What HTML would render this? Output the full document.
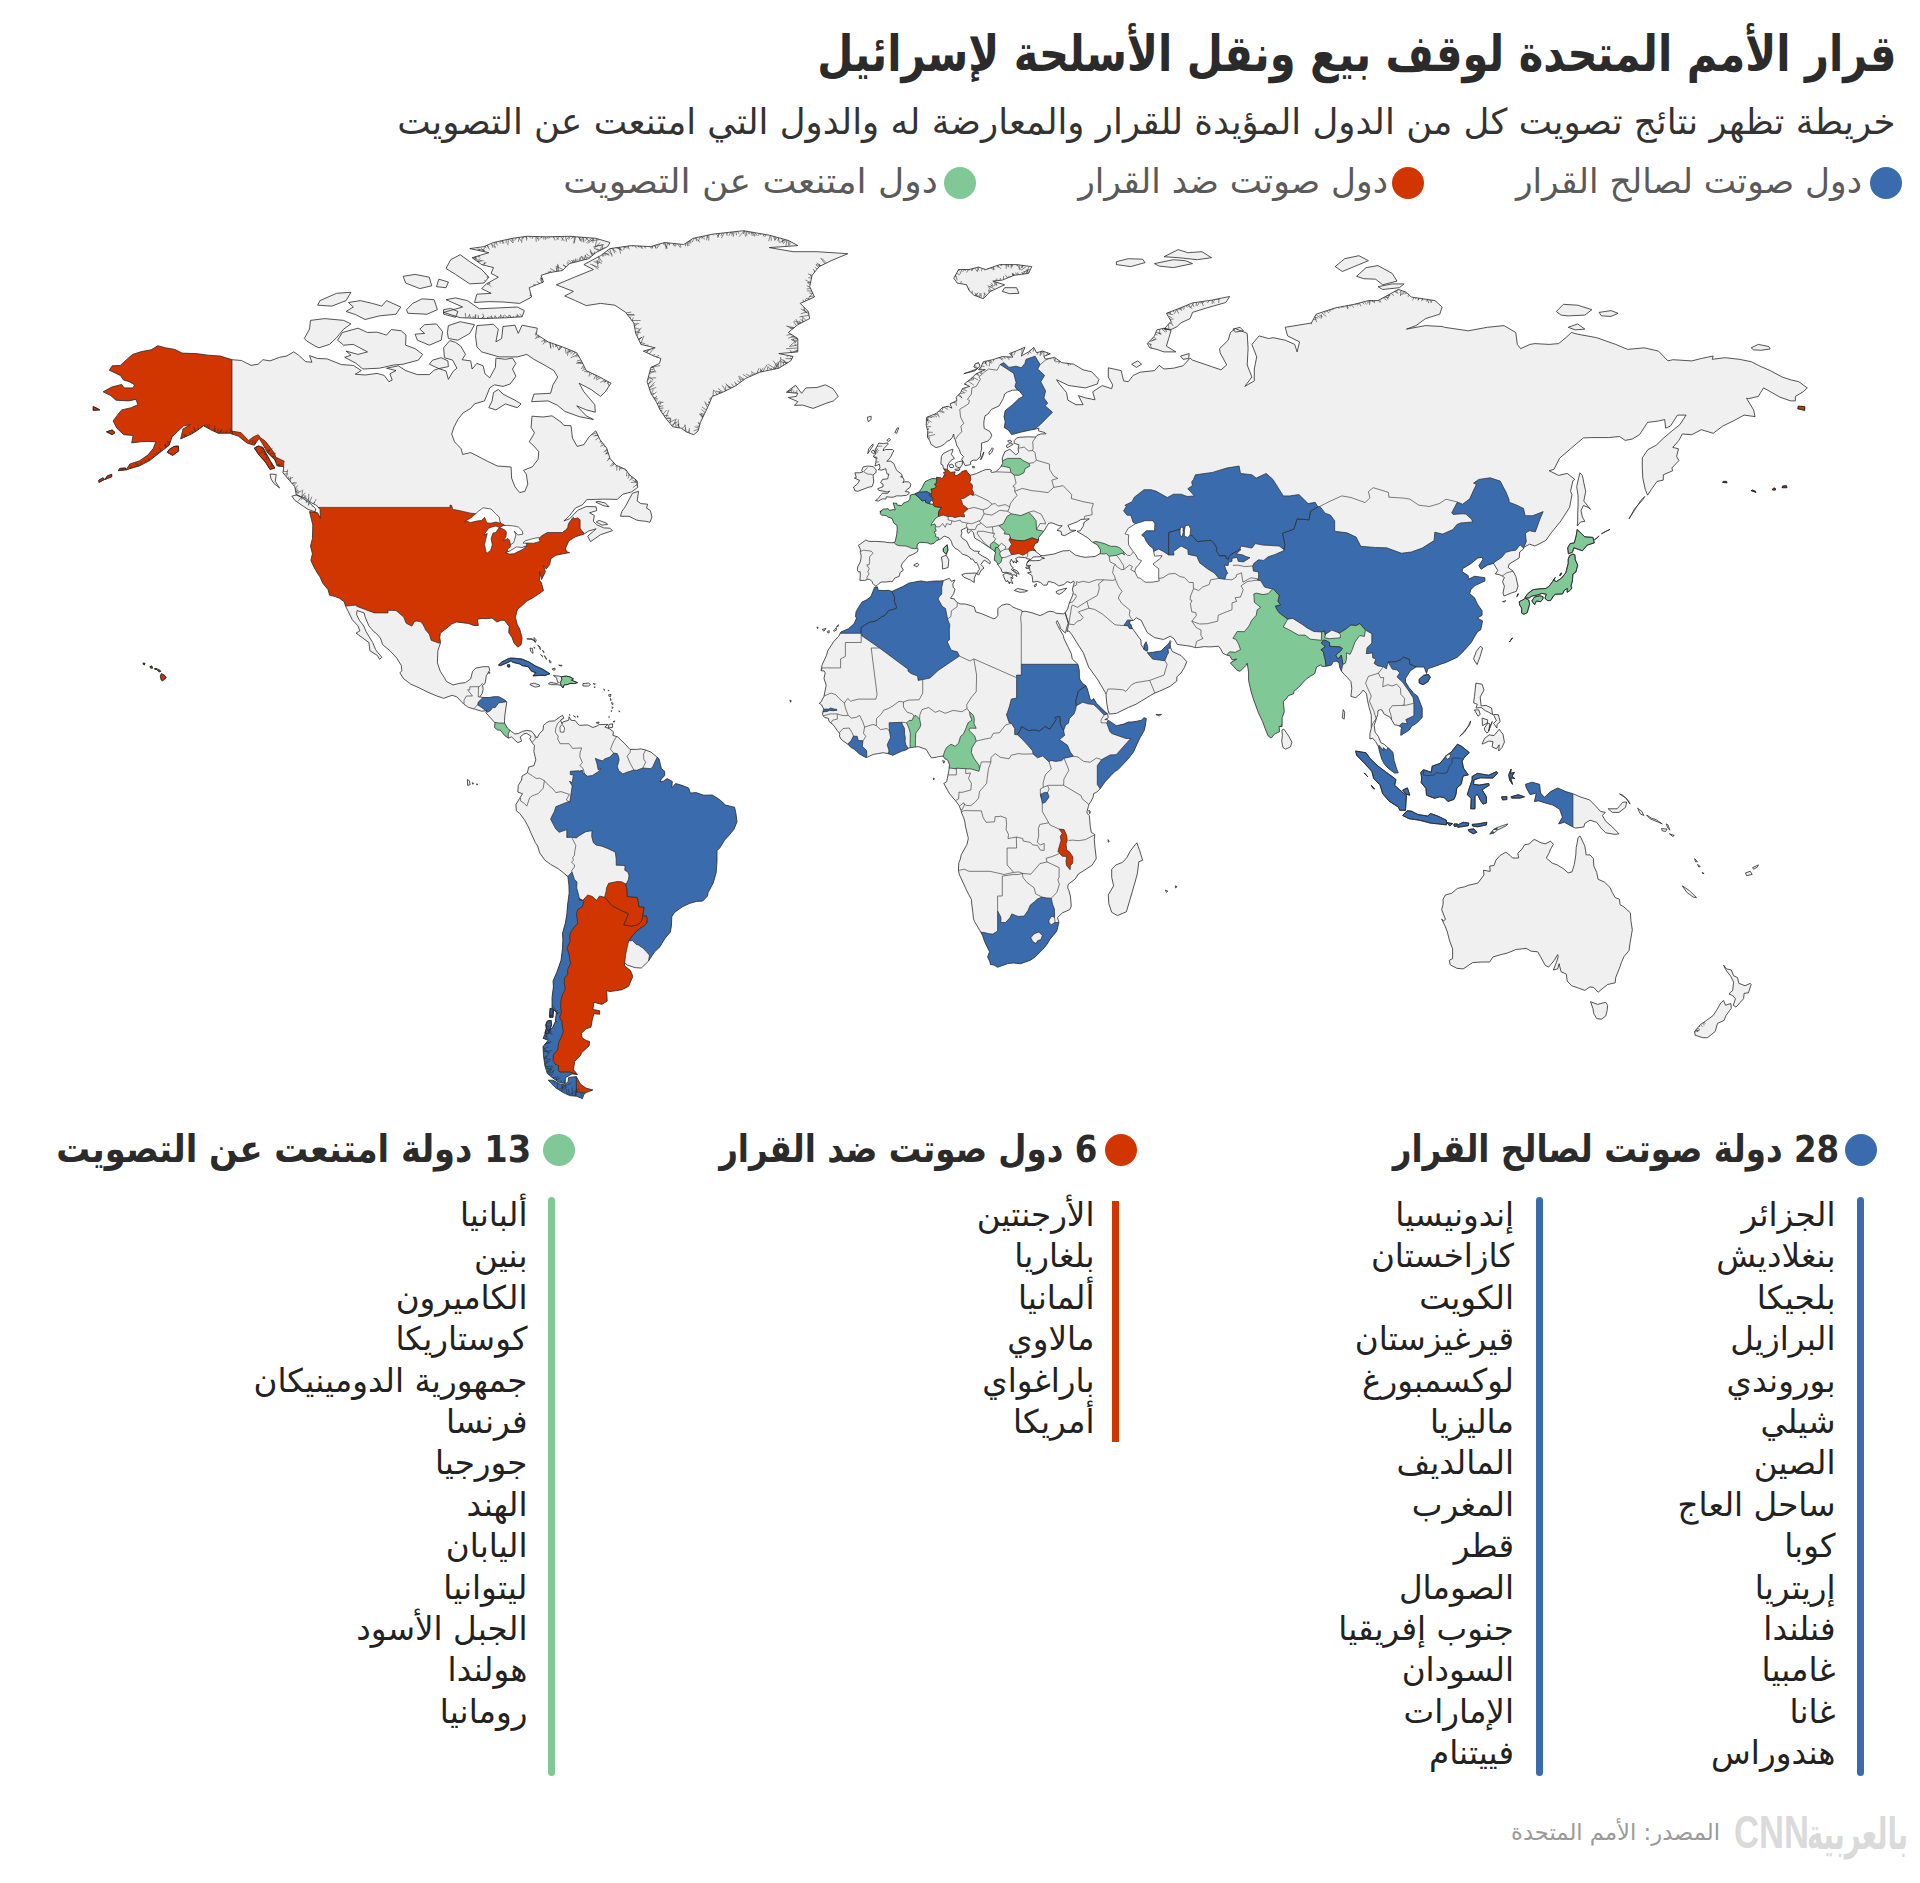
<!DOCTYPE html>
<html lang="ar" dir="rtl">
<head>
<meta charset="utf-8">
<title>قرار الأمم المتحدة لوقف بيع ونقل الأسلحة لإسرائيل</title>
<style>
html,body{margin:0;padding:0;background:#fff;}
body{width:1920px;height:1883px;position:relative;overflow:hidden;font-family:"DejaVu Sans","Liberation Sans",sans-serif;color:#2e2e2e;direction:rtl;}
.t{position:absolute;white-space:nowrap;line-height:1;margin:0;transform-origin:100% 50%;}
#title{right:24px;top:28.5px;font-size:50px;font-weight:700;color:#2b2b2b;transform:scaleX(.833);}
#sub{right:24.5px;top:104px;font-size:35.55px;color:#333;}
.lg{font-size:34.4px;color:#5a5a5a;top:164px;}
.dot{position:absolute;width:32px;height:32px;border-radius:50%;}
.b{background:#3a6bac}.r{background:#d13600}.g{background:#80c896}
.h{font-size:38px;font-weight:700;color:#2b2b2b;top:1130px;transform:scaleX(.855);}
.bar{position:absolute;width:7px;border-radius:3.5px;top:1197px;}
ul{position:absolute;list-style:none;margin:0;padding:0;top:1195px;text-align:right;}
li{height:41.4px;line-height:41.4px;font-size:32.6px;color:#222;white-space:nowrap;}
#src{left:1511px;top:1821px;font-size:22.7px;color:#9a9a9a;right:auto;}
.lar{right:12.5px;top:1812px;font-size:44px;font-weight:700;color:#dadada;transform:scaleX(.62);}
.len{left:1734px;right:auto;top:1821px;font-family:"Liberation Sans",sans-serif;font-size:34.6px;font-weight:700;color:#dadada;direction:ltr;transform:scaleY(1.33);transform-origin:0 100%;letter-spacing:0;}
</style>
</head>
<body>
<svg width="1920" height="1883" viewBox="0 0 1920 1883" style="position:absolute;left:0;top:0">
<defs><clipPath id="lc"><path d="M103.1 391.8L111.7 387.1L121.7 384.4L124.1 387.9L133.1 387.9L134.5 384.8L129.3 381.7L123.6 380.1L120.3 375.4L109.3 370.2L112.2 365.8L120.3 365.4L127.4 358.9L132.6 354.4L141.7 351.5L151.2 349.8L157.8 345.7L165.4 347.8L174.9 349.4L182.1 353.1L196.3 353.6L208.2 355.2L220.1 356.0L232.0 359.7L241.5 360.5L251.0 365.4L258.2 364.2L262.9 359.7L270.0 360.9L279.6 357.3L286.7 356.0L293.8 351.9L298.6 355.2L305.7 361.7L311.9 362.2L309.5 355.6L317.6 358.5L327.1 358.9L341.4 364.6L353.3 365.4L361.3 370.6L355.2 374.2L365.1 375.0L377.0 373.4L384.2 375.4L388.9 381.7L392.2 380.1L389.9 373.8L396.0 370.6L386.5 368.2L398.4 365.8L405.6 370.6L417.4 374.6L429.3 374.6L434.1 370.2L438.8 368.6L446.0 371.0L448.4 379.3L453.1 371.4L456.9 368.2L452.6 360.1L444.5 357.7L443.6 347.8L449.8 340.6L455.5 342.3L460.7 346.1L465.5 354.4L462.1 359.7L470.7 360.9L472.1 369.0L476.9 363.4L483.1 365.8L485.0 373.8L489.7 377.8L495.4 367.4L495.9 358.1L505.4 359.3L512.5 358.1L515.9 363.4L512.5 369.0L515.9 376.2L510.2 384.0L503.0 386.4L494.5 384.8L489.7 387.9L487.3 394.1L484.5 400.9L474.5 403.9L470.7 408.4L463.1 412.9L457.9 419.5L454.1 426.8L451.7 434.0L454.5 441.8L461.2 448.8L462.6 454.4L470.7 452.6L481.6 458.2L487.3 461.2L497.3 466.0L511.1 467.0L511.6 478.1L514.9 486.7L519.7 492.6L524.9 491.3L527.8 484.1L526.3 474.1L523.5 470.4L532.5 466.7L538.2 459.2L538.7 451.6L533.9 446.0L529.2 441.8L533.5 434.7L534.4 432.6L531.1 427.5L532.0 416.2L543.0 417.0L552.0 415.8L561.0 422.1L563.9 425.4L571.0 425.7L572.5 438.3L577.2 446.4L583.9 444.6L589.1 436.8L595.8 430.8L600.0 439.7L606.7 448.1L610.0 458.5L616.2 465.3L625.7 469.4L629.5 474.8L637.1 480.8L637.6 487.4L631.4 492.0L622.9 494.2L617.2 499.4L602.9 499.1L586.7 499.7L582.4 504.9L575.3 508.1L569.6 515.7L563.9 521.0L569.6 518.8L577.7 510.3L586.2 506.5L596.2 506.8L596.7 510.6L589.6 512.8L594.3 515.4L593.4 521.3L596.7 524.8L603.8 527.9L610.0 528.2L612.4 530.7L600.5 534.7L590.5 541.7L587.7 536.2L593.4 531.3L596.2 528.8L588.6 531.0L583.9 534.1L575.3 536.8L568.7 541.1L566.3 546.6L565.3 549.0L567.2 552.0L569.6 552.6L562.9 553.8L555.8 555.3L551.1 558.6L550.6 560.1L549.6 564.6L546.3 569.0L543.5 565.7L545.4 571.6L541.6 579.5L539.6 571.6L539.6 580.4L541.3 582.7L543.5 590.5L538.7 594.0L532.0 598.3L526.8 601.1L522.5 605.1L517.3 609.7L515.4 617.5L517.3 624.8L519.7 629.0L522.1 638.1L521.1 644.7L517.8 647.2L514.0 643.1L512.1 637.6L508.7 632.6L509.2 626.5L504.5 620.3L501.1 620.3L496.9 622.0L492.1 618.1L486.4 618.7L482.1 618.4L477.4 619.2L478.3 625.6L473.6 625.4L468.3 623.4L463.6 622.9L456.4 622.0L451.7 624.0L446.0 628.7L440.3 633.1L439.8 637.6L440.5 642.8L437.9 650.7L437.4 662.7L440.3 671.3L444.1 677.2L446.5 681.5L453.1 685.0L459.3 683.4L465.5 682.6L470.7 678.8L472.6 671.3L475.9 668.1L483.1 666.7L488.8 666.7L489.7 670.2L486.4 675.6L485.0 683.6L482.6 685.2L483.1 689.5L482.1 693.7L479.7 696.9L484.0 697.5L489.2 697.5L494.0 696.7L498.8 696.7L504.9 700.1L506.8 702.0L505.9 708.0L504.9 714.9L504.5 720.2L504.5 723.0L507.3 728.0L511.6 731.7L514.9 734.0L518.3 733.5L522.5 731.4L526.8 730.4L531.6 731.2L534.7 735.0L537.0 738.0L539.6 733.5L543.0 730.1L543.5 725.4L546.8 722.5L549.6 721.2L554.4 720.9L559.1 717.5L562.5 715.2L563.9 718.1L560.6 720.2L562.0 723.8L562.9 722.0L568.7 720.2L569.1 716.7L571.0 720.2L575.3 720.7L577.7 723.8L579.6 725.4L587.7 724.9L592.9 727.5L597.2 725.9L599.1 724.6L608.1 724.4L604.8 727.0L609.5 728.8L613.4 731.7L612.9 735.4L617.6 736.9L624.3 743.2L630.0 749.4L636.7 749.4L640.9 748.9L645.7 750.0L650.9 752.1L656.6 756.7L659.0 758.8L661.4 768.7L664.7 771.3L664.7 775.5L661.4 779.1L660.0 781.7L663.3 781.2L667.1 778.6L672.3 781.4L671.8 787.9L675.6 783.5L681.8 785.3L688.5 787.9L690.4 793.1L696.1 792.6L703.7 795.2L712.3 795.0L719.4 799.4L725.6 805.1L731.3 806.4L734.6 807.2L736.0 814.0L737.0 821.8L734.1 829.1L729.4 834.9L724.6 840.1L719.9 847.8L717.0 850.7L717.0 861.2L716.1 872.9L713.2 883.1L708.0 892.8L707.5 896.0L702.7 901.1L696.6 901.4L689.9 903.3L682.3 906.8L674.7 912.3L671.8 916.7L671.4 926.0L670.4 932.1L664.7 938.8L660.0 946.7L654.2 952.3L648.5 961.1L641.4 968.0L635.2 967.7L627.4 965.1L624.3 962.6L624.8 966.0L630.5 970.6L632.8 976.4L628.6 986.3L621.9 989.8L610.0 991.6L606.7 990.7L607.2 1001.1L601.9 1004.4L593.9 1002.3L592.9 1009.5L599.6 1010.7L599.6 1014.3L593.9 1013.7L592.4 1019.2L591.0 1027.1L585.8 1029.0L581.5 1033.3L582.0 1037.7L586.2 1040.5L589.6 1041.4L589.1 1045.9L581.5 1052.8L580.5 1055.4L574.8 1061.2L573.4 1069.6L577.5 1074.5L572.0 1073.9L565.3 1077.8L565.3 1083.5L559.6 1082.8L553.0 1078.2L547.3 1073.6L544.9 1065.7L543.5 1056.0L543.0 1046.5L548.2 1040.2L543.0 1038.3L546.3 1031.5L552.5 1027.8L555.3 1021.6L556.3 1012.5L552.0 1008.3L552.0 997.5L553.4 986.9L553.0 981.0L556.8 972.3L561.0 960.3L562.5 948.4L562.9 939.9L562.5 933.2L565.3 923.3L566.8 914.5L567.7 904.1L569.1 893.3L568.9 885.2L567.9 876.7L562.9 872.4L558.2 868.7L550.6 864.4L544.9 860.2L539.6 852.8L537.7 845.9L535.4 842.8L531.1 833.3L528.2 826.5L524.4 819.7L519.7 813.4L516.3 810.8L515.9 804.6L519.7 798.3L522.5 793.7L517.8 792.1L518.3 785.3L521.6 780.1L522.1 776.0L527.3 772.9L528.7 767.1L533.9 765.6L535.8 759.9L533.9 751.5L534.4 745.3L532.0 742.7L529.7 738.5L531.1 736.4L526.8 733.3L524.0 733.8L520.2 736.9L521.6 741.1L517.8 742.7L514.9 740.1L511.6 736.9L508.3 738.2L504.5 735.4L500.2 730.1L497.8 730.1L494.5 727.5L495.0 722.8L490.7 718.1L485.9 712.8L486.9 710.7L481.6 711.2L475.5 709.4L468.3 707.3L464.0 704.3L456.9 696.9L452.2 695.3L443.6 698.3L436.5 695.9L427.9 692.2L419.3 687.9L410.8 684.2L403.7 678.8L399.9 672.9L401.8 670.8L401.3 665.4L396.5 657.8L389.9 650.7L382.7 644.7L380.4 638.1L376.6 633.7L373.7 631.5L368.9 625.9L365.1 617.0L364.2 613.0L357.1 610.5L356.6 614.7L359.4 620.3L363.7 625.9L366.1 631.5L368.9 636.4L372.7 642.5L375.6 649.6L378.0 652.9L381.8 657.2L379.6 659.4L377.5 655.6L369.9 650.7L368.9 642.5L362.8 638.1L356.1 633.1L359.9 630.9L358.0 625.9L352.3 619.8L348.5 611.9L345.6 606.3L344.2 601.7L339.5 598.3L335.2 596.6L329.5 595.1L328.1 589.7L322.8 583.3L320.0 576.9L317.6 573.4L313.8 566.9L310.9 560.4L312.4 553.8L310.5 546.0L312.4 538.7L312.8 525.1L309.5 511.6L317.6 512.8L320.4 518.2L320.0 509.4L316.6 505.5L310.5 502.3L305.7 498.5L296.2 494.6L294.8 486.7L289.1 480.1L282.9 472.8L283.8 466.7L277.2 466.0L274.8 459.9L267.7 453.0L263.4 445.3L259.1 438.3L254.3 445.3L247.2 443.2L238.2 436.1L229.6 433.3L218.2 433.3L210.6 429.7L203.5 425.7L197.3 430.4L191.6 434.0L180.6 439.0L183.0 429.0L190.2 424.6L183.5 426.1L177.3 431.8L172.1 436.8L169.2 445.3L159.2 453.0L149.7 460.6L139.3 466.0L129.8 468.7L126.0 470.1L129.8 464.0L139.3 460.9L147.8 455.1L153.1 448.8L155.9 441.8L147.8 441.4L140.7 441.8L131.7 442.9L133.1 435.4L123.6 434.7L116.9 428.2L113.1 421.0L117.9 414.4L121.7 409.9L131.2 407.7L137.9 404.7L135.9 399.4L128.3 400.9L116.0 400.2L110.7 395.6ZM1049.1 358.5L1054.6 357.3L1061.7 362.6L1073.6 364.2L1083.1 369.8L1091.7 371.8L1098.8 379.3L1097.4 384.0L1085.5 387.9L1068.9 385.6L1056.5 379.7L1059.4 384.0L1066.5 392.5L1067.9 400.2L1076.0 404.7L1083.1 404.7L1078.4 395.6L1085.5 397.9L1095.0 399.8L1092.7 391.8L1102.2 385.6L1111.7 388.7L1112.6 384.8L1108.3 377.0L1108.3 367.8L1121.2 370.6L1123.6 380.9L1128.3 381.7L1133.1 375.4L1140.2 372.2L1154.5 370.6L1159.2 365.4L1164.0 369.0L1173.5 368.2L1183.0 365.8L1190.1 358.1L1192.5 360.1L1211.5 366.6L1221.0 369.8L1226.7 365.0L1220.1 352.7L1219.6 348.6L1228.2 340.2L1230.5 332.5L1235.3 328.6L1247.2 333.4L1248.1 348.6L1247.2 365.0L1251.9 377.0L1244.8 386.4L1254.3 380.9L1254.3 369.0L1256.7 356.9L1251.9 344.4L1259.1 335.9L1268.6 338.5L1273.3 337.7L1285.2 340.2L1294.7 344.4L1297.1 351.9L1299.5 341.9L1287.6 335.9L1285.2 327.3L1311.4 323.0L1316.1 314.2L1335.2 307.9L1354.2 304.3L1368.4 300.6L1378.0 300.6L1398.4 289.4L1406.5 292.3L1411.2 297.0L1435.0 300.6L1442.1 307.0L1439.8 314.2L1425.5 318.6L1416.0 325.6L1406.5 329.1L1425.5 325.6L1442.1 326.5L1444.5 327.3L1468.3 330.8L1487.3 327.3L1504.0 325.6L1515.8 332.5L1517.3 344.4L1520.6 348.6L1530.1 344.4L1534.9 343.6L1549.1 344.4L1558.6 343.6L1565.8 337.7L1571.5 332.5L1577.7 334.2L1596.7 337.7L1615.7 344.4L1627.6 349.4L1644.2 347.8L1658.5 351.1L1668.0 360.9L1672.8 359.7L1691.8 360.9L1701.3 358.5L1713.2 356.0L1712.2 359.3L1725.1 357.7L1739.3 359.3L1751.2 361.7L1758.4 365.4L1770.2 370.6L1782.1 377.0L1791.6 380.1L1798.8 381.7L1807.3 387.9L1803.1 391.8L1795.4 396.4L1795.4 400.9L1790.7 400.9L1779.8 397.1L1763.6 387.9L1760.7 392.5L1758.4 396.4L1748.8 398.6L1746.5 398.3L1753.6 409.9L1755.0 416.6L1744.1 415.1L1734.6 420.3L1722.7 426.1L1713.2 433.3L1701.3 429.7L1691.8 434.7L1682.3 434.0L1678.9 440.4L1672.8 447.4L1678.5 448.8L1676.6 456.4L1678.9 460.6L1671.8 468.0L1672.8 470.7L1663.3 474.8L1663.3 480.1L1657.1 481.4L1651.4 489.3L1647.6 495.2L1645.2 489.3L1642.8 478.1L1642.3 468.0L1642.3 457.8L1648.0 449.5L1656.1 445.3L1663.3 438.3L1671.8 431.1L1679.9 424.6L1686.1 415.1L1677.5 415.1L1670.4 426.1L1665.6 428.2L1664.7 419.5L1658.5 421.0L1647.6 422.4L1639.5 434.7L1632.3 439.0L1625.2 440.4L1619.5 436.5L1608.6 437.6L1591.9 437.6L1583.4 437.9L1570.5 448.8L1559.6 458.2L1553.9 469.4L1549.1 470.7L1558.6 475.4L1567.2 473.4L1574.8 479.4L1572.9 480.8L1570.5 491.3L1572.0 494.6L1569.6 507.4L1563.4 517.0L1560.1 522.0L1551.5 532.5L1545.8 540.5L1534.9 546.0L1529.6 544.2L1523.9 547.2L1523.5 549.0L1519.7 552.0L1519.2 558.0L1509.2 564.0L1508.2 567.5L1513.0 571.1L1515.8 576.3L1518.0 586.2L1516.3 591.4L1511.1 593.1L1504.0 596.0L1503.0 593.1L1504.4 586.2L1502.5 581.6L1504.4 577.5L1502.1 576.0L1499.2 574.6L1495.4 574.0L1497.8 570.5L1493.5 563.4L1487.3 565.2L1481.1 569.3L1478.8 565.7L1483.0 559.2L1481.6 557.4L1477.8 558.0L1471.2 563.4L1462.6 568.7L1462.1 571.6L1468.3 575.7L1468.3 579.3L1474.5 576.3L1479.7 576.9L1484.9 577.8L1484.9 581.0L1475.0 585.6L1470.7 589.7L1469.7 593.7L1474.5 597.7L1477.3 604.0L1482.1 610.8L1482.1 615.3L1477.3 618.1L1482.6 620.9L1480.7 629.8L1477.3 632.0L1471.2 642.5L1464.0 650.7L1457.4 657.2L1445.5 662.7L1442.1 663.7L1433.1 667.0L1427.9 668.6L1426.5 673.5L1424.1 667.0L1421.2 667.0L1416.0 667.0L1410.3 670.8L1405.5 678.3L1405.5 682.0L1408.9 687.4L1414.1 693.7L1417.4 695.9L1422.2 708.0L1422.2 717.5L1416.5 723.3L1411.7 726.2L1409.3 730.1L1400.8 735.4L1401.0 729.1L1402.2 728.0L1399.1 725.9L1397.0 725.1L1394.6 724.9L1392.2 720.7L1389.8 717.0L1384.1 714.1L1382.2 710.2L1380.3 709.6L1378.0 710.7L1377.7 714.6L1374.2 725.4L1375.1 732.2L1378.4 736.4L1380.8 742.7L1384.1 744.2L1387.9 747.6L1388.7 748.1L1392.9 752.3L1394.1 760.4L1396.3 767.7L1398.2 772.9L1394.6 773.1L1388.7 768.7L1384.6 764.5L1381.8 759.3L1379.6 752.1L1378.4 746.6L1375.6 741.6L1372.7 738.2L1369.9 739.0L1369.9 733.8L1371.3 728.3L1371.3 715.2L1368.9 706.5L1367.5 700.4L1366.5 693.7L1363.2 690.0L1360.4 693.7L1355.6 697.7L1350.9 696.4L1351.8 688.4L1350.9 681.5L1347.0 677.2L1344.2 674.3L1341.3 671.0L1339.7 667.3L1339.0 662.7L1336.1 661.0L1333.3 661.6L1331.4 665.1L1328.0 665.9L1326.1 666.2L1321.8 666.4L1320.9 664.8L1316.6 667.0L1314.7 673.7L1310.7 676.1L1306.2 679.1L1298.5 687.4L1293.8 691.4L1293.8 693.7L1288.3 695.6L1287.1 697.7L1283.3 701.7L1283.6 704.9L1284.3 711.7L1282.1 717.8L1282.1 726.5L1279.1 726.5L1279.5 731.7L1274.3 734.3L1271.2 738.1L1268.1 735.9L1265.0 728.3L1262.6 721.5L1258.4 712.8L1253.4 699.1L1251.0 691.1L1248.6 680.7L1248.6 672.9L1248.1 668.9L1247.2 663.2L1245.8 665.6L1240.1 671.3L1237.0 670.2L1233.4 666.2L1230.3 662.9L1236.7 659.1L1232.2 660.0L1229.6 655.6L1226.7 655.1L1222.9 653.4L1220.8 649.1L1218.7 646.3L1209.6 646.9L1204.4 646.6L1198.7 647.4L1196.1 647.7L1190.6 646.3L1177.3 644.4L1174.0 638.7L1170.2 636.2L1163.5 639.5L1154.5 637.6L1147.3 632.6L1144.2 626.5L1141.2 620.3L1136.4 617.8L1133.3 620.6L1130.5 620.3L1129.3 623.7L1130.7 624.0L1132.1 628.1L1133.1 629.3L1138.5 637.0L1140.9 640.0L1141.2 644.7L1144.0 649.3L1144.0 645.2L1146.1 641.7L1147.6 646.3L1147.8 650.2L1146.4 650.4L1147.8 652.9L1152.6 652.3L1161.1 651.0L1165.4 646.6L1168.7 643.6L1170.2 640.6L1170.9 641.4L1170.2 644.7L1170.4 647.4L1172.3 651.5L1181.1 655.6L1186.8 661.6L1184.4 667.5L1181.1 672.9L1176.8 676.9L1176.8 681.0L1170.2 686.3L1159.7 691.1L1154.9 693.0L1150.7 695.3L1135.9 704.3L1128.3 707.5L1116.4 713.3L1109.3 714.1L1108.1 710.7L1106.7 702.8L1106.0 694.3L1104.8 691.6L1097.9 679.9L1088.6 667.0L1083.4 652.9L1075.8 641.1L1072.2 635.1L1068.9 630.9L1067.0 631.5L1068.6 624.2L1068.9 623.0L1068.4 623.1L1065.2 612.9L1067.7 608.8L1068.9 604.6L1069.8 601.9L1071.3 598.3L1072.7 595.1L1073.2 592.6L1072.4 589.1L1073.4 585.6L1074.3 582.7L1073.6 581.0L1070.8 583.0L1067.0 581.6L1063.9 584.5L1058.7 585.9L1054.6 583.0L1048.4 581.3L1047.0 585.1L1043.4 585.1L1040.8 582.7L1037.0 581.3L1032.7 582.2L1032.7 580.1L1032.0 575.5L1027.5 572.8L1031.3 572.2L1029.9 570.5L1029.4 566.9L1030.6 565.4L1026.3 565.7L1027.0 562.8L1029.4 560.7L1035.4 560.7L1039.9 560.4L1041.8 558.9L1044.6 558.3L1040.6 556.8L1041.1 555.5L1043.2 555.7L1053.7 554.1L1062.9 550.9L1069.6 550.6L1075.3 555.0L1080.8 556.5L1085.0 557.3L1091.2 556.8L1095.0 556.5L1100.0 553.7L1100.3 552.9L1100.5 549.9L1097.4 544.8L1093.8 542.9L1092.7 542.3L1091.2 541.1L1088.1 538.1L1082.2 534.4L1079.8 533.1L1077.0 531.3L1080.3 530.7L1083.1 526.3L1084.3 522.0L1089.3 518.8L1081.0 519.5L1077.4 521.7L1067.9 525.4L1070.3 530.1L1076.0 530.4L1070.8 532.2L1064.8 535.6L1061.7 535.0L1061.0 531.3L1057.0 530.4L1062.2 525.7L1058.9 525.7L1052.2 522.9L1048.7 523.2L1047.2 525.7L1043.7 531.3L1038.7 537.4L1038.4 540.2L1037.7 542.6L1035.1 543.6L1033.2 547.8L1035.8 550.9L1035.6 551.4L1040.6 555.3L1040.1 556.8L1033.2 556.9L1031.3 559.2L1029.2 560.4L1027.0 562.5L1029.9 559.2L1026.3 558.6L1025.6 557.7L1018.5 557.1L1015.6 558.6L1018.2 561.9L1016.1 560.4L1016.6 563.1L1013.7 561.3L1013.7 563.1L1011.3 559.2L1009.9 562.8L1011.6 566.6L1013.2 567.5L1011.3 569.6L1013.2 571.1L1016.6 573.7L1016.8 576.6L1014.9 574.9L1011.8 574.9L1012.8 577.2L1012.8 578.7L1010.9 577.2L1011.3 579.5L1012.8 583.6L1009.7 581.9L1009.4 583.9L1007.5 580.3L1006.6 582.0L1005.6 581.0L1003.7 576.6L1002.8 574.9L1005.9 573.1L1011.3 574.6L1011.3 573.4L1006.1 572.2L1004.2 572.5L1002.3 572.5L1001.1 569.0L999.5 566.9L998.7 565.7L997.6 564.6L997.6 563.5L994.9 560.1L994.2 560.4L994.9 555.0L995.7 552.0L994.6 551.7L993.3 550.2L990.7 548.4L988.5 546.9L980.7 541.7L974.7 538.1L973.3 532.5L971.2 530.4L968.3 533.5L967.1 531.0L967.6 529.1L967.8 528.5L966.6 527.6L961.2 530.1L961.9 532.8L960.9 536.2L962.4 538.4L966.6 541.1L970.0 548.1L974.3 551.1L979.5 551.4L978.1 553.2L982.6 556.2L987.8 558.9L990.4 561.9L989.7 564.0L988.0 562.5L984.2 560.1L980.9 564.3L984.0 568.1L981.4 569.9L978.8 575.0L976.9 574.0L978.1 571.9L977.8 571.1L979.5 569.3L978.7 566.6L976.6 562.5L975.2 562.8L972.6 558.9L970.7 559.2L970.2 557.8L966.9 555.6L962.4 554.1L960.5 552.3L958.6 550.2L955.2 548.4L952.4 545.1L951.4 541.4L949.1 538.1L944.8 536.2L942.9 536.8L940.5 539.3L938.4 540.0L936.9 540.5L935.7 541.4L934.1 543.2L930.7 544.2L927.9 542.9L924.3 542.6L920.0 542.3L917.4 544.2L917.0 547.2L917.5 548.2L918.1 549.0L917.4 551.7L912.9 554.4L908.4 556.2L906.5 558.6L902.5 563.1L901.0 566.0L903.4 570.2L900.1 572.5L899.1 576.6L897.7 576.9L894.8 578.1L892.0 582.0L890.8 581.4L885.8 582.0L881.5 582.0L879.2 583.3L877.0 585.5L875.8 586.2L872.5 583.3L872.3 581.6L869.4 579.3L867.3 579.4L864.7 580.4L859.9 580.4L860.3 574.9L860.1 571.6L858.7 572.1L857.5 570.5L857.3 570.0L857.8 566.6L860.3 561.9L860.8 558.9L861.2 555.9L860.4 552.6L860.3 551.6L860.6 549.6L858.4 545.4L862.5 542.5L865.8 540.0L868.9 541.4L875.5 541.4L884.4 541.9L888.0 542.6L892.9 542.8L894.0 542.5L895.1 541.8L896.7 534.7L897.2 529.1L897.0 525.4L893.9 523.2L892.0 518.4L887.7 517.0L886.5 515.6L881.7 515.1L880.0 513.6L881.1 511.4L879.8 511.7L883.4 509.2L888.2 508.7L889.4 510.4L892.9 509.7L895.3 509.8L894.8 508.5L893.2 502.8L894.8 503.3L896.4 503.0L897.2 505.1L901.3 505.7L902.9 504.2L903.4 503.0L907.6 501.5L909.8 499.7L910.1 496.3L910.0 495.4L911.3 494.8L913.8 494.2L914.6 494.0L916.2 493.1L918.5 492.2L919.3 491.6L922.0 488.0L925.0 481.8L928.1 480.2L931.9 478.6L935.0 478.4L936.7 479.4L936.5 477.2L941.0 477.8L941.7 478.4L943.1 477.8L943.8 475.6L945.2 475.6L944.5 473.9L943.3 472.8L945.5 471.6L943.6 468.7L942.6 464.9L940.9 464.2L941.1 460.6L941.4 456.4L943.3 453.5L949.8 450.2L952.9 449.2L952.6 451.3L951.4 454.4L954.4 458.4L951.2 460.2L948.6 463.3L948.9 464.2L947.6 464.7L947.4 467.7L947.4 469.4L950.7 472.4L955.2 471.8L954.3 475.1L956.9 475.4L960.0 473.6L961.9 471.6L966.2 470.2L967.8 472.8L970.2 475.3L976.4 473.6L982.6 470.7L985.9 469.6L989.9 469.4L991.8 470.7L990.7 471.4L991.4 472.3L992.6 472.4L995.9 471.8L997.1 470.4L999.7 468.3L1002.8 463.3L1002.5 461.8L1002.5 460.8L1002.3 457.8L1004.9 451.6L1009.9 449.2L1015.6 454.6L1017.1 454.0L1018.5 452.5L1018.2 448.3L1019.0 444.8L1014.2 443.4L1014.2 440.7L1016.8 437.9L1020.1 437.2L1028.5 436.8L1035.8 437.1L1037.0 435.4L1040.6 434.0L1046.1 433.8L1044.9 432.6L1038.4 430.8L1038.9 428.2L1034.6 429.3L1030.6 430.0L1021.1 432.1L1011.6 434.6L1008.3 430.0L1004.2 427.5L1004.7 425.1L1005.2 421.7L1004.0 416.8L1005.2 410.7L1010.4 406.4L1012.3 405.1L1018.7 398.8L1023.5 396.2L1019.2 390.8L1017.3 390.0L1012.5 390.2L1007.8 391.9L1004.7 393.9L1003.3 398.6L999.0 406.0L991.5 409.3L987.8 414.2L985.0 415.8L984.0 420.8L983.8 423.9L984.2 428.4L989.9 431.5L991.8 435.1L990.4 438.3L987.8 441.1L983.8 442.4L981.4 443.2L981.6 449.2L980.7 452.5L980.3 456.6L976.6 460.2L973.1 460.1L970.5 461.8L970.7 464.3L968.2 465.2L965.0 465.5L964.3 464.0L962.8 460.9L961.7 459.2L963.6 456.6L960.7 453.7L959.3 449.5L956.8 445.5L955.6 440.9L955.3 439.7L954.5 439.0L953.6 434.0L952.3 437.4L950.1 440.0L947.2 441.3L944.2 444.2L940.5 446.4L936.0 447.6L934.8 446.9L931.0 444.3L929.7 440.6L927.5 437.4L927.7 430.4L926.2 425.4L926.4 421.7L926.7 417.3L931.7 415.3L936.5 413.3L939.2 410.5L942.9 407.3L948.1 406.2L951.9 408.2L950.0 403.9L957.1 400.4L955.9 397.4L960.5 392.8L962.5 388.5L969.7 386.4L964.3 384.0L970.9 378.7L976.2 373.8L985.3 369.6L978.5 369.8L981.2 366.6L983.3 361.7L992.6 359.7L1002.1 356.6L1013.0 357.1L1009.4 353.6L1015.1 351.4L1025.0 347.2L1021.3 356.0L1028.5 351.9L1033.9 347.5L1036.5 352.7L1042.7 351.1L1050.3 353.8L1043.9 356.3L1045.3 359.1ZM874.3 587.5L877.3 586.8L878.2 590.3L883.9 590.5L888.4 590.3L892.0 591.4L899.4 588.0L902.9 586.5L908.6 583.2L917.0 581.6L921.0 580.9L926.7 581.9L929.8 581.5L935.3 581.0L939.4 581.0L943.3 580.7L949.3 578.4L951.4 581.3L955.0 580.0L952.9 583.9L953.1 587.2L955.0 589.1L953.7 593.5L950.5 598.3L954.3 598.9L955.2 600.6L957.4 602.5L960.0 603.9L965.2 604.0L970.2 605.4L974.3 606.9L975.7 611.9L981.4 613.6L990.7 617.5L993.8 618.8L995.7 618.1L997.8 615.6L997.8 608.5L1002.1 605.1L1006.8 604.0L1010.2 604.7L1012.3 606.8L1016.5 608.6L1021.8 610.4L1022.0 611.6L1025.6 611.3L1032.0 612.8L1040.1 615.6L1044.6 613.6L1047.0 612.1L1049.9 611.3L1053.7 611.8L1056.0 613.2L1063.2 613.9L1065.2 612.9L1068.4 623.1L1067.2 625.9L1066.5 628.7L1065.6 632.3L1065.3 633.0L1062.2 630.1L1060.3 628.1L1059.8 625.6L1057.2 620.6L1056.3 622.6L1057.7 625.4L1059.8 629.5L1063.4 635.6L1063.9 638.4L1065.6 642.0L1068.4 647.7L1071.3 653.7L1072.2 658.9L1076.7 663.2L1077.9 664.3L1079.3 670.2L1079.4 677.2L1080.1 679.9L1082.7 683.6L1086.0 685.8L1087.4 689.0L1090.0 698.5L1091.7 700.6L1093.6 698.5L1096.5 703.3L1100.3 707.0L1105.7 712.3L1107.5 713.8L1108.3 717.8L1104.8 719.6L1107.6 719.6L1108.1 720.4L1109.3 720.9L1116.4 725.7L1123.6 724.1L1128.3 722.0L1131.6 722.0L1136.4 721.3L1141.6 720.2L1143.8 717.7L1146.3 718.4L1145.4 725.7L1144.2 730.6L1139.5 738.7L1137.1 744.0L1133.3 752.3L1127.8 759.3L1118.1 769.6L1115.2 771.3L1111.9 774.4L1104.8 782.1L1100.2 788.8L1096.9 792.0L1093.6 793.7L1093.2 796.9L1091.1 801.2L1088.9 804.5L1088.4 806.5L1086.9 811.9L1087.4 813.6L1089.3 815.6L1089.8 820.7L1090.3 826.7L1091.3 832.3L1093.6 833.7L1094.8 834.7L1094.3 839.3L1095.0 847.9L1096.0 856.2L1096.2 858.7L1092.2 865.1L1083.9 870.6L1078.4 874.0L1075.1 879.1L1068.2 884.3L1067.7 887.9L1068.9 890.6L1070.4 896.0L1071.3 906.1L1069.8 909.6L1062.5 912.8L1057.5 917.6L1058.9 922.5L1056.8 931.0L1055.1 933.2L1050.1 939.2L1047.2 944.1L1043.0 949.1L1035.1 957.0L1030.4 960.3L1024.4 962.4L1020.6 963.7L1013.6 963.0L1007.8 963.6L997.6 967.3L994.0 965.0L992.0 964.7L990.4 964.6L990.0 962.1L987.6 957.0L989.5 951.8L987.3 947.2L984.6 941.7L982.7 935.8L980.8 932.2L974.5 921.4L973.5 918.9L972.8 912.3L971.4 901.1L971.5 899.7L968.8 894.7L966.2 889.5L963.3 883.1L959.5 875.0L958.4 870.5L958.8 862.8L960.2 859.6L961.2 854.9L966.2 845.8L966.9 844.6L968.3 838.6L967.8 836.1L965.4 826.1L964.7 821.0L963.7 817.8L961.2 812.0L961.4 811.3L960.5 809.0L958.8 805.1L955.5 800.7L953.1 798.0L949.1 793.1L943.8 783.4L946.7 781.7L947.4 778.1L948.0 774.9L948.9 770.4L949.1 767.9L949.5 764.8L947.9 760.4L946.2 759.2L945.0 758.8L943.1 756.2L941.9 756.2L938.4 756.7L936.5 757.2L931.5 757.9L928.8 753.9L926.2 749.4L918.6 746.7L915.3 747.0L914.0 747.1L910.2 747.7L908.3 748.2L907.2 749.4L905.5 750.1L901.5 751.3L896.5 753.6L894.1 754.7L892.5 755.4L891.8 754.8L887.7 753.6L883.4 752.7L878.7 753.5L873.5 754.4L870.9 755.4L867.5 757.2L866.6 757.4L865.7 757.4L859.5 754.1L854.7 749.5L851.1 747.4L848.4 745.0L847.8 744.1L847.4 743.9L843.0 740.8L840.9 739.0L839.4 736.0L839.9 734.0L839.2 733.0L837.3 730.6L835.4 727.8L833.0 724.6L830.9 723.0L829.2 721.7L828.3 718.3L824.9 717.5L823.0 715.8L822.6 714.4L822.8 711.9L823.5 709.9L823.8 709.1L822.8 707.3L821.6 704.9L819.2 703.3L820.9 702.2L824.0 696.2L826.2 685.2L824.0 678.4L825.2 672.9L824.0 670.8L821.4 670.9L821.1 670.5L822.1 664.8L826.6 655.1L827.8 650.7L833.5 641.8L838.7 636.2L841.0 631.9L848.5 628.7L854.0 623.8L856.6 618.0L855.5 616.8L856.0 611.9L858.5 607.4L862.0 602.0L866.3 600.0L869.9 597.6L871.1 596.0L873.2 590.8L873.8 589.3ZM1136.9 842.8L1139.7 850.7L1142.6 860.2L1138.8 861.8L1137.4 873.4L1134.5 884.1L1130.2 898.7L1126.4 911.8L1117.4 915.6L1111.7 912.3L1108.8 903.6L1108.3 894.9L1113.6 885.8L1111.7 877.2L1111.7 869.2L1116.0 864.9L1122.6 862.3L1126.9 857.5L1130.2 851.2L1135.0 844.9ZM1580.0 835.9L1584.8 845.9L1586.2 854.9L1590.0 854.9L1593.4 858.6L1593.8 866.0L1596.7 872.4L1598.1 879.3L1604.3 882.0L1610.0 887.4L1612.4 892.8L1615.2 897.6L1619.5 899.2L1620.0 904.7L1623.8 906.8L1630.4 912.8L1630.9 920.5L1632.3 929.9L1630.0 943.3L1629.0 950.6L1623.8 956.9L1621.4 962.6L1619.0 969.4L1615.7 977.5L1615.2 982.8L1607.6 984.5L1601.0 989.8L1598.1 992.2L1593.8 987.5L1590.0 986.9L1584.8 990.4L1578.6 988.1L1571.5 985.7L1567.2 981.0L1566.3 974.1L1561.0 971.7L1559.1 963.7L1557.7 968.9L1553.4 970.0L1556.3 962.6L1558.2 956.9L1557.7 954.6L1553.9 960.8L1548.7 967.1L1545.3 965.4L1540.6 956.9L1537.7 951.8L1531.1 951.2L1526.3 948.4L1515.8 949.5L1507.8 952.9L1501.1 954.6L1493.0 956.9L1489.7 962.0L1482.1 962.0L1472.6 962.6L1465.0 967.7L1463.1 968.9L1456.9 968.3L1450.2 964.8L1449.3 960.3L1452.6 958.6L1452.6 948.9L1449.3 939.9L1447.4 932.1L1445.5 927.1L1441.7 918.9L1443.1 921.1L1445.5 919.4L1441.7 909.6L1443.1 904.1L1443.1 899.2L1445.5 894.9L1451.7 893.3L1457.4 888.4L1464.5 886.8L1468.8 885.2L1477.8 883.1L1484.0 875.0L1483.5 870.3L1490.2 871.3L1489.7 866.0L1494.0 865.5L1495.9 860.2L1500.2 855.4L1505.9 852.2L1510.1 855.4L1512.5 858.0L1518.7 858.0L1517.8 853.3L1522.0 849.1L1524.4 844.9L1529.6 843.8L1533.0 840.1L1534.9 839.6L1541.1 842.8L1545.3 843.8L1550.6 841.2L1553.4 844.3L1550.6 849.1L1548.7 853.8L1546.3 858.0L1552.5 863.3L1557.2 864.9L1563.4 868.7L1568.2 872.9L1572.0 871.9L1574.3 864.4L1575.8 854.9L1576.2 847.5L1577.2 842.8L1578.1 837.5ZM1525.4 784.3L1532.0 782.2L1539.6 784.3L1540.6 793.1L1544.4 797.3L1550.6 791.6L1557.7 787.9L1565.8 791.6L1572.9 793.7L1580.0 796.8L1589.6 799.9L1595.7 806.1L1600.5 811.4L1605.2 812.4L1602.4 815.5L1605.7 821.3L1612.4 827.0L1619.0 833.8L1614.8 834.4L1605.7 832.8L1601.0 828.1L1596.7 822.3L1590.0 820.2L1584.8 823.4L1583.8 827.0L1575.3 828.1L1572.0 826.5L1564.4 822.3L1558.6 823.9L1562.4 817.1L1559.6 809.3L1552.9 805.1L1545.3 803.0L1538.7 800.9L1534.4 801.5L1536.3 793.1L1530.1 794.7L1526.3 787.9ZM1723.6 965.1L1726.5 968.9L1731.3 970.0L1733.6 975.8L1737.4 977.5L1738.9 983.4L1745.0 985.7L1750.3 983.4L1751.2 984.5L1748.4 992.8L1744.1 993.4L1743.6 998.7L1736.0 1007.1L1733.2 1005.3L1735.5 998.7L1732.7 995.7L1728.9 993.9L1732.7 990.4L1733.6 982.2L1730.8 976.4L1725.5 969.4ZM1723.6 1000.5L1725.5 1005.3L1730.8 1003.5L1731.3 1008.3L1726.0 1015.5L1724.1 1020.4L1717.5 1023.4L1715.1 1031.5L1712.2 1033.9L1707.5 1037.7L1702.7 1037.7L1695.1 1035.2L1694.6 1031.5L1700.3 1024.7L1705.6 1021.0L1713.2 1015.5L1717.0 1009.5L1720.8 1002.9ZM1590.5 1001.7L1597.6 1004.4L1605.7 1002.3L1607.6 1005.3L1607.1 1010.7L1605.7 1016.1L1601.4 1019.2L1596.7 1018.6L1593.8 1013.7L1592.9 1008.3ZM533.9 637.6L536.3 639.8L535.4 642.5L534.4 640.9ZM549.2 660.0L551.1 661.6L550.6 663.2L549.6 662.1ZM1772.6 490.0L1775.5 490.0L1775.0 488.0L1773.1 488.4ZM262.9 447.4L270.0 460.6L274.8 468.0L270.0 469.4L265.3 461.9L259.1 455.1L254.3 448.1L258.2 446.0ZM1751.2 490.7L1756.0 492.3L1755.5 491.3L1752.2 490.0ZM436.5 286.7L446.0 287.7L448.4 282.0L438.8 279.2ZM530.1 648.0L532.5 648.5L533.0 653.4L530.6 651.3ZM595.8 502.0L602.9 505.5L609.1 506.8L605.3 503.0L598.1 501.4ZM608.1 690.3L609.1 690.6L608.6 691.1ZM569.4 714.4L570.2 715.2L569.6 715.3ZM1782.1 487.7L1786.9 487.7L1786.4 485.7L1782.6 486.1ZM1722.7 482.4L1727.0 482.8L1726.5 481.4L1723.2 481.4ZM446.0 268.5L455.5 274.4L469.8 283.9L484.0 283.0L488.8 277.2L481.6 269.5L469.8 261.7L460.2 254.7L450.7 259.7ZM593.4 419.5L579.1 416.6L564.8 411.4L557.7 405.4L548.2 400.9L531.6 401.7L533.9 394.1L550.6 393.3L553.0 384.8L557.7 377.0L553.9 370.6L545.8 365.8L533.9 359.3L526.8 354.4L517.3 356.9L499.2 356.9L481.6 351.9L476.9 346.9L475.5 335.9L476.9 325.6L493.5 324.3L498.3 329.1L495.9 341.9L501.6 338.5L503.0 326.5L514.9 325.2L518.3 333.4L522.1 325.2L537.3 328.2L536.3 334.2L548.2 341.9L562.5 346.9L576.7 352.7L581.5 360.9L586.2 370.6L598.1 376.2L611.0 383.2L605.3 391.8L600.5 396.4L591.0 389.5L579.1 383.2L583.9 391.8L594.8 404.7L595.3 412.2L586.2 409.9L576.7 405.8L586.2 415.8ZM319.0 347.8L329.5 344.4L336.6 337.7L343.7 329.1L350.9 323.9L343.7 320.4L324.7 318.6L310.5 320.4L309.5 329.1L304.3 338.5L306.7 341.0L315.2 346.1ZM619.0 710.7L619.8 711.5L619.2 712.0ZM407.9 313.3L427.0 314.2L437.4 309.7L434.1 299.7L422.2 298.8L412.7 303.4L406.5 309.7ZM577.2 715.9L578.2 716.7L577.7 717.3ZM558.7 665.1L562.0 665.4L561.5 666.2ZM542.5 650.2L544.2 652.3L543.7 652.6ZM549.6 1017.3L553.0 1017.3L553.4 1009.5L550.1 1008.3ZM547.3 1021.0L551.1 1020.4L551.5 1025.3L549.6 1030.2L547.7 1033.9L544.9 1033.3L546.3 1028.4L545.8 1024.7ZM443.6 314.2L455.5 317.3L457.9 311.5L450.7 308.4L443.6 309.7ZM488.8 672.1L490.0 672.4L489.0 673.7ZM498.5 665.1L501.6 662.1L507.8 658.9L510.6 658.1L514.9 658.3L522.1 659.1L529.2 662.1L535.4 665.9L542.5 669.1L549.9 673.7L544.9 675.6L542.0 675.3L533.0 675.9L535.8 672.6L531.6 671.3L528.2 666.7L522.1 665.6L519.9 664.0L516.3 663.2L512.5 662.1L511.1 660.8L506.4 663.2L503.0 664.6L500.7 665.6ZM573.6 715.7L575.5 717.0L575.1 717.3ZM443.6 312.4L460.2 317.7L484.0 318.6L507.8 317.7L522.1 316.8L524.4 310.6L517.3 307.0L498.3 307.9L479.3 308.8L467.4 300.6L455.5 297.9L446.0 299.7L462.6 307.0ZM610.3 698.5L611.2 699.3L610.7 700.6ZM537.7 645.2L540.1 646.9L540.4 649.6L539.4 647.4ZM405.6 283.0L419.8 288.6L431.7 285.8L429.3 277.2L415.1 274.4L403.2 276.3ZM474.5 302.5L488.8 301.6L503.0 302.0L519.7 303.4L531.6 297.0L529.2 287.7L543.5 282.0L541.1 275.3L550.6 272.4L562.5 270.5L569.6 263.6L588.6 258.7L595.8 252.7L607.6 246.6L610.0 242.5L595.8 238.3L569.6 236.3L545.8 236.8L526.8 236.3L512.5 238.3L493.5 242.5L484.0 246.6L469.8 248.6L488.8 252.7L472.1 257.7L481.6 264.6L493.5 267.6L491.1 273.4L498.3 277.2L486.4 283.9L481.6 288.6L491.1 293.3L476.9 294.2ZM540.6 654.8L543.0 656.4L542.5 656.7ZM526.8 638.9L532.0 638.7L535.4 641.4L532.0 639.5ZM693.7 434.7L686.1 431.8L681.3 428.2L672.8 426.8L666.1 418.8L660.0 409.9L656.6 402.4L650.9 393.3L647.1 381.7L650.9 367.4L659.5 363.4L660.9 358.5L653.8 356.0L643.3 351.1L655.2 347.8L640.9 344.4L635.7 333.4L633.8 323.0L625.7 312.4L614.8 305.2L600.5 303.4L586.2 305.6L575.3 300.6L564.8 296.0L573.4 291.4L556.3 284.8L574.4 277.2L593.4 269.5L583.9 264.6L600.5 255.7L610.0 248.6L631.4 245.6L650.4 246.6L664.7 242.5L683.7 244.5L693.2 238.3L712.3 234.2L743.6 230.7L769.3 235.2L788.3 240.4L797.8 245.6L769.3 247.6L793.1 251.7L816.9 251.7L847.8 253.7L831.1 260.7L819.2 266.6L812.1 275.3L809.7 286.7L814.5 297.0L800.2 303.4L808.3 311.5L809.7 318.6L797.8 324.7L788.3 332.5L797.8 338.5L797.8 351.9L778.8 353.6L793.1 356.4L790.7 360.9L778.8 368.2L759.8 372.2L745.5 378.5L736.0 385.6L723.7 391.8L712.3 396.4L707.5 407.7L700.4 422.4L698.0 431.1ZM608.8 716.5L609.5 717.0L608.8 717.5ZM608.6 694.8L611.0 694.3L610.5 696.7L609.1 696.4ZM270.0 474.1L276.2 474.4L275.3 481.4L279.6 488.0L273.8 483.4L271.0 478.8ZM160.4 676.4L161.4 680.2L162.6 680.7L166.1 677.7L164.5 675.3L161.4 673.7ZM548.4 683.9L550.1 682.3L556.3 683.4L558.4 682.8L556.8 679.9L556.8 678.0L553.4 675.6L559.1 676.1L561.3 676.7L566.3 676.1L570.1 676.9L573.4 678.8L571.5 680.2L577.5 682.6L574.6 683.6L570.1 683.4L567.2 684.7L564.4 684.7L562.9 687.9L561.3 685.5L557.7 684.7L551.8 684.7ZM794.5 405.4L802.6 405.1L813.1 408.4L826.4 403.2L833.5 400.9L838.3 396.4L833.0 388.7L825.4 384.8L816.9 387.5L805.9 387.9L801.6 393.3L795.5 385.2L786.4 392.2L797.8 393.3L796.4 396.4L788.3 397.5L797.8 401.7ZM552.2 668.9L554.9 668.1L555.1 670.0L553.0 670.0ZM467.4 779.6L469.3 780.7L470.2 784.8L467.6 785.3ZM529.9 684.2L533.9 683.1L539.6 685.0L539.6 686.3L535.4 687.1L530.6 685.2ZM507.3 664.8L509.7 664.8L509.7 667.0L507.8 667.0ZM142.8 663.7L144.3 664.9L145.0 663.5L143.8 663.0ZM429.3 364.2L438.8 368.6L448.4 366.6L447.9 360.9L441.2 357.7L432.7 360.1ZM167.3 452.3L172.6 455.4L178.7 450.9L178.3 446.0L174.0 446.4L169.2 449.5ZM544.4 655.6L546.3 658.3L546.5 659.4L545.4 657.8ZM596.2 722.5L599.1 722.0L598.8 723.3L596.7 723.3ZM611.4 702.5L613.1 703.3L612.6 704.9ZM157.3 670.2L159.2 671.8L160.7 671.3L159.2 669.7ZM346.1 311.5L355.6 314.6L365.1 319.5L379.4 315.9L396.0 314.2L400.8 307.0L386.5 300.6L381.8 306.1L372.3 303.4L360.4 300.6L348.5 302.5L353.3 307.0ZM154.5 669.1L157.1 669.4L157.1 668.6L154.7 668.6ZM533.7 647.5L535.1 647.7L534.4 648.1ZM620.5 516.3L629.0 516.3L636.7 520.1L640.0 520.7L645.7 521.3L650.0 522.3L651.9 517.0L650.4 510.6L646.6 508.1L647.6 504.2L640.9 503.6L637.1 501.0L638.6 491.3L632.4 493.3L629.0 499.7L625.2 506.8L621.9 511.3ZM106.5 431.8L112.2 434.7L115.0 432.6L112.2 430.0ZM150.0 666.7L150.7 668.1L152.6 668.1L151.6 665.9ZM596.2 522.0L601.9 525.1L607.6 524.5L606.7 523.2L599.1 520.4ZM317.6 305.2L331.9 306.1L346.1 300.6L350.9 292.3L336.6 293.3L320.0 300.6ZM417.4 340.2L429.3 345.2L441.2 340.2L442.6 331.7L436.5 323.9L424.6 324.7L419.8 329.1L424.6 333.4L415.1 334.2ZM582.9 683.6L588.6 683.1L590.5 684.4L588.6 686.0L582.9 686.0ZM472.1 782.7L473.6 783.3L472.8 784.3ZM476.4 784.0L477.8 784.3L477.1 785.1ZM448.4 338.5L457.9 340.2L469.8 333.4L474.5 324.7L460.2 321.7L448.4 325.6L447.4 332.5ZM488.8 407.7L495.9 409.9L505.4 403.9L517.3 407.7L521.1 403.9L514.9 400.2L503.0 394.1L498.3 389.5L493.5 392.5L492.1 400.9ZM593.9 686.9L595.3 687.1L594.6 687.5ZM603.6 689.0L604.8 690.0L604.3 690.3ZM93.2 410.3L99.8 409.9L96.5 408.1L93.2 406.6ZM1797.8 408.8L1804.7 410.3L1804.7 406.6L1798.3 406.2ZM612.2 706.7L612.9 707.5L612.2 708.5ZM611.2 710.4L611.8 710.9L611.4 711.6ZM576.3 1076.5L580.5 1084.2L586.2 1088.2L592.9 1089.9L586.2 1092.6L583.9 1094.3L582.4 1098.7L576.7 1096.3L569.6 1095.6L562.5 1092.2L555.3 1087.5L548.2 1080.2L553.0 1080.2L560.1 1084.2L564.8 1084.8L568.2 1081.5L568.7 1077.5ZM613.1 721.7L614.8 720.9L614.5 722.0ZM608.1 727.8L612.4 727.5L612.6 723.8L609.1 724.4ZM98.9 482.4L104.6 479.4L103.1 477.8L98.9 480.1ZM105.0 479.4L111.7 476.8L111.7 474.4L107.4 475.8ZM118.4 470.7L126.0 469.7L125.5 468.0L119.8 468.4ZM291.9 496.2L294.8 500.4L303.3 506.2L308.1 509.4L315.2 511.9L315.7 508.7L309.0 502.3L300.9 497.2L296.2 494.9ZM344.7 357.3L355.6 363.0L362.8 369.0L379.4 368.2L393.7 365.0L403.2 364.2L418.4 360.1L422.7 354.4L415.1 348.6L405.6 345.2L406.0 335.1L401.3 330.8L391.3 329.5L386.5 335.1L377.0 332.1L367.5 332.5L358.0 328.2L342.3 332.5L337.6 340.2L343.7 345.2L353.3 344.4L367.5 351.9L358.0 354.4L346.1 351.1L350.9 355.2ZM593.1 683.6L595.3 683.9L594.3 684.3ZM1343.2 709.6L1344.7 712.3L1344.2 719.1L1342.3 718.1ZM1446.9 822.6L1452.6 823.6L1449.8 826.0ZM1402.7 790.0L1407.4 787.9L1409.8 795.2L1406.0 794.2ZM1232.9 329.1L1240.1 327.3L1243.4 330.8L1235.3 332.1ZM942.6 760.6L944.8 761.2L943.8 763.2ZM1420.8 772.3L1423.6 769.7L1431.2 772.3L1432.2 766.1L1439.8 763.5L1446.0 756.2L1451.7 751.5L1457.4 744.2L1461.6 746.3L1469.3 752.6L1464.0 757.8L1462.1 761.4L1463.5 768.2L1468.3 774.9L1463.1 776.0L1461.2 784.3L1456.9 787.9L1455.9 794.7L1454.0 799.4L1447.9 801.5L1444.5 797.8L1439.8 796.8L1434.5 798.3L1426.5 795.2L1426.0 788.5L1421.2 782.7L1421.7 778.1ZM972.4 466.4L974.3 466.4L974.3 468.0L972.6 467.7ZM1637.6 808.2L1641.9 811.4L1643.8 815.5L1640.4 814.0ZM1501.6 796.8L1506.8 796.5L1506.8 799.6L1502.5 799.9ZM822.1 629.5L825.9 628.4L824.0 631.2ZM827.3 631.5L829.2 630.6L829.2 632.6L827.8 632.9ZM833.5 630.9L836.4 627.6L836.6 629.8L834.5 631.2ZM836.6 626.5L838.5 624.8L838.3 626.2ZM816.9 627.3L818.1 627.0L817.6 628.7ZM789.8 700.1L791.2 700.6L790.7 702.2ZM1488.7 730.9L1492.3 721.5L1490.2 726.5ZM1108.1 839.6L1109.3 841.7L1108.3 842.2ZM943.3 548.4L947.2 544.8L947.9 550.2L946.2 554.4L943.3 551.4ZM1014.4 590.3L1017.5 588.5L1024.7 590.0L1027.5 590.8L1024.7 592.0L1019.9 592.3L1014.4 590.5ZM1056.0 591.7L1059.4 590.0L1066.7 588.1L1063.6 591.7L1059.4 594.3L1056.8 593.4ZM1004.7 287.7L1016.6 287.7L1019.0 293.3L1009.4 293.7L1002.3 291.4ZM1013.2 569.0L1017.5 571.1L1019.2 574.3L1016.6 572.8L1013.2 570.2ZM867.3 417.3L871.1 416.2L871.1 419.5L868.2 421.7ZM1745.5 872.9L1750.3 871.3L1752.2 874.5L1746.5 875.6ZM1752.6 867.6L1758.4 864.9L1757.4 867.1L1753.6 869.2ZM1472.1 824.4L1477.8 823.9L1486.8 822.3L1486.4 824.9L1477.8 826.8L1472.6 826.0ZM1116.4 261.7L1128.3 258.7L1142.6 259.2L1145.0 262.6L1130.7 266.6L1116.4 264.6ZM1154.5 263.6L1173.5 259.7L1185.4 260.7L1192.5 263.6L1173.5 267.6L1159.2 266.1ZM1164.0 256.7L1178.2 249.6L1187.8 252.7L1202.0 251.7L1211.5 257.7L1197.3 259.7L1178.2 257.7ZM949.1 465.3L951.9 464.0L953.8 466.0L952.9 467.7L950.0 467.4ZM988.8 452.6L992.3 447.8L993.3 448.8L991.6 452.6L989.5 454.7ZM875.4 500.7L878.4 501.0L882.5 498.8L885.8 499.1L886.3 496.8L890.6 497.2L893.4 497.2L896.3 495.9L901.5 495.9L906.7 495.2L909.1 493.6L909.1 492.0L905.3 491.6L906.7 489.7L910.1 487.4L910.8 484.1L908.6 481.8L904.4 481.8L902.9 482.8L904.1 480.1L902.9 477.4L900.6 476.8L902.5 476.4L901.5 474.1L896.7 470.4L895.3 467.4L893.9 463.6L890.6 461.2L886.8 461.2L889.1 459.2L891.0 456.4L892.9 452.3L893.9 450.9L892.5 449.5L885.8 449.5L883.0 450.6L883.9 448.5L887.7 444.6L888.0 442.9L883.4 443.6L878.7 443.1L877.3 446.0L874.9 450.2L875.4 454.4L873.0 456.4L876.3 458.5L875.8 462.6L874.9 466.0L877.7 465.0L879.2 464.0L880.1 468.0L878.2 469.7L881.5 470.1L885.8 468.7L886.3 471.4L887.2 474.1L888.9 474.1L888.2 476.4L887.7 478.8L882.5 479.4L880.6 482.8L883.0 484.1L883.0 486.7L877.7 488.7L878.7 490.3L882.5 491.0L887.2 492.0L889.6 491.0L887.7 493.3L882.5 493.3L880.6 495.2L878.2 498.5ZM1419.1 679.4L1423.6 675.3L1428.4 674.5L1430.3 677.2L1427.6 682.0L1423.1 684.7L1419.3 683.1ZM1508.7 774.9L1511.1 769.0L1510.6 773.4L1514.4 772.3L1512.0 776.2L1514.9 778.6L1510.6 777.8L1512.5 784.3L1509.7 780.1ZM868.7 448.8L873.0 443.9L873.0 446.0L867.7 453.7ZM1007.5 441.1L1010.4 440.0L1011.8 441.8L1009.4 442.5ZM1568.4 553.8L1572.4 552.3L1573.9 547.8L1582.4 550.8L1587.2 545.1L1594.3 542.9L1592.9 537.4L1584.8 536.8L1577.2 529.4L1576.2 535.6L1574.3 542.9L1570.1 543.6L1567.7 547.8ZM1524.9 597.7L1527.7 593.7L1533.0 589.7L1539.6 588.8L1545.8 588.5L1549.1 586.2L1552.5 581.6L1555.3 577.5L1553.4 580.1L1556.3 581.6L1561.5 578.1L1565.8 572.8L1568.2 563.4L1568.2 559.2L1569.6 555.6L1572.9 554.1L1574.8 554.7L1575.3 559.8L1577.7 565.2L1575.8 572.2L1572.9 574.0L1572.4 581.0L1571.0 586.2L1572.0 588.0L1569.6 590.8L1567.2 592.3L1567.2 588.5L1564.4 590.3L1562.4 594.0L1560.1 594.0L1555.3 594.3L1553.4 596.0L1550.6 600.6L1547.7 600.6L1544.9 598.3L1546.3 594.3L1542.0 593.4L1537.2 595.1L1532.0 596.0L1529.2 598.0L1525.4 598.0ZM854.9 490.7L857.8 491.3L863.0 489.3L869.2 487.0L872.0 486.7L873.7 482.1L873.4 478.1L873.0 474.8L875.8 472.8L876.3 470.1L873.4 466.7L867.7 466.0L863.0 467.0L861.6 470.7L863.0 471.8L859.7 472.8L854.9 472.8L856.3 477.4L854.4 478.1L859.7 480.4L857.3 484.1L853.5 487.0ZM1402.7 815.5L1407.0 810.8L1411.2 811.1L1417.9 814.5L1427.9 816.1L1430.3 813.4L1437.9 816.1L1446.4 820.2L1446.4 824.9L1438.3 823.9L1430.3 823.1L1419.3 820.2L1408.9 818.7ZM1502.5 601.7L1505.9 600.6L1504.4 602.0ZM1131.6 364.2L1137.8 360.9L1141.6 364.2L1136.4 367.4ZM1594.3 539.9L1599.1 535.9L1597.2 538.1ZM1601.4 533.8L1610.0 529.4L1605.7 531.3ZM1629.0 518.8L1634.7 508.7L1643.3 499.1L1644.7 496.5L1640.9 500.4ZM1519.2 601.7L1522.5 600.0L1525.4 598.3L1528.7 600.0L1529.6 604.0L1527.3 612.5L1523.9 614.4L1521.6 613.0L1521.6 608.0L1519.7 605.1ZM1025.6 567.5L1028.9 566.6L1028.5 568.7L1026.1 568.4ZM963.8 373.8L971.4 371.0L977.6 368.6L973.8 367.0L975.2 363.8L978.5 362.6L980.0 366.2L975.2 370.6L970.0 372.2L964.3 373.4ZM954.8 469.4L960.0 468.7L959.0 470.7L955.7 470.4ZM1454.0 823.9L1457.4 823.9L1456.4 826.5L1454.0 826.2ZM1474.5 696.4L1475.9 683.1L1482.1 684.2L1484.0 690.0L1480.2 696.9L1481.1 705.9L1485.9 705.4L1491.6 708.0L1492.6 714.6L1488.7 712.3L1485.4 710.7L1481.1 707.5L1475.9 708.0L1477.3 704.3L1473.5 702.8ZM1568.2 327.3L1577.7 323.9L1584.8 329.1L1575.3 329.9ZM913.6 565.2L917.2 563.1L918.9 564.6L917.0 566.9ZM1175.4 885.8L1177.1 886.8L1175.4 887.9ZM1482.1 744.0L1484.5 738.5L1489.2 734.8L1494.0 735.6L1499.2 729.3L1503.0 734.3L1504.4 742.1L1502.1 747.4L1498.7 751.0L1499.2 744.8L1496.4 748.9L1492.1 746.8L1493.0 741.6L1488.7 741.1L1483.5 743.7ZM1474.5 709.9L1478.8 709.9L1480.2 714.4L1478.0 716.2ZM1484.5 728.0L1487.8 723.0L1489.9 723.8L1488.7 731.7L1486.8 733.0L1484.5 729.9ZM1556.3 311.5L1563.4 304.3L1577.7 305.2L1591.9 309.7L1584.8 315.1L1568.2 315.9L1561.0 315.1ZM1599.1 312.4L1611.0 310.6L1618.1 313.3L1611.0 316.4L1601.4 315.9ZM1608.1 808.8L1617.1 808.8L1622.8 802.2L1626.6 802.0L1625.7 807.2L1619.0 812.4L1612.4 812.4ZM1682.3 885.8L1689.4 890.6L1696.5 897.6L1693.2 897.1L1686.6 892.2ZM1619.5 793.9L1626.2 798.3L1630.0 804.1L1628.5 800.9L1622.8 795.2ZM1364.2 772.9L1368.0 777.0L1366.5 775.5ZM1164.0 329.1L1171.1 321.2L1166.4 313.3L1178.2 308.8L1192.5 302.9L1211.5 300.2L1229.6 296.5L1225.8 302.5L1206.8 307.9L1192.5 312.4L1190.1 318.6L1180.6 323.0L1177.3 326.5L1171.1 329.5ZM1147.3 343.6L1154.5 335.9L1156.8 329.9L1164.0 328.2L1171.1 330.4L1168.7 338.5L1166.4 346.1L1175.9 351.9L1164.0 351.9L1156.8 349.4L1149.7 347.8ZM1509.4 642.0L1512.5 637.8L1511.1 639.8ZM980.4 459.5L983.8 451.9L983.1 455.1L981.2 459.5ZM886.8 440.4L889.1 438.3L890.6 439.7L888.7 441.4ZM1459.7 736.4L1463.5 732.2L1469.7 724.9L1470.7 720.9L1468.3 725.9L1464.5 732.2L1460.2 735.9ZM1482.1 718.1L1487.8 719.9L1487.3 723.0L1482.6 725.7ZM1165.4 890.1L1167.8 891.1L1166.4 892.5ZM1034.2 585.4L1036.5 583.6L1036.1 585.9L1034.6 586.8ZM1006.4 445.3L1010.4 443.2L1013.2 444.3L1008.5 447.1L1007.1 447.8ZM1559.6 575.5L1561.3 572.8L1561.0 574.9ZM1577.2 526.0L1580.5 522.0L1584.8 521.3L1582.4 517.0L1581.0 510.6L1583.4 505.5L1588.1 507.4L1590.5 509.4L1583.8 501.0L1585.7 491.3L1583.8 482.8L1582.4 475.4L1580.0 472.8L1578.6 478.1L1576.7 486.7L1578.1 495.9L1578.1 504.2L1577.7 513.8L1577.7 521.3ZM1493.5 714.6L1498.3 714.6L1500.2 721.7L1497.1 724.4L1496.8 728.0L1493.5 723.3L1496.4 720.7ZM933.4 778.1L934.6 778.6L933.6 779.9ZM941.4 557.1L946.2 555.3L948.8 559.8L948.1 567.5L945.2 568.4L942.4 569.0L942.4 563.4ZM1511.1 796.8L1518.2 794.7L1524.4 796.8L1520.1 798.1L1511.6 798.1ZM1356.6 276.3L1366.1 267.6L1378.0 265.6L1392.2 273.4L1397.0 281.1L1382.7 284.8L1375.6 279.2L1363.7 278.7ZM1335.2 266.6L1344.7 258.7L1358.9 255.7L1368.4 260.7L1354.2 266.6L1342.3 271.5ZM1378.0 286.7L1392.2 283.9L1404.1 283.9L1399.4 287.7L1382.7 289.5ZM894.8 432.6L897.2 427.9L898.7 427.9L896.7 433.3ZM1531.8 600.9L1534.4 597.1L1539.6 595.7L1543.0 596.6L1543.0 598.9L1540.6 601.7L1536.3 601.1L1534.6 604.8ZM1371.3 785.3L1374.6 789.0L1373.2 788.5ZM961.7 574.6L965.7 573.4L976.6 573.0L974.3 578.1L974.3 582.5L970.5 580.1L963.8 577.2ZM871.1 451.9L873.0 449.9L875.4 452.6L873.4 453.7ZM1155.9 714.6L1161.6 714.4L1159.2 715.9ZM1646.6 815.0L1651.4 818.1L1656.1 819.7L1662.3 823.9L1658.5 822.3L1649.9 818.7ZM1661.4 828.6L1667.1 829.1L1665.6 831.5L1662.3 830.9ZM1666.1 823.9L1668.0 828.1L1669.9 830.2L1668.0 824.9ZM1669.4 833.8L1674.2 835.4L1672.8 836.5ZM1281.9 730.1L1283.8 729.1L1288.6 735.9L1291.9 742.1L1290.5 746.8L1285.7 749.2L1282.9 747.4L1281.7 741.1L1282.4 735.4ZM1472.1 776.5L1477.3 773.4L1488.7 775.2L1496.4 771.6L1497.8 772.9L1493.0 778.1L1480.2 777.8L1474.0 779.9L1473.5 784.3L1479.2 785.1L1488.7 783.5L1489.2 785.3L1482.1 789.8L1486.4 796.8L1486.4 803.0L1483.0 804.1L1480.7 800.9L1477.3 794.2L1475.0 796.3L1475.0 808.8L1470.7 808.8L1471.2 798.3L1467.3 794.7L1469.7 786.9L1472.1 780.1ZM1355.6 751.0L1366.1 752.8L1369.9 758.3L1378.0 766.1L1382.2 769.2L1392.7 777.0L1396.0 779.6L1394.6 785.3L1399.4 789.5L1406.5 795.7L1406.0 802.0L1405.5 810.3L1399.8 810.3L1398.4 807.2L1388.9 800.9L1382.7 793.7L1379.9 784.8L1373.7 778.6L1371.8 771.3L1364.6 763.5L1356.6 755.2ZM1468.3 829.6L1474.0 828.9L1476.9 832.3L1473.1 833.8L1468.8 831.2ZM1457.8 824.9L1463.1 822.3L1468.8 823.1L1468.3 825.7L1463.1 826.5L1457.8 827.3ZM953.8 278.2L958.6 269.5L969.0 269.5L978.5 267.1L985.7 269.5L999.9 264.6L1016.6 264.6L1031.8 266.6L1028.5 273.4L1014.2 275.3L1002.3 280.1L992.8 281.1L1004.7 284.8L990.4 291.4L983.3 298.8L973.8 295.1L969.0 290.5L966.6 284.8L957.1 283.0ZM1473.5 658.9L1476.4 651.3L1480.2 646.3L1482.6 648.0L1480.2 656.2L1477.1 664.6ZM1489.7 834.1L1494.0 829.1L1497.3 827.5L1507.8 823.9L1505.9 826.0L1497.3 830.2L1494.0 833.0ZM1516.8 596.6L1518.2 593.7L1517.5 596.0ZM1694.6 858.6L1697.5 861.8L1695.6 861.8ZM1697.5 864.4L1700.3 866.5L1698.9 867.1ZM1702.2 872.4L1704.1 873.4L1702.7 873.7ZM1180.6 356.0L1189.2 353.6L1188.7 358.5L1183.0 359.3ZM1751.2 347.8L1758.4 344.4L1768.8 346.5L1770.2 349.0L1760.7 350.3L1753.6 349.8ZM1088.9 810.1L1090.5 811.9L1089.6 813.7ZM955.2 463.3L958.6 461.6L962.4 460.9L962.4 464.3L960.0 468.0L956.2 466.7Z"/></clipPath></defs>
<path d="M103.1 391.8L111.7 387.1L121.7 384.4L124.1 387.9L133.1 387.9L134.5 384.8L129.3 381.7L123.6 380.1L120.3 375.4L109.3 370.2L112.2 365.8L120.3 365.4L127.4 358.9L132.6 354.4L141.7 351.5L151.2 349.8L157.8 345.7L165.4 347.8L174.9 349.4L182.1 353.1L196.3 353.6L208.2 355.2L220.1 356.0L232.0 359.7L241.5 360.5L251.0 365.4L258.2 364.2L262.9 359.7L270.0 360.9L279.6 357.3L286.7 356.0L293.8 351.9L298.6 355.2L305.7 361.7L311.9 362.2L309.5 355.6L317.6 358.5L327.1 358.9L341.4 364.6L353.3 365.4L361.3 370.6L355.2 374.2L365.1 375.0L377.0 373.4L384.2 375.4L388.9 381.7L392.2 380.1L389.9 373.8L396.0 370.6L386.5 368.2L398.4 365.8L405.6 370.6L417.4 374.6L429.3 374.6L434.1 370.2L438.8 368.6L446.0 371.0L448.4 379.3L453.1 371.4L456.9 368.2L452.6 360.1L444.5 357.7L443.6 347.8L449.8 340.6L455.5 342.3L460.7 346.1L465.5 354.4L462.1 359.7L470.7 360.9L472.1 369.0L476.9 363.4L483.1 365.8L485.0 373.8L489.7 377.8L495.4 367.4L495.9 358.1L505.4 359.3L512.5 358.1L515.9 363.4L512.5 369.0L515.9 376.2L510.2 384.0L503.0 386.4L494.5 384.8L489.7 387.9L487.3 394.1L484.5 400.9L474.5 403.9L470.7 408.4L463.1 412.9L457.9 419.5L454.1 426.8L451.7 434.0L454.5 441.8L461.2 448.8L462.6 454.4L470.7 452.6L481.6 458.2L487.3 461.2L497.3 466.0L511.1 467.0L511.6 478.1L514.9 486.7L519.7 492.6L524.9 491.3L527.8 484.1L526.3 474.1L523.5 470.4L532.5 466.7L538.2 459.2L538.7 451.6L533.9 446.0L529.2 441.8L533.5 434.7L534.4 432.6L531.1 427.5L532.0 416.2L543.0 417.0L552.0 415.8L561.0 422.1L563.9 425.4L571.0 425.7L572.5 438.3L577.2 446.4L583.9 444.6L589.1 436.8L595.8 430.8L600.0 439.7L606.7 448.1L610.0 458.5L616.2 465.3L625.7 469.4L629.5 474.8L637.1 480.8L637.6 487.4L631.4 492.0L622.9 494.2L617.2 499.4L602.9 499.1L586.7 499.7L582.4 504.9L575.3 508.1L569.6 515.7L563.9 521.0L569.6 518.8L577.7 510.3L586.2 506.5L596.2 506.8L596.7 510.6L589.6 512.8L594.3 515.4L593.4 521.3L596.7 524.8L603.8 527.9L610.0 528.2L612.4 530.7L600.5 534.7L590.5 541.7L587.7 536.2L593.4 531.3L596.2 528.8L588.6 531.0L583.9 534.1L575.3 536.8L568.7 541.1L566.3 546.6L565.3 549.0L567.2 552.0L569.6 552.6L562.9 553.8L555.8 555.3L551.1 558.6L550.6 560.1L549.6 564.6L546.3 569.0L543.5 565.7L545.4 571.6L541.6 579.5L539.6 571.6L539.6 580.4L541.3 582.7L543.5 590.5L538.7 594.0L532.0 598.3L526.8 601.1L522.5 605.1L517.3 609.7L515.4 617.5L517.3 624.8L519.7 629.0L522.1 638.1L521.1 644.7L517.8 647.2L514.0 643.1L512.1 637.6L508.7 632.6L509.2 626.5L504.5 620.3L501.1 620.3L496.9 622.0L492.1 618.1L486.4 618.7L482.1 618.4L477.4 619.2L478.3 625.6L473.6 625.4L468.3 623.4L463.6 622.9L456.4 622.0L451.7 624.0L446.0 628.7L440.3 633.1L439.8 637.6L440.5 642.8L437.9 650.7L437.4 662.7L440.3 671.3L444.1 677.2L446.5 681.5L453.1 685.0L459.3 683.4L465.5 682.6L470.7 678.8L472.6 671.3L475.9 668.1L483.1 666.7L488.8 666.7L489.7 670.2L486.4 675.6L485.0 683.6L482.6 685.2L483.1 689.5L482.1 693.7L479.7 696.9L484.0 697.5L489.2 697.5L494.0 696.7L498.8 696.7L504.9 700.1L506.8 702.0L505.9 708.0L504.9 714.9L504.5 720.2L504.5 723.0L507.3 728.0L511.6 731.7L514.9 734.0L518.3 733.5L522.5 731.4L526.8 730.4L531.6 731.2L534.7 735.0L537.0 738.0L539.6 733.5L543.0 730.1L543.5 725.4L546.8 722.5L549.6 721.2L554.4 720.9L559.1 717.5L562.5 715.2L563.9 718.1L560.6 720.2L562.0 723.8L562.9 722.0L568.7 720.2L569.1 716.7L571.0 720.2L575.3 720.7L577.7 723.8L579.6 725.4L587.7 724.9L592.9 727.5L597.2 725.9L599.1 724.6L608.1 724.4L604.8 727.0L609.5 728.8L613.4 731.7L612.9 735.4L617.6 736.9L624.3 743.2L630.0 749.4L636.7 749.4L640.9 748.9L645.7 750.0L650.9 752.1L656.6 756.7L659.0 758.8L661.4 768.7L664.7 771.3L664.7 775.5L661.4 779.1L660.0 781.7L663.3 781.2L667.1 778.6L672.3 781.4L671.8 787.9L675.6 783.5L681.8 785.3L688.5 787.9L690.4 793.1L696.1 792.6L703.7 795.2L712.3 795.0L719.4 799.4L725.6 805.1L731.3 806.4L734.6 807.2L736.0 814.0L737.0 821.8L734.1 829.1L729.4 834.9L724.6 840.1L719.9 847.8L717.0 850.7L717.0 861.2L716.1 872.9L713.2 883.1L708.0 892.8L707.5 896.0L702.7 901.1L696.6 901.4L689.9 903.3L682.3 906.8L674.7 912.3L671.8 916.7L671.4 926.0L670.4 932.1L664.7 938.8L660.0 946.7L654.2 952.3L648.5 961.1L641.4 968.0L635.2 967.7L627.4 965.1L624.3 962.6L624.8 966.0L630.5 970.6L632.8 976.4L628.6 986.3L621.9 989.8L610.0 991.6L606.7 990.7L607.2 1001.1L601.9 1004.4L593.9 1002.3L592.9 1009.5L599.6 1010.7L599.6 1014.3L593.9 1013.7L592.4 1019.2L591.0 1027.1L585.8 1029.0L581.5 1033.3L582.0 1037.7L586.2 1040.5L589.6 1041.4L589.1 1045.9L581.5 1052.8L580.5 1055.4L574.8 1061.2L573.4 1069.6L577.5 1074.5L572.0 1073.9L565.3 1077.8L565.3 1083.5L559.6 1082.8L553.0 1078.2L547.3 1073.6L544.9 1065.7L543.5 1056.0L543.0 1046.5L548.2 1040.2L543.0 1038.3L546.3 1031.5L552.5 1027.8L555.3 1021.6L556.3 1012.5L552.0 1008.3L552.0 997.5L553.4 986.9L553.0 981.0L556.8 972.3L561.0 960.3L562.5 948.4L562.9 939.9L562.5 933.2L565.3 923.3L566.8 914.5L567.7 904.1L569.1 893.3L568.9 885.2L567.9 876.7L562.9 872.4L558.2 868.7L550.6 864.4L544.9 860.2L539.6 852.8L537.7 845.9L535.4 842.8L531.1 833.3L528.2 826.5L524.4 819.7L519.7 813.4L516.3 810.8L515.9 804.6L519.7 798.3L522.5 793.7L517.8 792.1L518.3 785.3L521.6 780.1L522.1 776.0L527.3 772.9L528.7 767.1L533.9 765.6L535.8 759.9L533.9 751.5L534.4 745.3L532.0 742.7L529.7 738.5L531.1 736.4L526.8 733.3L524.0 733.8L520.2 736.9L521.6 741.1L517.8 742.7L514.9 740.1L511.6 736.9L508.3 738.2L504.5 735.4L500.2 730.1L497.8 730.1L494.5 727.5L495.0 722.8L490.7 718.1L485.9 712.8L486.9 710.7L481.6 711.2L475.5 709.4L468.3 707.3L464.0 704.3L456.9 696.9L452.2 695.3L443.6 698.3L436.5 695.9L427.9 692.2L419.3 687.9L410.8 684.2L403.7 678.8L399.9 672.9L401.8 670.8L401.3 665.4L396.5 657.8L389.9 650.7L382.7 644.7L380.4 638.1L376.6 633.7L373.7 631.5L368.9 625.9L365.1 617.0L364.2 613.0L357.1 610.5L356.6 614.7L359.4 620.3L363.7 625.9L366.1 631.5L368.9 636.4L372.7 642.5L375.6 649.6L378.0 652.9L381.8 657.2L379.6 659.4L377.5 655.6L369.9 650.7L368.9 642.5L362.8 638.1L356.1 633.1L359.9 630.9L358.0 625.9L352.3 619.8L348.5 611.9L345.6 606.3L344.2 601.7L339.5 598.3L335.2 596.6L329.5 595.1L328.1 589.7L322.8 583.3L320.0 576.9L317.6 573.4L313.8 566.9L310.9 560.4L312.4 553.8L310.5 546.0L312.4 538.7L312.8 525.1L309.5 511.6L317.6 512.8L320.4 518.2L320.0 509.4L316.6 505.5L310.5 502.3L305.7 498.5L296.2 494.6L294.8 486.7L289.1 480.1L282.9 472.8L283.8 466.7L277.2 466.0L274.8 459.9L267.7 453.0L263.4 445.3L259.1 438.3L254.3 445.3L247.2 443.2L238.2 436.1L229.6 433.3L218.2 433.3L210.6 429.7L203.5 425.7L197.3 430.4L191.6 434.0L180.6 439.0L183.0 429.0L190.2 424.6L183.5 426.1L177.3 431.8L172.1 436.8L169.2 445.3L159.2 453.0L149.7 460.6L139.3 466.0L129.8 468.7L126.0 470.1L129.8 464.0L139.3 460.9L147.8 455.1L153.1 448.8L155.9 441.8L147.8 441.4L140.7 441.8L131.7 442.9L133.1 435.4L123.6 434.7L116.9 428.2L113.1 421.0L117.9 414.4L121.7 409.9L131.2 407.7L137.9 404.7L135.9 399.4L128.3 400.9L116.0 400.2L110.7 395.6ZM1049.1 358.5L1054.6 357.3L1061.7 362.6L1073.6 364.2L1083.1 369.8L1091.7 371.8L1098.8 379.3L1097.4 384.0L1085.5 387.9L1068.9 385.6L1056.5 379.7L1059.4 384.0L1066.5 392.5L1067.9 400.2L1076.0 404.7L1083.1 404.7L1078.4 395.6L1085.5 397.9L1095.0 399.8L1092.7 391.8L1102.2 385.6L1111.7 388.7L1112.6 384.8L1108.3 377.0L1108.3 367.8L1121.2 370.6L1123.6 380.9L1128.3 381.7L1133.1 375.4L1140.2 372.2L1154.5 370.6L1159.2 365.4L1164.0 369.0L1173.5 368.2L1183.0 365.8L1190.1 358.1L1192.5 360.1L1211.5 366.6L1221.0 369.8L1226.7 365.0L1220.1 352.7L1219.6 348.6L1228.2 340.2L1230.5 332.5L1235.3 328.6L1247.2 333.4L1248.1 348.6L1247.2 365.0L1251.9 377.0L1244.8 386.4L1254.3 380.9L1254.3 369.0L1256.7 356.9L1251.9 344.4L1259.1 335.9L1268.6 338.5L1273.3 337.7L1285.2 340.2L1294.7 344.4L1297.1 351.9L1299.5 341.9L1287.6 335.9L1285.2 327.3L1311.4 323.0L1316.1 314.2L1335.2 307.9L1354.2 304.3L1368.4 300.6L1378.0 300.6L1398.4 289.4L1406.5 292.3L1411.2 297.0L1435.0 300.6L1442.1 307.0L1439.8 314.2L1425.5 318.6L1416.0 325.6L1406.5 329.1L1425.5 325.6L1442.1 326.5L1444.5 327.3L1468.3 330.8L1487.3 327.3L1504.0 325.6L1515.8 332.5L1517.3 344.4L1520.6 348.6L1530.1 344.4L1534.9 343.6L1549.1 344.4L1558.6 343.6L1565.8 337.7L1571.5 332.5L1577.7 334.2L1596.7 337.7L1615.7 344.4L1627.6 349.4L1644.2 347.8L1658.5 351.1L1668.0 360.9L1672.8 359.7L1691.8 360.9L1701.3 358.5L1713.2 356.0L1712.2 359.3L1725.1 357.7L1739.3 359.3L1751.2 361.7L1758.4 365.4L1770.2 370.6L1782.1 377.0L1791.6 380.1L1798.8 381.7L1807.3 387.9L1803.1 391.8L1795.4 396.4L1795.4 400.9L1790.7 400.9L1779.8 397.1L1763.6 387.9L1760.7 392.5L1758.4 396.4L1748.8 398.6L1746.5 398.3L1753.6 409.9L1755.0 416.6L1744.1 415.1L1734.6 420.3L1722.7 426.1L1713.2 433.3L1701.3 429.7L1691.8 434.7L1682.3 434.0L1678.9 440.4L1672.8 447.4L1678.5 448.8L1676.6 456.4L1678.9 460.6L1671.8 468.0L1672.8 470.7L1663.3 474.8L1663.3 480.1L1657.1 481.4L1651.4 489.3L1647.6 495.2L1645.2 489.3L1642.8 478.1L1642.3 468.0L1642.3 457.8L1648.0 449.5L1656.1 445.3L1663.3 438.3L1671.8 431.1L1679.9 424.6L1686.1 415.1L1677.5 415.1L1670.4 426.1L1665.6 428.2L1664.7 419.5L1658.5 421.0L1647.6 422.4L1639.5 434.7L1632.3 439.0L1625.2 440.4L1619.5 436.5L1608.6 437.6L1591.9 437.6L1583.4 437.9L1570.5 448.8L1559.6 458.2L1553.9 469.4L1549.1 470.7L1558.6 475.4L1567.2 473.4L1574.8 479.4L1572.9 480.8L1570.5 491.3L1572.0 494.6L1569.6 507.4L1563.4 517.0L1560.1 522.0L1551.5 532.5L1545.8 540.5L1534.9 546.0L1529.6 544.2L1523.9 547.2L1523.5 549.0L1519.7 552.0L1519.2 558.0L1509.2 564.0L1508.2 567.5L1513.0 571.1L1515.8 576.3L1518.0 586.2L1516.3 591.4L1511.1 593.1L1504.0 596.0L1503.0 593.1L1504.4 586.2L1502.5 581.6L1504.4 577.5L1502.1 576.0L1499.2 574.6L1495.4 574.0L1497.8 570.5L1493.5 563.4L1487.3 565.2L1481.1 569.3L1478.8 565.7L1483.0 559.2L1481.6 557.4L1477.8 558.0L1471.2 563.4L1462.6 568.7L1462.1 571.6L1468.3 575.7L1468.3 579.3L1474.5 576.3L1479.7 576.9L1484.9 577.8L1484.9 581.0L1475.0 585.6L1470.7 589.7L1469.7 593.7L1474.5 597.7L1477.3 604.0L1482.1 610.8L1482.1 615.3L1477.3 618.1L1482.6 620.9L1480.7 629.8L1477.3 632.0L1471.2 642.5L1464.0 650.7L1457.4 657.2L1445.5 662.7L1442.1 663.7L1433.1 667.0L1427.9 668.6L1426.5 673.5L1424.1 667.0L1421.2 667.0L1416.0 667.0L1410.3 670.8L1405.5 678.3L1405.5 682.0L1408.9 687.4L1414.1 693.7L1417.4 695.9L1422.2 708.0L1422.2 717.5L1416.5 723.3L1411.7 726.2L1409.3 730.1L1400.8 735.4L1401.0 729.1L1402.2 728.0L1399.1 725.9L1397.0 725.1L1394.6 724.9L1392.2 720.7L1389.8 717.0L1384.1 714.1L1382.2 710.2L1380.3 709.6L1378.0 710.7L1377.7 714.6L1374.2 725.4L1375.1 732.2L1378.4 736.4L1380.8 742.7L1384.1 744.2L1387.9 747.6L1388.7 748.1L1392.9 752.3L1394.1 760.4L1396.3 767.7L1398.2 772.9L1394.6 773.1L1388.7 768.7L1384.6 764.5L1381.8 759.3L1379.6 752.1L1378.4 746.6L1375.6 741.6L1372.7 738.2L1369.9 739.0L1369.9 733.8L1371.3 728.3L1371.3 715.2L1368.9 706.5L1367.5 700.4L1366.5 693.7L1363.2 690.0L1360.4 693.7L1355.6 697.7L1350.9 696.4L1351.8 688.4L1350.9 681.5L1347.0 677.2L1344.2 674.3L1341.3 671.0L1339.7 667.3L1339.0 662.7L1336.1 661.0L1333.3 661.6L1331.4 665.1L1328.0 665.9L1326.1 666.2L1321.8 666.4L1320.9 664.8L1316.6 667.0L1314.7 673.7L1310.7 676.1L1306.2 679.1L1298.5 687.4L1293.8 691.4L1293.8 693.7L1288.3 695.6L1287.1 697.7L1283.3 701.7L1283.6 704.9L1284.3 711.7L1282.1 717.8L1282.1 726.5L1279.1 726.5L1279.5 731.7L1274.3 734.3L1271.2 738.1L1268.1 735.9L1265.0 728.3L1262.6 721.5L1258.4 712.8L1253.4 699.1L1251.0 691.1L1248.6 680.7L1248.6 672.9L1248.1 668.9L1247.2 663.2L1245.8 665.6L1240.1 671.3L1237.0 670.2L1233.4 666.2L1230.3 662.9L1236.7 659.1L1232.2 660.0L1229.6 655.6L1226.7 655.1L1222.9 653.4L1220.8 649.1L1218.7 646.3L1209.6 646.9L1204.4 646.6L1198.7 647.4L1196.1 647.7L1190.6 646.3L1177.3 644.4L1174.0 638.7L1170.2 636.2L1163.5 639.5L1154.5 637.6L1147.3 632.6L1144.2 626.5L1141.2 620.3L1136.4 617.8L1133.3 620.6L1130.5 620.3L1129.3 623.7L1130.7 624.0L1132.1 628.1L1133.1 629.3L1138.5 637.0L1140.9 640.0L1141.2 644.7L1144.0 649.3L1144.0 645.2L1146.1 641.7L1147.6 646.3L1147.8 650.2L1146.4 650.4L1147.8 652.9L1152.6 652.3L1161.1 651.0L1165.4 646.6L1168.7 643.6L1170.2 640.6L1170.9 641.4L1170.2 644.7L1170.4 647.4L1172.3 651.5L1181.1 655.6L1186.8 661.6L1184.4 667.5L1181.1 672.9L1176.8 676.9L1176.8 681.0L1170.2 686.3L1159.7 691.1L1154.9 693.0L1150.7 695.3L1135.9 704.3L1128.3 707.5L1116.4 713.3L1109.3 714.1L1108.1 710.7L1106.7 702.8L1106.0 694.3L1104.8 691.6L1097.9 679.9L1088.6 667.0L1083.4 652.9L1075.8 641.1L1072.2 635.1L1068.9 630.9L1067.0 631.5L1068.6 624.2L1068.9 623.0L1068.4 623.1L1065.2 612.9L1067.7 608.8L1068.9 604.6L1069.8 601.9L1071.3 598.3L1072.7 595.1L1073.2 592.6L1072.4 589.1L1073.4 585.6L1074.3 582.7L1073.6 581.0L1070.8 583.0L1067.0 581.6L1063.9 584.5L1058.7 585.9L1054.6 583.0L1048.4 581.3L1047.0 585.1L1043.4 585.1L1040.8 582.7L1037.0 581.3L1032.7 582.2L1032.7 580.1L1032.0 575.5L1027.5 572.8L1031.3 572.2L1029.9 570.5L1029.4 566.9L1030.6 565.4L1026.3 565.7L1027.0 562.8L1029.4 560.7L1035.4 560.7L1039.9 560.4L1041.8 558.9L1044.6 558.3L1040.6 556.8L1041.1 555.5L1043.2 555.7L1053.7 554.1L1062.9 550.9L1069.6 550.6L1075.3 555.0L1080.8 556.5L1085.0 557.3L1091.2 556.8L1095.0 556.5L1100.0 553.7L1100.3 552.9L1100.5 549.9L1097.4 544.8L1093.8 542.9L1092.7 542.3L1091.2 541.1L1088.1 538.1L1082.2 534.4L1079.8 533.1L1077.0 531.3L1080.3 530.7L1083.1 526.3L1084.3 522.0L1089.3 518.8L1081.0 519.5L1077.4 521.7L1067.9 525.4L1070.3 530.1L1076.0 530.4L1070.8 532.2L1064.8 535.6L1061.7 535.0L1061.0 531.3L1057.0 530.4L1062.2 525.7L1058.9 525.7L1052.2 522.9L1048.7 523.2L1047.2 525.7L1043.7 531.3L1038.7 537.4L1038.4 540.2L1037.7 542.6L1035.1 543.6L1033.2 547.8L1035.8 550.9L1035.6 551.4L1040.6 555.3L1040.1 556.8L1033.2 556.9L1031.3 559.2L1029.2 560.4L1027.0 562.5L1029.9 559.2L1026.3 558.6L1025.6 557.7L1018.5 557.1L1015.6 558.6L1018.2 561.9L1016.1 560.4L1016.6 563.1L1013.7 561.3L1013.7 563.1L1011.3 559.2L1009.9 562.8L1011.6 566.6L1013.2 567.5L1011.3 569.6L1013.2 571.1L1016.6 573.7L1016.8 576.6L1014.9 574.9L1011.8 574.9L1012.8 577.2L1012.8 578.7L1010.9 577.2L1011.3 579.5L1012.8 583.6L1009.7 581.9L1009.4 583.9L1007.5 580.3L1006.6 582.0L1005.6 581.0L1003.7 576.6L1002.8 574.9L1005.9 573.1L1011.3 574.6L1011.3 573.4L1006.1 572.2L1004.2 572.5L1002.3 572.5L1001.1 569.0L999.5 566.9L998.7 565.7L997.6 564.6L997.6 563.5L994.9 560.1L994.2 560.4L994.9 555.0L995.7 552.0L994.6 551.7L993.3 550.2L990.7 548.4L988.5 546.9L980.7 541.7L974.7 538.1L973.3 532.5L971.2 530.4L968.3 533.5L967.1 531.0L967.6 529.1L967.8 528.5L966.6 527.6L961.2 530.1L961.9 532.8L960.9 536.2L962.4 538.4L966.6 541.1L970.0 548.1L974.3 551.1L979.5 551.4L978.1 553.2L982.6 556.2L987.8 558.9L990.4 561.9L989.7 564.0L988.0 562.5L984.2 560.1L980.9 564.3L984.0 568.1L981.4 569.9L978.8 575.0L976.9 574.0L978.1 571.9L977.8 571.1L979.5 569.3L978.7 566.6L976.6 562.5L975.2 562.8L972.6 558.9L970.7 559.2L970.2 557.8L966.9 555.6L962.4 554.1L960.5 552.3L958.6 550.2L955.2 548.4L952.4 545.1L951.4 541.4L949.1 538.1L944.8 536.2L942.9 536.8L940.5 539.3L938.4 540.0L936.9 540.5L935.7 541.4L934.1 543.2L930.7 544.2L927.9 542.9L924.3 542.6L920.0 542.3L917.4 544.2L917.0 547.2L917.5 548.2L918.1 549.0L917.4 551.7L912.9 554.4L908.4 556.2L906.5 558.6L902.5 563.1L901.0 566.0L903.4 570.2L900.1 572.5L899.1 576.6L897.7 576.9L894.8 578.1L892.0 582.0L890.8 581.4L885.8 582.0L881.5 582.0L879.2 583.3L877.0 585.5L875.8 586.2L872.5 583.3L872.3 581.6L869.4 579.3L867.3 579.4L864.7 580.4L859.9 580.4L860.3 574.9L860.1 571.6L858.7 572.1L857.5 570.5L857.3 570.0L857.8 566.6L860.3 561.9L860.8 558.9L861.2 555.9L860.4 552.6L860.3 551.6L860.6 549.6L858.4 545.4L862.5 542.5L865.8 540.0L868.9 541.4L875.5 541.4L884.4 541.9L888.0 542.6L892.9 542.8L894.0 542.5L895.1 541.8L896.7 534.7L897.2 529.1L897.0 525.4L893.9 523.2L892.0 518.4L887.7 517.0L886.5 515.6L881.7 515.1L880.0 513.6L881.1 511.4L879.8 511.7L883.4 509.2L888.2 508.7L889.4 510.4L892.9 509.7L895.3 509.8L894.8 508.5L893.2 502.8L894.8 503.3L896.4 503.0L897.2 505.1L901.3 505.7L902.9 504.2L903.4 503.0L907.6 501.5L909.8 499.7L910.1 496.3L910.0 495.4L911.3 494.8L913.8 494.2L914.6 494.0L916.2 493.1L918.5 492.2L919.3 491.6L922.0 488.0L925.0 481.8L928.1 480.2L931.9 478.6L935.0 478.4L936.7 479.4L936.5 477.2L941.0 477.8L941.7 478.4L943.1 477.8L943.8 475.6L945.2 475.6L944.5 473.9L943.3 472.8L945.5 471.6L943.6 468.7L942.6 464.9L940.9 464.2L941.1 460.6L941.4 456.4L943.3 453.5L949.8 450.2L952.9 449.2L952.6 451.3L951.4 454.4L954.4 458.4L951.2 460.2L948.6 463.3L948.9 464.2L947.6 464.7L947.4 467.7L947.4 469.4L950.7 472.4L955.2 471.8L954.3 475.1L956.9 475.4L960.0 473.6L961.9 471.6L966.2 470.2L967.8 472.8L970.2 475.3L976.4 473.6L982.6 470.7L985.9 469.6L989.9 469.4L991.8 470.7L990.7 471.4L991.4 472.3L992.6 472.4L995.9 471.8L997.1 470.4L999.7 468.3L1002.8 463.3L1002.5 461.8L1002.5 460.8L1002.3 457.8L1004.9 451.6L1009.9 449.2L1015.6 454.6L1017.1 454.0L1018.5 452.5L1018.2 448.3L1019.0 444.8L1014.2 443.4L1014.2 440.7L1016.8 437.9L1020.1 437.2L1028.5 436.8L1035.8 437.1L1037.0 435.4L1040.6 434.0L1046.1 433.8L1044.9 432.6L1038.4 430.8L1038.9 428.2L1034.6 429.3L1030.6 430.0L1021.1 432.1L1011.6 434.6L1008.3 430.0L1004.2 427.5L1004.7 425.1L1005.2 421.7L1004.0 416.8L1005.2 410.7L1010.4 406.4L1012.3 405.1L1018.7 398.8L1023.5 396.2L1019.2 390.8L1017.3 390.0L1012.5 390.2L1007.8 391.9L1004.7 393.9L1003.3 398.6L999.0 406.0L991.5 409.3L987.8 414.2L985.0 415.8L984.0 420.8L983.8 423.9L984.2 428.4L989.9 431.5L991.8 435.1L990.4 438.3L987.8 441.1L983.8 442.4L981.4 443.2L981.6 449.2L980.7 452.5L980.3 456.6L976.6 460.2L973.1 460.1L970.5 461.8L970.7 464.3L968.2 465.2L965.0 465.5L964.3 464.0L962.8 460.9L961.7 459.2L963.6 456.6L960.7 453.7L959.3 449.5L956.8 445.5L955.6 440.9L955.3 439.7L954.5 439.0L953.6 434.0L952.3 437.4L950.1 440.0L947.2 441.3L944.2 444.2L940.5 446.4L936.0 447.6L934.8 446.9L931.0 444.3L929.7 440.6L927.5 437.4L927.7 430.4L926.2 425.4L926.4 421.7L926.7 417.3L931.7 415.3L936.5 413.3L939.2 410.5L942.9 407.3L948.1 406.2L951.9 408.2L950.0 403.9L957.1 400.4L955.9 397.4L960.5 392.8L962.5 388.5L969.7 386.4L964.3 384.0L970.9 378.7L976.2 373.8L985.3 369.6L978.5 369.8L981.2 366.6L983.3 361.7L992.6 359.7L1002.1 356.6L1013.0 357.1L1009.4 353.6L1015.1 351.4L1025.0 347.2L1021.3 356.0L1028.5 351.9L1033.9 347.5L1036.5 352.7L1042.7 351.1L1050.3 353.8L1043.9 356.3L1045.3 359.1ZM874.3 587.5L877.3 586.8L878.2 590.3L883.9 590.5L888.4 590.3L892.0 591.4L899.4 588.0L902.9 586.5L908.6 583.2L917.0 581.6L921.0 580.9L926.7 581.9L929.8 581.5L935.3 581.0L939.4 581.0L943.3 580.7L949.3 578.4L951.4 581.3L955.0 580.0L952.9 583.9L953.1 587.2L955.0 589.1L953.7 593.5L950.5 598.3L954.3 598.9L955.2 600.6L957.4 602.5L960.0 603.9L965.2 604.0L970.2 605.4L974.3 606.9L975.7 611.9L981.4 613.6L990.7 617.5L993.8 618.8L995.7 618.1L997.8 615.6L997.8 608.5L1002.1 605.1L1006.8 604.0L1010.2 604.7L1012.3 606.8L1016.5 608.6L1021.8 610.4L1022.0 611.6L1025.6 611.3L1032.0 612.8L1040.1 615.6L1044.6 613.6L1047.0 612.1L1049.9 611.3L1053.7 611.8L1056.0 613.2L1063.2 613.9L1065.2 612.9L1068.4 623.1L1067.2 625.9L1066.5 628.7L1065.6 632.3L1065.3 633.0L1062.2 630.1L1060.3 628.1L1059.8 625.6L1057.2 620.6L1056.3 622.6L1057.7 625.4L1059.8 629.5L1063.4 635.6L1063.9 638.4L1065.6 642.0L1068.4 647.7L1071.3 653.7L1072.2 658.9L1076.7 663.2L1077.9 664.3L1079.3 670.2L1079.4 677.2L1080.1 679.9L1082.7 683.6L1086.0 685.8L1087.4 689.0L1090.0 698.5L1091.7 700.6L1093.6 698.5L1096.5 703.3L1100.3 707.0L1105.7 712.3L1107.5 713.8L1108.3 717.8L1104.8 719.6L1107.6 719.6L1108.1 720.4L1109.3 720.9L1116.4 725.7L1123.6 724.1L1128.3 722.0L1131.6 722.0L1136.4 721.3L1141.6 720.2L1143.8 717.7L1146.3 718.4L1145.4 725.7L1144.2 730.6L1139.5 738.7L1137.1 744.0L1133.3 752.3L1127.8 759.3L1118.1 769.6L1115.2 771.3L1111.9 774.4L1104.8 782.1L1100.2 788.8L1096.9 792.0L1093.6 793.7L1093.2 796.9L1091.1 801.2L1088.9 804.5L1088.4 806.5L1086.9 811.9L1087.4 813.6L1089.3 815.6L1089.8 820.7L1090.3 826.7L1091.3 832.3L1093.6 833.7L1094.8 834.7L1094.3 839.3L1095.0 847.9L1096.0 856.2L1096.2 858.7L1092.2 865.1L1083.9 870.6L1078.4 874.0L1075.1 879.1L1068.2 884.3L1067.7 887.9L1068.9 890.6L1070.4 896.0L1071.3 906.1L1069.8 909.6L1062.5 912.8L1057.5 917.6L1058.9 922.5L1056.8 931.0L1055.1 933.2L1050.1 939.2L1047.2 944.1L1043.0 949.1L1035.1 957.0L1030.4 960.3L1024.4 962.4L1020.6 963.7L1013.6 963.0L1007.8 963.6L997.6 967.3L994.0 965.0L992.0 964.7L990.4 964.6L990.0 962.1L987.6 957.0L989.5 951.8L987.3 947.2L984.6 941.7L982.7 935.8L980.8 932.2L974.5 921.4L973.5 918.9L972.8 912.3L971.4 901.1L971.5 899.7L968.8 894.7L966.2 889.5L963.3 883.1L959.5 875.0L958.4 870.5L958.8 862.8L960.2 859.6L961.2 854.9L966.2 845.8L966.9 844.6L968.3 838.6L967.8 836.1L965.4 826.1L964.7 821.0L963.7 817.8L961.2 812.0L961.4 811.3L960.5 809.0L958.8 805.1L955.5 800.7L953.1 798.0L949.1 793.1L943.8 783.4L946.7 781.7L947.4 778.1L948.0 774.9L948.9 770.4L949.1 767.9L949.5 764.8L947.9 760.4L946.2 759.2L945.0 758.8L943.1 756.2L941.9 756.2L938.4 756.7L936.5 757.2L931.5 757.9L928.8 753.9L926.2 749.4L918.6 746.7L915.3 747.0L914.0 747.1L910.2 747.7L908.3 748.2L907.2 749.4L905.5 750.1L901.5 751.3L896.5 753.6L894.1 754.7L892.5 755.4L891.8 754.8L887.7 753.6L883.4 752.7L878.7 753.5L873.5 754.4L870.9 755.4L867.5 757.2L866.6 757.4L865.7 757.4L859.5 754.1L854.7 749.5L851.1 747.4L848.4 745.0L847.8 744.1L847.4 743.9L843.0 740.8L840.9 739.0L839.4 736.0L839.9 734.0L839.2 733.0L837.3 730.6L835.4 727.8L833.0 724.6L830.9 723.0L829.2 721.7L828.3 718.3L824.9 717.5L823.0 715.8L822.6 714.4L822.8 711.9L823.5 709.9L823.8 709.1L822.8 707.3L821.6 704.9L819.2 703.3L820.9 702.2L824.0 696.2L826.2 685.2L824.0 678.4L825.2 672.9L824.0 670.8L821.4 670.9L821.1 670.5L822.1 664.8L826.6 655.1L827.8 650.7L833.5 641.8L838.7 636.2L841.0 631.9L848.5 628.7L854.0 623.8L856.6 618.0L855.5 616.8L856.0 611.9L858.5 607.4L862.0 602.0L866.3 600.0L869.9 597.6L871.1 596.0L873.2 590.8L873.8 589.3ZM1136.9 842.8L1139.7 850.7L1142.6 860.2L1138.8 861.8L1137.4 873.4L1134.5 884.1L1130.2 898.7L1126.4 911.8L1117.4 915.6L1111.7 912.3L1108.8 903.6L1108.3 894.9L1113.6 885.8L1111.7 877.2L1111.7 869.2L1116.0 864.9L1122.6 862.3L1126.9 857.5L1130.2 851.2L1135.0 844.9ZM1580.0 835.9L1584.8 845.9L1586.2 854.9L1590.0 854.9L1593.4 858.6L1593.8 866.0L1596.7 872.4L1598.1 879.3L1604.3 882.0L1610.0 887.4L1612.4 892.8L1615.2 897.6L1619.5 899.2L1620.0 904.7L1623.8 906.8L1630.4 912.8L1630.9 920.5L1632.3 929.9L1630.0 943.3L1629.0 950.6L1623.8 956.9L1621.4 962.6L1619.0 969.4L1615.7 977.5L1615.2 982.8L1607.6 984.5L1601.0 989.8L1598.1 992.2L1593.8 987.5L1590.0 986.9L1584.8 990.4L1578.6 988.1L1571.5 985.7L1567.2 981.0L1566.3 974.1L1561.0 971.7L1559.1 963.7L1557.7 968.9L1553.4 970.0L1556.3 962.6L1558.2 956.9L1557.7 954.6L1553.9 960.8L1548.7 967.1L1545.3 965.4L1540.6 956.9L1537.7 951.8L1531.1 951.2L1526.3 948.4L1515.8 949.5L1507.8 952.9L1501.1 954.6L1493.0 956.9L1489.7 962.0L1482.1 962.0L1472.6 962.6L1465.0 967.7L1463.1 968.9L1456.9 968.3L1450.2 964.8L1449.3 960.3L1452.6 958.6L1452.6 948.9L1449.3 939.9L1447.4 932.1L1445.5 927.1L1441.7 918.9L1443.1 921.1L1445.5 919.4L1441.7 909.6L1443.1 904.1L1443.1 899.2L1445.5 894.9L1451.7 893.3L1457.4 888.4L1464.5 886.8L1468.8 885.2L1477.8 883.1L1484.0 875.0L1483.5 870.3L1490.2 871.3L1489.7 866.0L1494.0 865.5L1495.9 860.2L1500.2 855.4L1505.9 852.2L1510.1 855.4L1512.5 858.0L1518.7 858.0L1517.8 853.3L1522.0 849.1L1524.4 844.9L1529.6 843.8L1533.0 840.1L1534.9 839.6L1541.1 842.8L1545.3 843.8L1550.6 841.2L1553.4 844.3L1550.6 849.1L1548.7 853.8L1546.3 858.0L1552.5 863.3L1557.2 864.9L1563.4 868.7L1568.2 872.9L1572.0 871.9L1574.3 864.4L1575.8 854.9L1576.2 847.5L1577.2 842.8L1578.1 837.5ZM1525.4 784.3L1532.0 782.2L1539.6 784.3L1540.6 793.1L1544.4 797.3L1550.6 791.6L1557.7 787.9L1565.8 791.6L1572.9 793.7L1580.0 796.8L1589.6 799.9L1595.7 806.1L1600.5 811.4L1605.2 812.4L1602.4 815.5L1605.7 821.3L1612.4 827.0L1619.0 833.8L1614.8 834.4L1605.7 832.8L1601.0 828.1L1596.7 822.3L1590.0 820.2L1584.8 823.4L1583.8 827.0L1575.3 828.1L1572.0 826.5L1564.4 822.3L1558.6 823.9L1562.4 817.1L1559.6 809.3L1552.9 805.1L1545.3 803.0L1538.7 800.9L1534.4 801.5L1536.3 793.1L1530.1 794.7L1526.3 787.9ZM1723.6 965.1L1726.5 968.9L1731.3 970.0L1733.6 975.8L1737.4 977.5L1738.9 983.4L1745.0 985.7L1750.3 983.4L1751.2 984.5L1748.4 992.8L1744.1 993.4L1743.6 998.7L1736.0 1007.1L1733.2 1005.3L1735.5 998.7L1732.7 995.7L1728.9 993.9L1732.7 990.4L1733.6 982.2L1730.8 976.4L1725.5 969.4ZM1723.6 1000.5L1725.5 1005.3L1730.8 1003.5L1731.3 1008.3L1726.0 1015.5L1724.1 1020.4L1717.5 1023.4L1715.1 1031.5L1712.2 1033.9L1707.5 1037.7L1702.7 1037.7L1695.1 1035.2L1694.6 1031.5L1700.3 1024.7L1705.6 1021.0L1713.2 1015.5L1717.0 1009.5L1720.8 1002.9ZM1590.5 1001.7L1597.6 1004.4L1605.7 1002.3L1607.6 1005.3L1607.1 1010.7L1605.7 1016.1L1601.4 1019.2L1596.7 1018.6L1593.8 1013.7L1592.9 1008.3ZM533.9 637.6L536.3 639.8L535.4 642.5L534.4 640.9ZM549.2 660.0L551.1 661.6L550.6 663.2L549.6 662.1ZM1772.6 490.0L1775.5 490.0L1775.0 488.0L1773.1 488.4ZM262.9 447.4L270.0 460.6L274.8 468.0L270.0 469.4L265.3 461.9L259.1 455.1L254.3 448.1L258.2 446.0ZM1751.2 490.7L1756.0 492.3L1755.5 491.3L1752.2 490.0ZM436.5 286.7L446.0 287.7L448.4 282.0L438.8 279.2ZM530.1 648.0L532.5 648.5L533.0 653.4L530.6 651.3ZM595.8 502.0L602.9 505.5L609.1 506.8L605.3 503.0L598.1 501.4ZM608.1 690.3L609.1 690.6L608.6 691.1ZM569.4 714.4L570.2 715.2L569.6 715.3ZM1782.1 487.7L1786.9 487.7L1786.4 485.7L1782.6 486.1ZM1722.7 482.4L1727.0 482.8L1726.5 481.4L1723.2 481.4ZM446.0 268.5L455.5 274.4L469.8 283.9L484.0 283.0L488.8 277.2L481.6 269.5L469.8 261.7L460.2 254.7L450.7 259.7ZM593.4 419.5L579.1 416.6L564.8 411.4L557.7 405.4L548.2 400.9L531.6 401.7L533.9 394.1L550.6 393.3L553.0 384.8L557.7 377.0L553.9 370.6L545.8 365.8L533.9 359.3L526.8 354.4L517.3 356.9L499.2 356.9L481.6 351.9L476.9 346.9L475.5 335.9L476.9 325.6L493.5 324.3L498.3 329.1L495.9 341.9L501.6 338.5L503.0 326.5L514.9 325.2L518.3 333.4L522.1 325.2L537.3 328.2L536.3 334.2L548.2 341.9L562.5 346.9L576.7 352.7L581.5 360.9L586.2 370.6L598.1 376.2L611.0 383.2L605.3 391.8L600.5 396.4L591.0 389.5L579.1 383.2L583.9 391.8L594.8 404.7L595.3 412.2L586.2 409.9L576.7 405.8L586.2 415.8ZM319.0 347.8L329.5 344.4L336.6 337.7L343.7 329.1L350.9 323.9L343.7 320.4L324.7 318.6L310.5 320.4L309.5 329.1L304.3 338.5L306.7 341.0L315.2 346.1ZM619.0 710.7L619.8 711.5L619.2 712.0ZM407.9 313.3L427.0 314.2L437.4 309.7L434.1 299.7L422.2 298.8L412.7 303.4L406.5 309.7ZM577.2 715.9L578.2 716.7L577.7 717.3ZM558.7 665.1L562.0 665.4L561.5 666.2ZM542.5 650.2L544.2 652.3L543.7 652.6ZM549.6 1017.3L553.0 1017.3L553.4 1009.5L550.1 1008.3ZM547.3 1021.0L551.1 1020.4L551.5 1025.3L549.6 1030.2L547.7 1033.9L544.9 1033.3L546.3 1028.4L545.8 1024.7ZM443.6 314.2L455.5 317.3L457.9 311.5L450.7 308.4L443.6 309.7ZM488.8 672.1L490.0 672.4L489.0 673.7ZM498.5 665.1L501.6 662.1L507.8 658.9L510.6 658.1L514.9 658.3L522.1 659.1L529.2 662.1L535.4 665.9L542.5 669.1L549.9 673.7L544.9 675.6L542.0 675.3L533.0 675.9L535.8 672.6L531.6 671.3L528.2 666.7L522.1 665.6L519.9 664.0L516.3 663.2L512.5 662.1L511.1 660.8L506.4 663.2L503.0 664.6L500.7 665.6ZM573.6 715.7L575.5 717.0L575.1 717.3ZM443.6 312.4L460.2 317.7L484.0 318.6L507.8 317.7L522.1 316.8L524.4 310.6L517.3 307.0L498.3 307.9L479.3 308.8L467.4 300.6L455.5 297.9L446.0 299.7L462.6 307.0ZM610.3 698.5L611.2 699.3L610.7 700.6ZM537.7 645.2L540.1 646.9L540.4 649.6L539.4 647.4ZM405.6 283.0L419.8 288.6L431.7 285.8L429.3 277.2L415.1 274.4L403.2 276.3ZM474.5 302.5L488.8 301.6L503.0 302.0L519.7 303.4L531.6 297.0L529.2 287.7L543.5 282.0L541.1 275.3L550.6 272.4L562.5 270.5L569.6 263.6L588.6 258.7L595.8 252.7L607.6 246.6L610.0 242.5L595.8 238.3L569.6 236.3L545.8 236.8L526.8 236.3L512.5 238.3L493.5 242.5L484.0 246.6L469.8 248.6L488.8 252.7L472.1 257.7L481.6 264.6L493.5 267.6L491.1 273.4L498.3 277.2L486.4 283.9L481.6 288.6L491.1 293.3L476.9 294.2ZM540.6 654.8L543.0 656.4L542.5 656.7ZM526.8 638.9L532.0 638.7L535.4 641.4L532.0 639.5ZM693.7 434.7L686.1 431.8L681.3 428.2L672.8 426.8L666.1 418.8L660.0 409.9L656.6 402.4L650.9 393.3L647.1 381.7L650.9 367.4L659.5 363.4L660.9 358.5L653.8 356.0L643.3 351.1L655.2 347.8L640.9 344.4L635.7 333.4L633.8 323.0L625.7 312.4L614.8 305.2L600.5 303.4L586.2 305.6L575.3 300.6L564.8 296.0L573.4 291.4L556.3 284.8L574.4 277.2L593.4 269.5L583.9 264.6L600.5 255.7L610.0 248.6L631.4 245.6L650.4 246.6L664.7 242.5L683.7 244.5L693.2 238.3L712.3 234.2L743.6 230.7L769.3 235.2L788.3 240.4L797.8 245.6L769.3 247.6L793.1 251.7L816.9 251.7L847.8 253.7L831.1 260.7L819.2 266.6L812.1 275.3L809.7 286.7L814.5 297.0L800.2 303.4L808.3 311.5L809.7 318.6L797.8 324.7L788.3 332.5L797.8 338.5L797.8 351.9L778.8 353.6L793.1 356.4L790.7 360.9L778.8 368.2L759.8 372.2L745.5 378.5L736.0 385.6L723.7 391.8L712.3 396.4L707.5 407.7L700.4 422.4L698.0 431.1ZM608.8 716.5L609.5 717.0L608.8 717.5ZM608.6 694.8L611.0 694.3L610.5 696.7L609.1 696.4ZM270.0 474.1L276.2 474.4L275.3 481.4L279.6 488.0L273.8 483.4L271.0 478.8ZM160.4 676.4L161.4 680.2L162.6 680.7L166.1 677.7L164.5 675.3L161.4 673.7ZM548.4 683.9L550.1 682.3L556.3 683.4L558.4 682.8L556.8 679.9L556.8 678.0L553.4 675.6L559.1 676.1L561.3 676.7L566.3 676.1L570.1 676.9L573.4 678.8L571.5 680.2L577.5 682.6L574.6 683.6L570.1 683.4L567.2 684.7L564.4 684.7L562.9 687.9L561.3 685.5L557.7 684.7L551.8 684.7ZM794.5 405.4L802.6 405.1L813.1 408.4L826.4 403.2L833.5 400.9L838.3 396.4L833.0 388.7L825.4 384.8L816.9 387.5L805.9 387.9L801.6 393.3L795.5 385.2L786.4 392.2L797.8 393.3L796.4 396.4L788.3 397.5L797.8 401.7ZM552.2 668.9L554.9 668.1L555.1 670.0L553.0 670.0ZM467.4 779.6L469.3 780.7L470.2 784.8L467.6 785.3ZM529.9 684.2L533.9 683.1L539.6 685.0L539.6 686.3L535.4 687.1L530.6 685.2ZM507.3 664.8L509.7 664.8L509.7 667.0L507.8 667.0ZM142.8 663.7L144.3 664.9L145.0 663.5L143.8 663.0ZM429.3 364.2L438.8 368.6L448.4 366.6L447.9 360.9L441.2 357.7L432.7 360.1ZM167.3 452.3L172.6 455.4L178.7 450.9L178.3 446.0L174.0 446.4L169.2 449.5ZM544.4 655.6L546.3 658.3L546.5 659.4L545.4 657.8ZM596.2 722.5L599.1 722.0L598.8 723.3L596.7 723.3ZM611.4 702.5L613.1 703.3L612.6 704.9ZM157.3 670.2L159.2 671.8L160.7 671.3L159.2 669.7ZM346.1 311.5L355.6 314.6L365.1 319.5L379.4 315.9L396.0 314.2L400.8 307.0L386.5 300.6L381.8 306.1L372.3 303.4L360.4 300.6L348.5 302.5L353.3 307.0ZM154.5 669.1L157.1 669.4L157.1 668.6L154.7 668.6ZM533.7 647.5L535.1 647.7L534.4 648.1ZM620.5 516.3L629.0 516.3L636.7 520.1L640.0 520.7L645.7 521.3L650.0 522.3L651.9 517.0L650.4 510.6L646.6 508.1L647.6 504.2L640.9 503.6L637.1 501.0L638.6 491.3L632.4 493.3L629.0 499.7L625.2 506.8L621.9 511.3ZM106.5 431.8L112.2 434.7L115.0 432.6L112.2 430.0ZM150.0 666.7L150.7 668.1L152.6 668.1L151.6 665.9ZM596.2 522.0L601.9 525.1L607.6 524.5L606.7 523.2L599.1 520.4ZM317.6 305.2L331.9 306.1L346.1 300.6L350.9 292.3L336.6 293.3L320.0 300.6ZM417.4 340.2L429.3 345.2L441.2 340.2L442.6 331.7L436.5 323.9L424.6 324.7L419.8 329.1L424.6 333.4L415.1 334.2ZM582.9 683.6L588.6 683.1L590.5 684.4L588.6 686.0L582.9 686.0ZM472.1 782.7L473.6 783.3L472.8 784.3ZM476.4 784.0L477.8 784.3L477.1 785.1ZM448.4 338.5L457.9 340.2L469.8 333.4L474.5 324.7L460.2 321.7L448.4 325.6L447.4 332.5ZM488.8 407.7L495.9 409.9L505.4 403.9L517.3 407.7L521.1 403.9L514.9 400.2L503.0 394.1L498.3 389.5L493.5 392.5L492.1 400.9ZM593.9 686.9L595.3 687.1L594.6 687.5ZM603.6 689.0L604.8 690.0L604.3 690.3ZM93.2 410.3L99.8 409.9L96.5 408.1L93.2 406.6ZM1797.8 408.8L1804.7 410.3L1804.7 406.6L1798.3 406.2ZM612.2 706.7L612.9 707.5L612.2 708.5ZM611.2 710.4L611.8 710.9L611.4 711.6ZM576.3 1076.5L580.5 1084.2L586.2 1088.2L592.9 1089.9L586.2 1092.6L583.9 1094.3L582.4 1098.7L576.7 1096.3L569.6 1095.6L562.5 1092.2L555.3 1087.5L548.2 1080.2L553.0 1080.2L560.1 1084.2L564.8 1084.8L568.2 1081.5L568.7 1077.5ZM613.1 721.7L614.8 720.9L614.5 722.0ZM608.1 727.8L612.4 727.5L612.6 723.8L609.1 724.4ZM98.9 482.4L104.6 479.4L103.1 477.8L98.9 480.1ZM105.0 479.4L111.7 476.8L111.7 474.4L107.4 475.8ZM118.4 470.7L126.0 469.7L125.5 468.0L119.8 468.4ZM291.9 496.2L294.8 500.4L303.3 506.2L308.1 509.4L315.2 511.9L315.7 508.7L309.0 502.3L300.9 497.2L296.2 494.9ZM344.7 357.3L355.6 363.0L362.8 369.0L379.4 368.2L393.7 365.0L403.2 364.2L418.4 360.1L422.7 354.4L415.1 348.6L405.6 345.2L406.0 335.1L401.3 330.8L391.3 329.5L386.5 335.1L377.0 332.1L367.5 332.5L358.0 328.2L342.3 332.5L337.6 340.2L343.7 345.2L353.3 344.4L367.5 351.9L358.0 354.4L346.1 351.1L350.9 355.2ZM593.1 683.6L595.3 683.9L594.3 684.3ZM1343.2 709.6L1344.7 712.3L1344.2 719.1L1342.3 718.1ZM1446.9 822.6L1452.6 823.6L1449.8 826.0ZM1402.7 790.0L1407.4 787.9L1409.8 795.2L1406.0 794.2ZM1232.9 329.1L1240.1 327.3L1243.4 330.8L1235.3 332.1ZM942.6 760.6L944.8 761.2L943.8 763.2ZM1420.8 772.3L1423.6 769.7L1431.2 772.3L1432.2 766.1L1439.8 763.5L1446.0 756.2L1451.7 751.5L1457.4 744.2L1461.6 746.3L1469.3 752.6L1464.0 757.8L1462.1 761.4L1463.5 768.2L1468.3 774.9L1463.1 776.0L1461.2 784.3L1456.9 787.9L1455.9 794.7L1454.0 799.4L1447.9 801.5L1444.5 797.8L1439.8 796.8L1434.5 798.3L1426.5 795.2L1426.0 788.5L1421.2 782.7L1421.7 778.1ZM972.4 466.4L974.3 466.4L974.3 468.0L972.6 467.7ZM1637.6 808.2L1641.9 811.4L1643.8 815.5L1640.4 814.0ZM1501.6 796.8L1506.8 796.5L1506.8 799.6L1502.5 799.9ZM822.1 629.5L825.9 628.4L824.0 631.2ZM827.3 631.5L829.2 630.6L829.2 632.6L827.8 632.9ZM833.5 630.9L836.4 627.6L836.6 629.8L834.5 631.2ZM836.6 626.5L838.5 624.8L838.3 626.2ZM816.9 627.3L818.1 627.0L817.6 628.7ZM789.8 700.1L791.2 700.6L790.7 702.2ZM1488.7 730.9L1492.3 721.5L1490.2 726.5ZM1108.1 839.6L1109.3 841.7L1108.3 842.2ZM943.3 548.4L947.2 544.8L947.9 550.2L946.2 554.4L943.3 551.4ZM1014.4 590.3L1017.5 588.5L1024.7 590.0L1027.5 590.8L1024.7 592.0L1019.9 592.3L1014.4 590.5ZM1056.0 591.7L1059.4 590.0L1066.7 588.1L1063.6 591.7L1059.4 594.3L1056.8 593.4ZM1004.7 287.7L1016.6 287.7L1019.0 293.3L1009.4 293.7L1002.3 291.4ZM1013.2 569.0L1017.5 571.1L1019.2 574.3L1016.6 572.8L1013.2 570.2ZM867.3 417.3L871.1 416.2L871.1 419.5L868.2 421.7ZM1745.5 872.9L1750.3 871.3L1752.2 874.5L1746.5 875.6ZM1752.6 867.6L1758.4 864.9L1757.4 867.1L1753.6 869.2ZM1472.1 824.4L1477.8 823.9L1486.8 822.3L1486.4 824.9L1477.8 826.8L1472.6 826.0ZM1116.4 261.7L1128.3 258.7L1142.6 259.2L1145.0 262.6L1130.7 266.6L1116.4 264.6ZM1154.5 263.6L1173.5 259.7L1185.4 260.7L1192.5 263.6L1173.5 267.6L1159.2 266.1ZM1164.0 256.7L1178.2 249.6L1187.8 252.7L1202.0 251.7L1211.5 257.7L1197.3 259.7L1178.2 257.7ZM949.1 465.3L951.9 464.0L953.8 466.0L952.9 467.7L950.0 467.4ZM988.8 452.6L992.3 447.8L993.3 448.8L991.6 452.6L989.5 454.7ZM875.4 500.7L878.4 501.0L882.5 498.8L885.8 499.1L886.3 496.8L890.6 497.2L893.4 497.2L896.3 495.9L901.5 495.9L906.7 495.2L909.1 493.6L909.1 492.0L905.3 491.6L906.7 489.7L910.1 487.4L910.8 484.1L908.6 481.8L904.4 481.8L902.9 482.8L904.1 480.1L902.9 477.4L900.6 476.8L902.5 476.4L901.5 474.1L896.7 470.4L895.3 467.4L893.9 463.6L890.6 461.2L886.8 461.2L889.1 459.2L891.0 456.4L892.9 452.3L893.9 450.9L892.5 449.5L885.8 449.5L883.0 450.6L883.9 448.5L887.7 444.6L888.0 442.9L883.4 443.6L878.7 443.1L877.3 446.0L874.9 450.2L875.4 454.4L873.0 456.4L876.3 458.5L875.8 462.6L874.9 466.0L877.7 465.0L879.2 464.0L880.1 468.0L878.2 469.7L881.5 470.1L885.8 468.7L886.3 471.4L887.2 474.1L888.9 474.1L888.2 476.4L887.7 478.8L882.5 479.4L880.6 482.8L883.0 484.1L883.0 486.7L877.7 488.7L878.7 490.3L882.5 491.0L887.2 492.0L889.6 491.0L887.7 493.3L882.5 493.3L880.6 495.2L878.2 498.5ZM1419.1 679.4L1423.6 675.3L1428.4 674.5L1430.3 677.2L1427.6 682.0L1423.1 684.7L1419.3 683.1ZM1508.7 774.9L1511.1 769.0L1510.6 773.4L1514.4 772.3L1512.0 776.2L1514.9 778.6L1510.6 777.8L1512.5 784.3L1509.7 780.1ZM868.7 448.8L873.0 443.9L873.0 446.0L867.7 453.7ZM1007.5 441.1L1010.4 440.0L1011.8 441.8L1009.4 442.5ZM1568.4 553.8L1572.4 552.3L1573.9 547.8L1582.4 550.8L1587.2 545.1L1594.3 542.9L1592.9 537.4L1584.8 536.8L1577.2 529.4L1576.2 535.6L1574.3 542.9L1570.1 543.6L1567.7 547.8ZM1524.9 597.7L1527.7 593.7L1533.0 589.7L1539.6 588.8L1545.8 588.5L1549.1 586.2L1552.5 581.6L1555.3 577.5L1553.4 580.1L1556.3 581.6L1561.5 578.1L1565.8 572.8L1568.2 563.4L1568.2 559.2L1569.6 555.6L1572.9 554.1L1574.8 554.7L1575.3 559.8L1577.7 565.2L1575.8 572.2L1572.9 574.0L1572.4 581.0L1571.0 586.2L1572.0 588.0L1569.6 590.8L1567.2 592.3L1567.2 588.5L1564.4 590.3L1562.4 594.0L1560.1 594.0L1555.3 594.3L1553.4 596.0L1550.6 600.6L1547.7 600.6L1544.9 598.3L1546.3 594.3L1542.0 593.4L1537.2 595.1L1532.0 596.0L1529.2 598.0L1525.4 598.0ZM854.9 490.7L857.8 491.3L863.0 489.3L869.2 487.0L872.0 486.7L873.7 482.1L873.4 478.1L873.0 474.8L875.8 472.8L876.3 470.1L873.4 466.7L867.7 466.0L863.0 467.0L861.6 470.7L863.0 471.8L859.7 472.8L854.9 472.8L856.3 477.4L854.4 478.1L859.7 480.4L857.3 484.1L853.5 487.0ZM1402.7 815.5L1407.0 810.8L1411.2 811.1L1417.9 814.5L1427.9 816.1L1430.3 813.4L1437.9 816.1L1446.4 820.2L1446.4 824.9L1438.3 823.9L1430.3 823.1L1419.3 820.2L1408.9 818.7ZM1502.5 601.7L1505.9 600.6L1504.4 602.0ZM1131.6 364.2L1137.8 360.9L1141.6 364.2L1136.4 367.4ZM1594.3 539.9L1599.1 535.9L1597.2 538.1ZM1601.4 533.8L1610.0 529.4L1605.7 531.3ZM1629.0 518.8L1634.7 508.7L1643.3 499.1L1644.7 496.5L1640.9 500.4ZM1519.2 601.7L1522.5 600.0L1525.4 598.3L1528.7 600.0L1529.6 604.0L1527.3 612.5L1523.9 614.4L1521.6 613.0L1521.6 608.0L1519.7 605.1ZM1025.6 567.5L1028.9 566.6L1028.5 568.7L1026.1 568.4ZM963.8 373.8L971.4 371.0L977.6 368.6L973.8 367.0L975.2 363.8L978.5 362.6L980.0 366.2L975.2 370.6L970.0 372.2L964.3 373.4ZM954.8 469.4L960.0 468.7L959.0 470.7L955.7 470.4ZM1454.0 823.9L1457.4 823.9L1456.4 826.5L1454.0 826.2ZM1474.5 696.4L1475.9 683.1L1482.1 684.2L1484.0 690.0L1480.2 696.9L1481.1 705.9L1485.9 705.4L1491.6 708.0L1492.6 714.6L1488.7 712.3L1485.4 710.7L1481.1 707.5L1475.9 708.0L1477.3 704.3L1473.5 702.8ZM1568.2 327.3L1577.7 323.9L1584.8 329.1L1575.3 329.9ZM913.6 565.2L917.2 563.1L918.9 564.6L917.0 566.9ZM1175.4 885.8L1177.1 886.8L1175.4 887.9ZM1482.1 744.0L1484.5 738.5L1489.2 734.8L1494.0 735.6L1499.2 729.3L1503.0 734.3L1504.4 742.1L1502.1 747.4L1498.7 751.0L1499.2 744.8L1496.4 748.9L1492.1 746.8L1493.0 741.6L1488.7 741.1L1483.5 743.7ZM1474.5 709.9L1478.8 709.9L1480.2 714.4L1478.0 716.2ZM1484.5 728.0L1487.8 723.0L1489.9 723.8L1488.7 731.7L1486.8 733.0L1484.5 729.9ZM1556.3 311.5L1563.4 304.3L1577.7 305.2L1591.9 309.7L1584.8 315.1L1568.2 315.9L1561.0 315.1ZM1599.1 312.4L1611.0 310.6L1618.1 313.3L1611.0 316.4L1601.4 315.9ZM1608.1 808.8L1617.1 808.8L1622.8 802.2L1626.6 802.0L1625.7 807.2L1619.0 812.4L1612.4 812.4ZM1682.3 885.8L1689.4 890.6L1696.5 897.6L1693.2 897.1L1686.6 892.2ZM1619.5 793.9L1626.2 798.3L1630.0 804.1L1628.5 800.9L1622.8 795.2ZM1364.2 772.9L1368.0 777.0L1366.5 775.5ZM1164.0 329.1L1171.1 321.2L1166.4 313.3L1178.2 308.8L1192.5 302.9L1211.5 300.2L1229.6 296.5L1225.8 302.5L1206.8 307.9L1192.5 312.4L1190.1 318.6L1180.6 323.0L1177.3 326.5L1171.1 329.5ZM1147.3 343.6L1154.5 335.9L1156.8 329.9L1164.0 328.2L1171.1 330.4L1168.7 338.5L1166.4 346.1L1175.9 351.9L1164.0 351.9L1156.8 349.4L1149.7 347.8ZM1509.4 642.0L1512.5 637.8L1511.1 639.8ZM980.4 459.5L983.8 451.9L983.1 455.1L981.2 459.5ZM886.8 440.4L889.1 438.3L890.6 439.7L888.7 441.4ZM1459.7 736.4L1463.5 732.2L1469.7 724.9L1470.7 720.9L1468.3 725.9L1464.5 732.2L1460.2 735.9ZM1482.1 718.1L1487.8 719.9L1487.3 723.0L1482.6 725.7ZM1165.4 890.1L1167.8 891.1L1166.4 892.5ZM1034.2 585.4L1036.5 583.6L1036.1 585.9L1034.6 586.8ZM1006.4 445.3L1010.4 443.2L1013.2 444.3L1008.5 447.1L1007.1 447.8ZM1559.6 575.5L1561.3 572.8L1561.0 574.9ZM1577.2 526.0L1580.5 522.0L1584.8 521.3L1582.4 517.0L1581.0 510.6L1583.4 505.5L1588.1 507.4L1590.5 509.4L1583.8 501.0L1585.7 491.3L1583.8 482.8L1582.4 475.4L1580.0 472.8L1578.6 478.1L1576.7 486.7L1578.1 495.9L1578.1 504.2L1577.7 513.8L1577.7 521.3ZM1493.5 714.6L1498.3 714.6L1500.2 721.7L1497.1 724.4L1496.8 728.0L1493.5 723.3L1496.4 720.7ZM933.4 778.1L934.6 778.6L933.6 779.9ZM941.4 557.1L946.2 555.3L948.8 559.8L948.1 567.5L945.2 568.4L942.4 569.0L942.4 563.4ZM1511.1 796.8L1518.2 794.7L1524.4 796.8L1520.1 798.1L1511.6 798.1ZM1356.6 276.3L1366.1 267.6L1378.0 265.6L1392.2 273.4L1397.0 281.1L1382.7 284.8L1375.6 279.2L1363.7 278.7ZM1335.2 266.6L1344.7 258.7L1358.9 255.7L1368.4 260.7L1354.2 266.6L1342.3 271.5ZM1378.0 286.7L1392.2 283.9L1404.1 283.9L1399.4 287.7L1382.7 289.5ZM894.8 432.6L897.2 427.9L898.7 427.9L896.7 433.3ZM1531.8 600.9L1534.4 597.1L1539.6 595.7L1543.0 596.6L1543.0 598.9L1540.6 601.7L1536.3 601.1L1534.6 604.8ZM1371.3 785.3L1374.6 789.0L1373.2 788.5ZM961.7 574.6L965.7 573.4L976.6 573.0L974.3 578.1L974.3 582.5L970.5 580.1L963.8 577.2ZM871.1 451.9L873.0 449.9L875.4 452.6L873.4 453.7ZM1155.9 714.6L1161.6 714.4L1159.2 715.9ZM1646.6 815.0L1651.4 818.1L1656.1 819.7L1662.3 823.9L1658.5 822.3L1649.9 818.7ZM1661.4 828.6L1667.1 829.1L1665.6 831.5L1662.3 830.9ZM1666.1 823.9L1668.0 828.1L1669.9 830.2L1668.0 824.9ZM1669.4 833.8L1674.2 835.4L1672.8 836.5ZM1281.9 730.1L1283.8 729.1L1288.6 735.9L1291.9 742.1L1290.5 746.8L1285.7 749.2L1282.9 747.4L1281.7 741.1L1282.4 735.4ZM1472.1 776.5L1477.3 773.4L1488.7 775.2L1496.4 771.6L1497.8 772.9L1493.0 778.1L1480.2 777.8L1474.0 779.9L1473.5 784.3L1479.2 785.1L1488.7 783.5L1489.2 785.3L1482.1 789.8L1486.4 796.8L1486.4 803.0L1483.0 804.1L1480.7 800.9L1477.3 794.2L1475.0 796.3L1475.0 808.8L1470.7 808.8L1471.2 798.3L1467.3 794.7L1469.7 786.9L1472.1 780.1ZM1355.6 751.0L1366.1 752.8L1369.9 758.3L1378.0 766.1L1382.2 769.2L1392.7 777.0L1396.0 779.6L1394.6 785.3L1399.4 789.5L1406.5 795.7L1406.0 802.0L1405.5 810.3L1399.8 810.3L1398.4 807.2L1388.9 800.9L1382.7 793.7L1379.9 784.8L1373.7 778.6L1371.8 771.3L1364.6 763.5L1356.6 755.2ZM1468.3 829.6L1474.0 828.9L1476.9 832.3L1473.1 833.8L1468.8 831.2ZM1457.8 824.9L1463.1 822.3L1468.8 823.1L1468.3 825.7L1463.1 826.5L1457.8 827.3ZM953.8 278.2L958.6 269.5L969.0 269.5L978.5 267.1L985.7 269.5L999.9 264.6L1016.6 264.6L1031.8 266.6L1028.5 273.4L1014.2 275.3L1002.3 280.1L992.8 281.1L1004.7 284.8L990.4 291.4L983.3 298.8L973.8 295.1L969.0 290.5L966.6 284.8L957.1 283.0ZM1473.5 658.9L1476.4 651.3L1480.2 646.3L1482.6 648.0L1480.2 656.2L1477.1 664.6ZM1489.7 834.1L1494.0 829.1L1497.3 827.5L1507.8 823.9L1505.9 826.0L1497.3 830.2L1494.0 833.0ZM1516.8 596.6L1518.2 593.7L1517.5 596.0ZM1694.6 858.6L1697.5 861.8L1695.6 861.8ZM1697.5 864.4L1700.3 866.5L1698.9 867.1ZM1702.2 872.4L1704.1 873.4L1702.7 873.7ZM1180.6 356.0L1189.2 353.6L1188.7 358.5L1183.0 359.3ZM1751.2 347.8L1758.4 344.4L1768.8 346.5L1770.2 349.0L1760.7 350.3L1753.6 349.8ZM1088.9 810.1L1090.5 811.9L1089.6 813.7ZM955.2 463.3L958.6 461.6L962.4 460.9L962.4 464.3L960.0 468.0L956.2 466.7Z" fill="#f0f0f0" stroke="none"/>
<g clip-path="url(#lc)" stroke="#2a2a2a" stroke-width="0.7" stroke-linejoin="round">
<path d="M303.3 510.0L316.2 512.2L317.1 509.4L316.2 507.4L450.0 507.4L450.0 505.0L451.7 505.5L452.6 509.4L457.9 510.3L465.0 511.9L470.7 513.2L476.9 513.8L482.1 511.9L491.1 516.3L498.8 520.7L501.1 523.2L505.4 525.7L505.9 527.6L510.2 530.7L512.1 538.7L510.6 544.8L510.2 547.2L507.3 549.0L507.3 551.1L510.6 552.6L517.3 549.6L526.8 546.0L526.6 544.2L525.9 542.0L531.6 541.1L537.3 541.1L539.2 538.1L542.0 535.6L547.3 532.5L562.5 532.5L564.4 530.7L565.8 530.1L567.7 527.6L568.4 523.8L569.6 522.0L573.2 517.3L574.8 518.8L577.7 517.9L580.1 519.7L580.1 528.2L581.7 530.7L582.9 531.6L584.1 533.8L583.9 538.7L579.1 556.8L560.1 574.6L555.3 597.7L526.8 614.7L524.0 631.5L524.0 645.2L517.3 651.8L505.4 645.2L500.7 628.7L484.0 629.8L460.2 631.5L443.6 642.5L440.5 642.8L438.8 643.1L431.2 640.3L429.3 634.2L425.5 629.8L424.6 627.6L422.7 624.0L420.3 621.6L416.0 621.0L414.1 622.0L412.0 626.1L407.9 624.2L406.0 622.9L403.7 617.0L396.0 610.5L388.0 610.3L388.0 612.9L374.3 612.9L356.6 606.3L357.0 605.0L345.5 606.1L336.6 609.1L322.3 597.7L303.3 562.8Z" fill="#d13600"/>
<path d="M232.0 359.7L232.0 431.1L241.0 432.6L248.6 440.4L253.4 436.8L258.2 434.7L260.5 437.6L265.3 441.1L268.1 444.6L274.8 453.7L275.7 457.1L284.3 461.2L283.8 462.6L283.4 468.0L281.5 470.1L265.3 471.4L246.3 454.4L227.2 440.4L198.7 443.9L179.7 461.2L141.7 474.8L113.1 478.1L94.1 461.2L94.1 340.2L189.2 340.2Z" fill="#d13600"/>
<path d="M482.8 697.7L478.3 702.0L477.6 704.8L481.6 707.5L485.0 709.9L485.4 710.7L486.4 711.2L487.3 712.3L490.2 710.7L493.0 707.3L495.0 707.8L498.8 702.8L507.1 701.7L510.2 699.1L505.4 693.7L484.0 694.8Z" fill="#3a6bac"/>
<path d="M495.0 722.4L498.8 723.0L504.5 723.1L507.8 725.4L511.1 728.5L509.9 730.3L508.3 733.8L508.3 738.2L505.4 739.5L491.1 730.6L492.1 722.8Z" fill="#80c896"/>
<path d="M582.9 900.3L587.7 894.9L592.4 896.5L596.5 900.3L599.6 896.0L604.6 897.3L612.4 905.8L621.9 910.7L628.6 913.9L623.8 924.9L631.4 926.0L636.7 925.2L641.4 921.6L642.8 915.6L646.4 915.9L647.3 919.2L647.1 922.7L644.3 925.8L640.9 928.0L637.1 930.7L633.8 934.4L628.6 941.1L625.7 954.0L624.8 962.0L624.5 963.7L627.1 966.9L633.8 971.7L640.9 985.7L617.2 1009.5L607.6 1046.5L588.6 1072.2L577.0 1074.4L569.6 1072.2L560.1 1072.2L545.8 1065.7L541.1 997.5L560.1 912.3L574.4 896.0Z" fill="#d13600"/>
<path d="M576.3 1075.5L576.3 1091.6L586.2 1092.9L598.1 1092.2L598.1 1082.2L583.9 1075.5Z" fill="#d13600"/>
<path d="M604.6 897.3L606.2 890.9L606.5 887.9L608.6 883.3L617.2 881.5L621.4 881.7L626.0 884.1L626.0 886.0L627.1 889.0L627.4 896.5L636.2 897.3L637.6 897.6L639.0 906.6L644.3 907.1L642.8 915.6L641.4 921.6L636.7 925.2L631.4 926.0L623.8 924.9L628.6 913.9L621.9 910.7L612.4 905.8Z" fill="#d13600"/>
<path d="M657.1 757.3L652.8 766.6L650.9 768.7L642.8 768.0L636.7 770.3L633.8 770.0L630.0 771.3L626.7 772.3L622.9 773.9L618.6 770.5L617.4 766.6L619.1 759.9L618.6 756.7L617.2 753.6L613.6 753.1L610.0 757.0L604.3 759.1L602.9 760.9L598.1 759.6L595.3 758.3L597.2 764.5L598.1 769.7L601.0 768.7L598.1 771.8L592.4 775.5L587.2 776.2L584.6 773.8L583.4 773.9L582.4 770.3L579.6 771.0L578.2 770.8L570.3 771.3L570.3 774.6L573.4 774.9L572.2 782.7L569.4 781.2L572.2 785.9L569.8 802.1L568.2 801.7L555.8 806.7L554.4 811.4L552.0 816.1L550.6 819.2L555.8 829.1L559.1 832.3L566.8 829.6L566.8 837.5L571.6 837.2L576.3 838.0L579.1 835.7L585.8 831.7L592.0 830.7L591.7 836.5L593.4 842.8L596.2 845.1L601.9 846.2L607.6 848.5L612.4 850.7L615.3 852.2L616.2 859.1L616.2 865.2L625.0 865.5L624.8 870.3L627.9 872.1L629.0 875.6L628.3 879.9L626.0 884.1L626.0 886.0L627.1 889.0L627.4 896.5L636.2 897.3L637.6 897.6L639.0 906.6L644.3 907.1L642.8 915.6L646.4 915.9L647.3 919.2L647.1 922.7L644.3 925.8L640.9 928.0L637.1 930.7L633.8 934.4L628.6 941.1L632.4 940.5L636.2 944.4L638.3 945.0L642.8 948.1L646.6 951.8L649.5 955.2L648.5 961.1L664.7 962.6L688.5 923.3L721.8 906.8L731.3 858.6L750.3 811.4L721.8 785.3L683.7 772.3L669.5 761.9Z" fill="#3a6bac"/>
<path d="M567.9 876.4L572.0 871.9L574.4 879.3L577.0 882.0L576.7 887.9L578.2 893.3L579.8 900.3L582.9 900.3L583.9 901.4L582.2 906.8L577.7 909.6L576.5 913.9L577.2 918.9L577.7 923.3L573.9 927.7L571.0 931.6L569.6 936.0L570.1 941.6L567.0 947.8L569.1 954.0L569.6 958.6L570.6 963.7L567.7 969.4L567.7 974.6L564.4 978.1L564.4 983.9L565.3 989.2L562.5 994.5L561.0 999.9L560.6 1006.5L561.3 1012.5L559.6 1017.3L562.0 1021.6L562.5 1027.1L563.4 1031.5L561.3 1037.1L558.7 1042.7L557.7 1049.7L553.4 1054.8L553.0 1060.5L555.3 1064.4L558.7 1065.7L558.2 1070.3L560.1 1072.2L569.6 1072.2L577.0 1074.4L577.7 1075.2L576.3 1076.2L576.3 1091.6L584.8 1093.6L586.2 1101.1L560.1 1099.0L536.3 1072.2L536.3 997.5L555.3 912.3L564.8 874.5Z" fill="#3a6bac"/>
<path d="M839.8 633.3L861.2 633.3L861.2 627.5L868.7 622.6L876.3 620.9L881.5 617.0L885.3 615.3L888.2 610.8L896.3 608.5L896.5 606.3L894.4 601.7L894.6 597.1L892.0 591.4L891.5 588.5L881.1 588.5L875.8 586.5L872.5 586.8L869.2 594.9L859.7 600.6L852.5 614.7L852.5 623.1L845.4 628.1L838.3 629.8Z" fill="#3a6bac"/>
<path d="M892.0 591.4L894.6 597.1L894.4 601.7L896.5 606.3L896.3 608.5L888.2 610.8L885.3 615.3L881.5 617.0L876.3 620.9L868.7 622.6L861.2 627.5L861.2 635.3L879.5 648.0L907.9 669.1L908.2 671.3L911.0 673.5L917.7 676.1L918.1 680.4L922.7 679.6L930.0 678.0L938.1 670.5L959.4 656.1L957.4 651.8L951.2 650.2L947.2 641.7L949.5 639.8L949.3 629.8L949.8 624.8L947.6 619.2L945.5 608.5L942.2 606.3L938.1 598.9L939.3 596.6L941.7 594.0L941.7 587.4L943.3 580.7L943.3 577.5L916.7 576.9L897.7 583.3L892.5 589.1Z" fill="#3a6bac"/>
<path d="M1021.3 664.3L1077.9 664.3L1082.2 664.3L1084.1 675.1L1083.1 682.6L1086.0 685.8L1078.4 691.1L1075.8 700.9L1076.3 705.7L1075.8 709.1L1074.1 713.8L1069.4 718.6L1068.4 723.3L1065.6 724.9L1063.6 730.6L1060.3 724.4L1059.8 716.5L1055.1 717.5L1056.5 719.1L1049.9 729.3L1045.1 726.5L1039.4 731.2L1035.1 730.1L1028.5 730.6L1021.3 726.5L1020.9 729.1L1017.5 734.8L1014.7 734.6L1014.7 728.5L1011.3 723.3L1009.2 722.8L1006.4 714.4L1007.5 712.3L1009.4 706.5L1011.3 699.1L1016.6 698.0L1016.6 677.7L1016.6 675.1L1021.3 675.1Z" fill="#3a6bac"/>
<path d="M1017.5 734.8L1020.9 729.1L1021.3 726.5L1028.5 730.6L1035.1 730.1L1039.4 731.2L1045.1 726.5L1049.9 729.3L1056.5 719.1L1055.1 717.5L1059.8 716.5L1060.3 724.4L1063.6 730.6L1064.6 735.4L1063.9 736.1L1059.4 739.5L1067.5 745.3L1070.3 752.1L1073.4 756.2L1064.1 758.3L1061.7 760.6L1055.6 761.4L1050.8 760.4L1049.1 761.9L1042.7 756.0L1037.5 757.8L1033.0 753.9L1032.7 751.0L1028.0 745.5L1022.3 739.3Z" fill="#3a6bac"/>
<path d="M1076.3 705.7L1075.8 700.9L1078.4 691.1L1086.0 685.8L1090.3 684.2L1095.0 696.4L1102.2 704.3L1108.8 712.3L1107.5 713.8L1104.1 714.9L1097.4 708.0L1093.6 704.6L1087.9 703.8L1082.7 702.2Z" fill="#3a6bac"/>
<path d="M1108.1 720.4L1106.7 722.9L1109.8 731.4L1111.7 733.5L1125.9 738.5L1130.7 738.5L1116.2 754.7L1110.2 754.9L1102.2 759.3L1101.7 759.6L1097.3 765.6L1097.3 784.6L1100.2 788.8L1102.2 791.6L1121.2 773.9L1137.8 754.1L1145.0 733.3L1149.7 728.0L1149.7 714.9L1135.4 717.5L1116.4 720.2L1109.8 718.6Z" fill="#3a6bac"/>
<path d="M980.8 932.2L985.2 932.7L989.0 933.8L992.8 934.1L997.6 931.0L997.6 910.9L1000.9 917.2L1000.9 922.5L1005.6 922.5L1009.9 917.8L1011.8 913.9L1018.0 916.4L1023.7 916.1L1024.2 915.9L1028.0 910.4L1030.4 904.9L1035.4 901.1L1037.0 899.2L1042.0 897.1L1046.5 897.9L1051.3 898.2L1052.5 904.1L1054.4 909.0L1054.6 916.1L1054.5 917.5L1051.8 916.1L1048.9 920.0L1048.9 922.2L1051.3 924.9L1054.6 922.5L1058.9 922.5L1061.7 923.3L1059.4 937.1L1045.1 956.9L1026.1 968.3L997.6 972.9L983.3 962.6L976.2 934.4Z" fill="#3a6bac"/>
<path d="M1030.8 937.7L1034.2 933.8L1038.9 932.1L1042.3 935.5L1041.1 939.4L1037.5 940.8L1036.1 943.6L1032.7 941.6Z" fill="#f0f0f0"/>
<path d="M887.7 753.6L889.1 751.0L887.2 744.8L890.6 737.4L889.4 731.2L889.1 722.8L901.7 722.3L902.5 724.9L904.4 728.0L904.6 734.3L905.3 737.4L905.1 741.6L905.8 744.8L908.2 748.4L908.2 751.5L897.7 757.8L887.7 756.2Z" fill="#3a6bac"/>
<path d="M910.2 747.7L910.1 743.7L910.3 733.3L908.9 728.0L906.7 723.3L906.7 722.8L909.1 720.4L912.0 720.4L913.9 716.2L916.0 715.4L919.6 719.1L920.8 724.9L919.6 728.0L915.8 733.0L915.5 739.5L915.3 747.0L915.3 750.0L910.2 750.0Z" fill="#80c896"/>
<path d="M943.1 756.2L944.8 751.0L946.7 747.4L951.0 744.2L955.2 746.3L958.6 743.2L960.5 736.4L963.3 734.3L965.2 730.1L968.1 722.8L971.9 720.2L970.0 715.4L969.5 711.8L973.3 715.2L974.3 718.6L974.0 723.8L976.2 728.3L970.0 728.1L968.8 730.1L974.7 735.9L976.2 741.1L971.9 747.9L971.4 752.6L974.3 758.8L979.0 765.3L979.5 768.7L979.0 771.3L971.4 769.0L965.7 768.7L956.4 768.2L956.2 768.9L949.1 767.9L946.7 767.1L945.2 760.4L941.9 758.3Z" fill="#80c896"/>
<path d="M847.8 744.1L851.1 740.6L853.5 736.1L857.3 736.4L858.2 740.6L861.6 740.6L863.0 740.8L862.3 746.3L866.6 750.5L866.8 754.7L866.6 757.4L866.3 760.4L854.9 754.1L845.4 746.3Z" fill="#3a6bac"/>
<path d="M822.1 711.9L827.3 711.5L829.2 710.4L833.0 710.7L836.8 710.4L836.8 709.4L833.0 708.8L830.7 707.9L828.8 709.1L822.1 709.1Z" fill="#3a6bac"/>
<path d="M1040.4 794.4L1044.6 792.4L1047.5 792.6L1049.1 797.0L1045.1 802.5L1042.3 803.3L1041.5 798.9Z" fill="#3a6bac"/>
<path d="M1059.1 829.1L1064.1 829.6L1066.7 835.4L1067.2 840.7L1066.0 843.8L1066.7 850.1L1069.4 851.7L1072.9 857.0L1072.7 863.3L1070.3 865.5L1070.1 869.7L1066.5 865.5L1066.0 861.2L1066.7 856.5L1062.2 856.2L1057.9 851.4L1059.4 845.9L1061.0 840.7L1060.3 836.5L1062.2 833.3Z" fill="#d13600"/>
<path d="M1017.3 390.0L1014.9 386.4L1016.1 382.5L1014.7 377.4L1013.7 373.4L1007.1 369.0L1000.2 364.5L1003.7 362.6L1009.0 367.4L1016.1 366.2L1021.3 367.8L1024.9 363.4L1026.1 359.3L1035.1 356.2L1040.1 364.6L1037.7 369.0L1044.6 375.4L1040.8 381.7L1045.6 391.0L1043.9 397.9L1047.7 403.2L1045.1 405.8L1052.5 412.2L1040.3 424.6L1034.6 429.3L1030.8 431.8L1011.8 436.1L1004.7 434.0L999.9 429.7L1001.4 411.4L1009.4 401.7L1016.6 394.1Z" fill="#3a6bac"/>
<path d="M914.6 494.0L917.4 496.0L922.2 501.0L925.5 500.1L925.5 502.3L930.0 503.9L932.7 504.4L934.6 506.5L938.6 507.1L941.6 507.6L939.5 510.0L938.4 513.2L938.6 516.4L935.7 518.2L931.5 523.8L931.0 525.4L934.8 523.8L936.0 526.8L935.0 527.6L936.2 531.0L934.1 531.9L935.7 534.4L935.3 536.5L938.8 537.8L938.3 540.0L938.1 542.9L926.2 546.0L919.1 546.6L917.5 548.2L914.3 548.7L910.8 548.1L909.3 547.2L905.8 546.0L899.1 545.7L895.8 544.5L894.0 542.5L890.6 541.1L890.6 526.3L876.3 517.0L876.3 507.4L890.6 505.5L891.5 500.4L902.5 499.7L908.6 497.8L910.5 494.6Z" fill="#80c896"/>
<path d="M943.6 468.7L947.4 469.4L951.0 471.1L956.2 471.4L961.9 471.1L967.6 469.4L970.2 475.3L970.9 479.4L969.7 482.4L972.1 484.4L972.6 487.6L971.9 489.3L973.9 492.9L973.0 495.4L970.5 494.2L964.3 498.1L960.5 499.1L961.9 501.7L962.6 504.6L968.1 508.9L966.4 510.3L963.1 513.2L964.3 514.7L964.5 517.0L960.5 516.3L954.8 517.6L952.1 516.6L948.1 516.6L943.1 515.1L938.6 516.4L938.4 513.2L939.5 510.0L941.6 507.6L938.6 507.1L934.6 506.5L932.7 504.4L933.4 502.3L931.6 500.2L932.9 498.8L931.1 496.2L930.7 494.2L931.9 492.0L930.8 489.1L934.8 488.2L936.0 486.4L934.3 484.1L936.0 483.8L936.7 479.4L935.3 476.4L941.4 474.1L941.4 468.7Z" fill="#d13600"/>
<path d="M918.5 492.2L922.7 492.1L925.8 491.6L926.5 491.5L930.3 493.6L929.3 495.5L929.6 496.2L931.1 496.2L930.7 494.2L931.9 492.0L930.8 489.1L934.8 488.2L936.0 486.4L934.3 484.1L936.0 483.8L936.7 479.4L935.3 476.4L926.2 477.4L922.9 482.1L918.1 490.7Z" fill="#80c896"/>
<path d="M914.6 494.0L917.4 496.0L922.2 501.0L925.5 500.1L925.5 502.3L930.0 503.9L929.8 502.0L931.6 500.2L932.9 498.8L931.1 496.2L929.6 496.2L929.3 495.5L930.3 493.6L926.5 491.5L925.8 491.6L922.7 492.1L918.5 492.2L917.7 490.7L913.9 492.6Z" fill="#3a6bac"/>
<path d="M930.0 503.9L932.7 504.4L933.4 502.3L931.6 500.2L929.8 502.0Z" fill="#f0f0f0"/>
<path d="M1002.5 460.8L1007.5 458.4L1020.9 458.4L1021.8 459.9L1028.9 463.4L1029.9 466.0L1025.1 468.7L1023.9 472.8L1018.5 475.4L1014.2 475.1L1010.9 472.4L1009.9 467.7L1003.7 466.4L1000.9 466.0L1000.9 461.2Z" fill="#80c896"/>
<path d="M998.8 525.6L1003.3 523.8L1007.1 516.3L1011.3 513.8L1020.9 515.6L1028.9 512.2L1033.2 517.0L1036.1 520.7L1036.5 529.6L1043.7 531.3L1046.1 532.5L1042.7 539.3L1038.4 540.2L1032.1 537.9L1024.2 540.8L1016.6 540.4L1011.1 539.6L1010.3 537.3L1009.2 534.4L1004.2 533.9L1004.9 531.6L1001.4 527.9Z" fill="#80c896"/>
<path d="M1038.4 540.2L1032.1 537.9L1024.2 540.8L1016.6 540.4L1011.1 539.6L1010.3 537.3L1009.0 539.9L1011.6 544.2L1008.7 549.0L1011.6 554.7L1019.0 553.5L1022.8 555.3L1027.7 552.6L1028.9 551.1L1032.3 550.2L1035.8 550.9L1038.4 550.8L1040.3 544.8Z" fill="#d13600"/>
<path d="M994.6 551.7L995.7 547.5L997.9 547.5L1000.4 551.6L999.7 553.8L1001.1 557.4L1002.3 557.7L1000.9 562.2L999.0 564.0L997.6 564.6L996.1 564.3L992.8 560.4L993.3 552.0Z" fill="#80c896"/>
<path d="M990.2 548.1L990.7 546.9L990.2 544.8L991.4 543.2L993.8 541.7L999.2 545.7L997.9 547.5L995.7 547.5L994.6 551.7L992.8 552.0L989.5 549.0Z" fill="#80c896"/>
<path d="M1092.7 542.3L1096.0 541.4L1104.5 543.6L1110.7 546.3L1116.0 546.3L1119.8 547.8L1123.3 551.4L1124.5 555.0L1122.1 553.2L1116.4 555.3L1109.1 556.2L1106.0 553.3L1104.5 554.1L1100.0 553.7L1098.4 553.2L1098.4 549.6L1091.7 543.6Z" fill="#80c896"/>
<path d="M1317.8 506.8L1319.9 506.4L1325.2 513.2L1330.4 515.1L1334.7 520.7L1334.7 531.3L1347.0 532.8L1356.1 537.1L1360.8 546.3L1375.6 547.5L1386.5 547.8L1401.5 553.2L1411.2 552.0L1422.2 548.1L1434.1 540.5L1434.8 532.2L1442.6 534.1L1453.1 529.4L1456.9 524.5L1460.7 522.9L1472.6 522.0L1471.6 519.2L1465.9 514.1L1462.6 513.8L1453.1 514.4L1451.7 512.8L1457.4 502.0L1462.6 504.2L1469.7 498.8L1473.5 490.3L1476.4 484.4L1473.5 483.1L1478.8 479.4L1490.2 477.8L1500.2 481.1L1506.1 492.3L1509.0 499.4L1509.2 502.3L1516.3 504.9L1523.5 508.4L1525.1 515.7L1532.7 515.7L1543.2 511.6L1540.3 518.2L1535.3 531.9L1529.4 530.7L1525.4 533.1L1526.3 541.7L1523.5 548.1L1520.1 544.8L1515.8 550.2L1511.3 550.8L1505.9 552.3L1501.6 557.4L1494.0 562.5L1492.1 566.9L1487.3 574.6L1492.1 586.2L1489.7 620.3L1477.8 645.2L1468.3 658.9L1444.5 669.7L1432.6 672.4L1428.4 671.3L1426.5 674.5L1423.1 672.4L1420.8 669.7L1416.0 666.7L1409.8 664.3L1409.3 659.4L1403.4 657.2L1400.8 659.7L1396.7 661.6L1388.2 662.1L1386.3 668.9L1383.4 666.7L1378.0 665.9L1374.2 663.5L1375.8 659.1L1372.7 657.8L1372.5 652.9L1366.3 653.7L1367.0 647.7L1371.8 643.1L1371.8 633.7L1365.4 630.1L1359.9 623.7L1356.1 625.6L1350.9 625.1L1345.6 629.3L1340.4 632.6L1338.3 632.6L1331.8 630.1L1325.6 634.2L1325.2 635.3L1324.5 631.2L1321.6 632.0L1313.8 631.5L1307.1 627.9L1302.4 624.5L1292.8 618.4L1287.6 619.2L1279.1 612.8L1276.9 609.7L1275.2 606.0L1280.5 604.8L1277.9 601.4L1279.1 595.4L1273.3 589.1L1272.4 589.1L1264.5 587.1L1260.7 580.7L1256.9 580.1L1258.6 579.0L1258.6 571.9L1253.4 571.1L1252.7 566.0L1253.8 563.4L1258.4 559.8L1263.8 560.4L1268.1 556.8L1275.2 554.4L1284.0 550.5L1284.0 549.6L1284.8 544.5L1282.4 533.1L1286.7 531.6L1293.8 529.1L1297.1 518.8L1309.0 519.8L1310.4 511.3Z" fill="#3a6bac"/>
<path d="M1136.4 524.2L1133.1 522.3L1130.9 515.4L1126.9 515.1L1123.6 510.9L1126.2 506.5L1125.0 505.2L1132.1 501.7L1134.3 497.2L1144.0 489.7L1151.1 489.7L1156.4 491.3L1162.1 494.6L1167.3 497.5L1173.5 494.2L1181.1 494.2L1187.3 496.5L1194.4 495.9L1187.8 488.7L1192.5 485.4L1191.6 482.1L1193.5 479.4L1195.4 474.8L1202.5 473.8L1212.5 472.4L1226.7 468.0L1239.1 466.0L1240.5 473.4L1251.9 474.8L1256.2 478.1L1266.2 473.4L1272.9 479.4L1283.3 495.9L1289.5 495.9L1299.0 494.6L1308.1 503.6L1315.2 502.3L1317.8 506.8L1310.4 511.3L1309.0 519.8L1297.1 518.8L1293.8 529.1L1286.7 531.6L1282.4 533.1L1284.8 544.5L1284.0 549.6L1279.1 546.0L1262.9 545.1L1255.3 543.6L1251.9 548.1L1241.0 546.0L1239.8 549.3L1236.0 551.7L1230.8 554.7L1228.9 557.1L1228.6 559.2L1226.3 558.6L1225.6 555.9L1219.6 555.9L1216.3 550.8L1216.8 548.7L1215.3 545.4L1211.1 540.3L1203.0 541.1L1197.3 541.7L1193.0 536.5L1181.0 529.0L1168.7 532.5L1168.7 555.0L1163.7 551.7L1158.7 549.0L1151.9 552.3L1145.0 547.8L1140.2 535.6L1142.6 526.3Z" fill="#3a6bac"/>
<path d="M1168.7 555.0L1168.7 532.5L1181.0 529.0L1193.0 536.5L1197.3 541.7L1203.0 541.1L1211.1 540.3L1215.3 545.4L1216.8 548.7L1216.3 550.8L1219.6 555.9L1225.6 555.9L1226.3 558.6L1228.6 559.2L1228.9 557.1L1230.8 554.7L1236.0 551.7L1239.8 549.3L1241.0 549.6L1236.3 553.8L1242.9 555.0L1245.8 556.5L1250.0 557.7L1243.4 561.9L1238.2 561.3L1237.2 557.4L1232.0 558.3L1232.0 561.3L1228.6 562.2L1228.2 565.4L1224.4 565.2L1225.8 569.3L1227.7 573.4L1226.3 574.6L1224.8 579.3L1218.9 578.4L1214.4 573.1L1207.7 569.0L1199.6 562.8L1196.8 556.2L1188.2 554.4L1187.8 549.6L1181.1 546.0L1173.5 551.4L1174.0 555.0Z" fill="#3a6bac"/>
<path d="M1226.7 655.1L1229.6 651.8L1235.3 652.3L1240.5 649.6L1238.6 644.1L1235.8 639.2L1232.9 638.4L1237.2 631.5L1244.3 631.7L1249.1 625.9L1251.5 620.6L1256.2 615.3L1257.2 609.7L1260.7 607.4L1257.4 604.8L1254.3 602.3L1254.1 597.7L1253.8 594.0L1256.2 593.1L1262.9 594.6L1268.1 593.7L1272.4 589.1L1273.3 589.1L1279.1 595.4L1277.9 601.4L1280.5 604.8L1275.2 606.0L1276.9 609.7L1279.1 612.8L1287.6 619.2L1283.3 627.0L1288.6 629.5L1298.5 635.1L1305.0 635.1L1310.4 639.2L1321.4 640.3L1321.6 632.0L1324.5 631.2L1325.2 635.3L1324.7 637.8L1329.5 638.7L1340.4 637.8L1340.4 634.5L1338.3 632.6L1340.4 632.6L1345.6 629.3L1350.9 625.1L1356.1 625.6L1359.9 623.7L1365.4 630.1L1364.4 636.4L1359.6 635.6L1354.9 642.2L1352.3 649.6L1350.1 654.3L1346.3 652.9L1346.6 658.3L1345.4 663.2L1342.8 664.4L1341.3 655.1L1339.0 658.3L1337.1 658.3L1335.9 655.3L1338.0 652.9L1340.4 651.3L1342.3 648.5L1339.9 646.9L1329.7 646.3L1329.5 642.5L1325.9 640.6L1323.3 640.0L1321.4 643.1L1323.0 644.4L1325.2 646.9L1321.1 649.6L1321.4 650.4L1323.5 651.8L1324.5 657.5L1325.2 659.4L1326.1 666.2L1320.9 669.7L1311.4 680.4L1287.6 709.6L1286.7 722.8L1281.0 725.4L1280.2 731.2L1278.1 735.9L1273.3 741.1L1263.8 735.9L1244.8 701.7L1242.4 674.0L1225.8 664.3Z" fill="#80c896"/>
<path d="M1326.1 666.2L1325.2 659.4L1324.5 657.5L1323.5 651.8L1321.4 650.4L1321.1 649.6L1325.2 646.9L1323.0 644.4L1321.4 643.1L1323.3 640.0L1325.9 640.6L1329.5 642.5L1329.7 646.3L1339.9 646.9L1342.3 648.5L1340.4 651.3L1338.0 652.9L1335.9 655.3L1337.1 658.3L1339.0 658.3L1341.3 655.1L1342.8 664.4L1341.3 671.0L1337.5 672.4L1330.4 669.7Z" fill="#3a6bac"/>
<path d="M1416.0 666.7L1409.8 664.3L1409.3 659.4L1403.4 657.2L1400.8 659.7L1396.7 661.6L1388.2 662.1L1392.2 669.1L1397.2 670.0L1399.8 672.9L1397.0 676.9L1402.7 682.3L1409.1 691.4L1413.1 697.7L1413.9 703.3L1413.9 715.7L1405.8 719.6L1407.4 723.8L1402.2 723.0L1399.1 725.9L1397.0 730.6L1401.7 739.5L1416.0 730.6L1427.9 717.5L1425.5 696.4L1413.6 683.1L1413.6 672.4L1418.4 668.6Z" fill="#3a6bac"/>
<path d="M1378.4 746.6L1379.1 745.3L1383.2 750.5L1383.2 747.6L1386.5 750.2L1387.9 747.6L1392.2 746.3L1399.4 759.3L1401.7 773.9L1396.0 774.4L1384.6 766.1L1375.6 754.1Z" fill="#3a6bac"/>
<path d="M1520.6 777.5L1572.9 785.3L1572.9 832.3L1549.1 829.6L1525.4 806.1L1520.6 790.5Z" fill="#3a6bac"/>
<path d="M1487.3 835.4L1488.7 827.0L1494.5 826.5L1496.8 826.8L1497.3 829.4L1494.0 829.6L1492.6 828.9L1492.1 830.2L1494.2 833.8Z" fill="#3a6bac"/>
<path d="M1130.5 620.3L1127.6 619.9L1123.8 625.4L1128.1 625.9L1129.3 628.5L1132.8 628.7L1135.0 627.6L1133.5 621.5Z" fill="#3a6bac"/>
<path d="M1144.0 649.3L1145.4 650.7L1146.4 650.4L1149.2 650.7L1149.7 645.2L1145.9 639.8L1143.5 642.5L1143.3 646.3Z" fill="#3a6bac"/>
<path d="M1147.8 652.9L1147.8 653.4L1152.6 659.1L1164.7 660.8L1164.9 660.5L1167.8 653.4L1168.7 652.9L1167.8 648.5L1169.0 648.3L1170.4 648.3L1172.1 646.3L1171.1 644.4L1170.2 644.7L1169.4 644.1L1169.0 642.2L1166.4 642.5L1154.5 648.0L1148.8 650.7Z" fill="#3a6bac"/>
</g>
<g stroke="#2a2a2a" stroke-width="0.7" stroke-linejoin="round">
<path d="M167.3 452.3L172.6 455.4L178.7 450.9L178.3 446.0L174.0 446.4L169.2 449.5Z" fill="#d13600"/>
<path d="M262.9 447.4L270.0 460.6L274.8 468.0L270.0 469.4L265.3 461.9L259.1 455.1L254.3 448.1L258.2 446.0Z" fill="#d13600"/>
<path d="M106.5 431.8L112.2 434.7L115.0 432.6L112.2 430.0Z" fill="#d13600"/>
<path d="M118.4 470.7L126.0 469.7L125.5 468.0L119.8 468.4Z" fill="#d13600"/>
<path d="M105.0 479.4L111.7 476.8L111.7 474.4L107.4 475.8Z" fill="#d13600"/>
<path d="M98.9 482.4L104.6 479.4L103.1 477.8L98.9 480.1Z" fill="#d13600"/>
<path d="M1782.1 487.7L1786.9 487.7L1786.4 485.7L1782.6 486.1Z" fill="#d13600"/>
<path d="M1772.6 490.0L1775.5 490.0L1775.0 488.0L1773.1 488.4Z" fill="#d13600"/>
<path d="M1751.2 490.7L1756.0 492.3L1755.5 491.3L1752.2 490.0Z" fill="#d13600"/>
<path d="M1722.7 482.4L1727.0 482.8L1726.5 481.4L1723.2 481.4Z" fill="#d13600"/>
<path d="M160.4 676.4L161.4 680.2L162.6 680.7L166.1 677.7L164.5 675.3L161.4 673.7Z" fill="#d13600"/>
<path d="M157.3 670.2L159.2 671.8L160.7 671.3L159.2 669.7Z" fill="#d13600"/>
<path d="M150.0 666.7L150.7 668.1L152.6 668.1L151.6 665.9Z" fill="#d13600"/>
<path d="M142.8 663.7L144.3 664.9L145.0 663.5L143.8 663.0Z" fill="#d13600"/>
<path d="M154.5 669.1L157.1 669.4L157.1 668.6L154.7 668.6Z" fill="#d13600"/>
<path d="M93.2 410.3L99.8 409.9L96.5 408.1L93.2 406.6Z" fill="#d13600"/>
<path d="M1797.8 408.8L1804.7 410.3L1804.7 406.6L1798.3 406.2Z" fill="#d13600"/>
<path d="M498.5 665.1L501.6 662.1L507.8 658.9L510.6 658.1L514.9 658.3L522.1 659.1L529.2 662.1L535.4 665.9L542.5 669.1L549.9 673.7L544.9 675.6L542.0 675.3L533.0 675.9L535.8 672.6L531.6 671.3L528.2 666.7L522.1 665.6L519.9 664.0L516.3 663.2L512.5 662.1L511.1 660.8L506.4 663.2L503.0 664.6L500.7 665.6Z" fill="#3a6bac"/>
<path d="M561.3 676.7L566.3 676.1L570.1 676.9L573.4 678.8L571.5 680.2L577.5 682.6L574.6 683.6L570.1 683.4L567.2 684.7L564.4 684.7L562.9 687.9L561.3 685.5L560.1 682.6L561.8 679.9Z" fill="#80c896"/>
<path d="M549.6 1017.3L553.0 1017.3L553.4 1009.5L550.1 1008.3Z" fill="#3a6bac"/>
<path d="M943.3 548.4L947.2 544.8L947.9 550.2L946.2 554.4L943.3 551.4Z" fill="#80c896"/>
<path d="M1419.1 679.4L1423.6 675.3L1428.4 674.5L1430.3 677.2L1427.6 682.0L1423.1 684.7L1419.3 683.1Z" fill="#3a6bac"/>
<path d="M1420.8 772.3L1423.6 769.7L1431.2 772.3L1432.2 766.1L1439.8 763.5L1446.0 756.2L1451.7 751.5L1457.4 744.2L1461.6 746.3L1469.3 752.6L1464.0 757.8L1462.1 761.4L1463.5 768.2L1468.3 774.9L1463.1 776.0L1461.2 784.3L1456.9 787.9L1455.9 794.7L1454.0 799.4L1447.9 801.5L1444.5 797.8L1439.8 796.8L1434.5 798.3L1426.5 795.2L1426.0 788.5L1421.2 782.7L1421.7 778.1Z" fill="#3a6bac"/>
<path d="M1355.6 751.0L1366.1 752.8L1369.9 758.3L1378.0 766.1L1382.2 769.2L1392.7 777.0L1396.0 779.6L1394.6 785.3L1399.4 789.5L1406.5 795.7L1406.0 802.0L1405.5 810.3L1399.8 810.3L1398.4 807.2L1388.9 800.9L1382.7 793.7L1379.9 784.8L1373.7 778.6L1371.8 771.3L1364.6 763.5L1356.6 755.2Z" fill="#3a6bac"/>
<path d="M1402.7 815.5L1407.0 810.8L1411.2 811.1L1417.9 814.5L1427.9 816.1L1430.3 813.4L1437.9 816.1L1446.4 820.2L1446.4 824.9L1438.3 823.9L1430.3 823.1L1419.3 820.2L1408.9 818.7Z" fill="#3a6bac"/>
<path d="M1472.1 776.5L1477.3 773.4L1488.7 775.2L1496.4 771.6L1497.8 772.9L1493.0 778.1L1480.2 777.8L1474.0 779.9L1473.5 784.3L1479.2 785.1L1488.7 783.5L1489.2 785.3L1482.1 789.8L1486.4 796.8L1486.4 803.0L1483.0 804.1L1480.7 800.9L1477.3 794.2L1475.0 796.3L1475.0 808.8L1470.7 808.8L1471.2 798.3L1467.3 794.7L1469.7 786.9L1472.1 780.1Z" fill="#3a6bac"/>
<path d="M1446.9 822.6L1452.6 823.6L1449.8 826.0Z" fill="#3a6bac"/>
<path d="M1454.0 823.9L1457.4 823.9L1456.4 826.5L1454.0 826.2Z" fill="#3a6bac"/>
<path d="M1457.8 824.9L1463.1 822.3L1468.8 823.1L1468.3 825.7L1463.1 826.5L1457.8 827.3Z" fill="#3a6bac"/>
<path d="M1472.1 824.4L1477.8 823.9L1486.8 822.3L1486.4 824.9L1477.8 826.8L1472.6 826.0Z" fill="#3a6bac"/>
<path d="M1468.3 829.6L1474.0 828.9L1476.9 832.3L1473.1 833.8L1468.8 831.2Z" fill="#3a6bac"/>
<path d="M1508.7 774.9L1511.1 769.0L1510.6 773.4L1514.4 772.3L1512.0 776.2L1514.9 778.6L1510.6 777.8L1512.5 784.3L1509.7 780.1Z" fill="#3a6bac"/>
<path d="M1511.1 796.8L1518.2 794.7L1524.4 796.8L1520.1 798.1L1511.6 798.1Z" fill="#3a6bac"/>
<path d="M1501.6 796.8L1506.8 796.5L1506.8 799.6L1502.5 799.9Z" fill="#3a6bac"/>
<path d="M1402.7 790.0L1407.4 787.9L1409.8 795.2L1406.0 794.2Z" fill="#3a6bac"/>
<path d="M1364.2 772.9L1368.0 777.0L1366.5 775.5Z" fill="#3a6bac"/>
<path d="M1371.3 785.3L1374.6 789.0L1373.2 788.5Z" fill="#3a6bac"/>
<path d="M1568.4 553.8L1572.4 552.3L1573.9 547.8L1582.4 550.8L1587.2 545.1L1594.3 542.9L1592.9 537.4L1584.8 536.8L1577.2 529.4L1576.2 535.6L1574.3 542.9L1570.1 543.6L1567.7 547.8Z" fill="#80c896"/>
<path d="M1524.9 597.7L1527.7 593.7L1533.0 589.7L1539.6 588.8L1545.8 588.5L1549.1 586.2L1552.5 581.6L1555.3 577.5L1553.4 580.1L1556.3 581.6L1561.5 578.1L1565.8 572.8L1568.2 563.4L1568.2 559.2L1569.6 555.6L1572.9 554.1L1574.8 554.7L1575.3 559.8L1577.7 565.2L1575.8 572.2L1572.9 574.0L1572.4 581.0L1571.0 586.2L1572.0 588.0L1569.6 590.8L1567.2 592.3L1567.2 588.5L1564.4 590.3L1562.4 594.0L1560.1 594.0L1555.3 594.3L1553.4 596.0L1550.6 600.6L1547.7 600.6L1544.9 598.3L1546.3 594.3L1542.0 593.4L1537.2 595.1L1532.0 596.0L1529.2 598.0L1525.4 598.0Z" fill="#80c896"/>
<path d="M1531.8 600.9L1534.4 597.1L1539.6 595.7L1543.0 596.6L1543.0 598.9L1540.6 601.7L1536.3 601.1L1534.6 604.8Z" fill="#80c896"/>
<path d="M1519.2 601.7L1522.5 600.0L1525.4 598.3L1528.7 600.0L1529.6 604.0L1527.3 612.5L1523.9 614.4L1521.6 613.0L1521.6 608.0L1519.7 605.1Z" fill="#80c896"/>
<path d="M1509.4 642.0L1512.5 637.8L1511.1 639.8Z" fill="#80c896"/>
<path d="M1559.6 575.5L1561.3 572.8L1561.0 574.9Z" fill="#80c896"/>
<path d="M1516.8 596.6L1518.2 593.7L1517.5 596.0Z" fill="#80c896"/>
<path d="M1445.0 756.2L1447.4 759.3L1449.8 757.5L1450.9 754.7L1448.8 753.9Z" fill="#f0f0f0"/>
<path d="M507.3 664.8L509.7 664.8L509.7 667.0L507.8 667.0Z" fill="#3a6bac"/>
<path d="M547.3 1021.0L551.1 1020.4L551.5 1025.3L549.6 1030.2L547.7 1033.9L544.9 1033.3L546.3 1028.4L545.8 1024.7Z" fill="#3a6bac"/>
</g>
<path clip-path="url(#lc)" d="M563.3 718.1L557.7 723.3L555.8 728.0L555.3 732.2L558.2 736.4L557.7 739.0L560.1 743.7L569.1 743.7L572.5 748.4L581.7 747.9L580.1 752.6L579.8 756.7L582.4 762.5L579.8 765.6L582.9 768.2L584.6 773.8M617.2 735.4L613.8 741.1L611.9 745.3L610.5 749.2L613.6 753.1M630.7 748.9L630.0 752.6L627.1 756.2L630.0 763.0L633.8 770.0M645.7 750.0L643.5 754.1L643.8 759.3L645.7 762.2L642.8 768.0M527.5 772.6L532.5 776.0L536.3 778.6L539.6 778.1L544.4 780.7M544.4 780.7L548.7 785.3L553.0 789.0L555.8 792.6L561.0 791.6L569.4 794.4L566.3 799.9L569.8 802.1M520.4 797.8L520.6 800.9L524.4 803.5L526.8 806.1L529.7 797.8L532.5 795.7L538.2 793.7L543.2 788.2L544.4 780.7M571.6 837.2L575.8 845.4L574.8 851.2L574.4 855.4L572.7 857.5L573.4 860.2L571.5 862.3L574.6 864.9L574.4 867.1L571.5 870.8L572.0 871.9M464.0 704.3L464.0 700.1L466.4 696.0L472.4 696.0L467.6 689.8L469.8 689.8L469.8 686.7L478.5 686.7M478.5 686.7L478.3 696.9L479.7 697.2M478.5 686.7L480.0 686.3L482.6 683.1M477.6 704.8L474.0 708.6M534.7 734.8L535.4 738.7L532.0 742.7M561.3 676.7L561.8 679.9L560.1 682.6L561.3 685.5M821.4 670.9L821.9 667.9L840.6 667.9L840.6 658.9L845.4 656.4L845.4 642.5L861.2 642.5L861.2 635.3M879.5 648.0L871.2 648.0L877.1 694.7L875.8 699.1L858.2 699.1L850.6 701.2L847.8 698.5L844.3 703.0M824.0 696.0L831.1 693.0L835.9 694.8L839.2 698.5L844.3 703.0M844.3 703.0L845.4 708.0L848.2 715.4M823.0 715.8L830.2 713.9L837.3 713.9M837.3 713.9L840.4 714.9L844.0 715.7L848.2 715.4M837.3 713.9L837.3 719.1L832.6 720.2L830.9 723.0M848.2 715.4L851.6 718.1L856.3 717.3L859.7 715.4L863.0 722.3L864.6 727.1M839.2 733.0L843.0 728.5L849.2 728.0L852.1 732.7L853.5 736.1M864.6 727.1L863.5 733.3L865.8 736.4L863.0 740.8M864.6 727.1L873.0 724.4L876.3 725.7M876.3 725.7L880.6 729.6L887.2 728.5L889.4 731.2M876.3 725.7L876.5 718.6L881.5 713.8L883.6 710.2L888.2 708.6L892.9 705.9L898.9 701.4L903.5 702.0M903.5 702.0L908.6 700.1L919.1 699.8L922.7 693.2L922.7 679.6M903.5 702.0L903.4 707.0L907.2 712.3L912.4 713.8L913.9 716.2M901.7 722.3L906.7 722.8M919.6 719.1L919.8 714.9L922.0 709.6L928.6 707.5L935.3 712.3L939.5 710.7L945.2 713.3L953.3 710.4L961.9 711.7L967.1 708.6M959.4 656.1L970.0 661.0L973.8 658.9M973.8 658.9L1016.6 677.7M973.8 658.9L976.6 675.1L976.2 691.6L970.9 698.0L966.6 704.9L967.1 708.6L969.5 711.8M976.2 741.1L980.4 740.1L986.6 738.7L990.9 738.0L993.3 733.3L999.5 732.7L1005.6 724.9L1011.3 723.3M979.5 768.7L981.4 761.9L990.9 761.9M990.9 761.9L990.9 757.5L995.2 753.6L1000.4 757.3L1009.0 758.8L1011.3 755.2L1018.5 753.6L1022.8 754.1L1033.0 753.9M955.2 800.7L958.6 798.9L959.0 792.1L961.9 792.4L970.9 790.0L971.4 783.3L968.5 778.6L970.5 772.9L965.7 773.6L965.7 768.7M948.1 774.9L956.4 774.9L956.4 768.2M990.9 761.9L988.5 768.7L987.1 778.6L986.6 783.3L979.5 791.6L978.5 798.3L974.7 802.5L970.9 805.6L966.2 805.4L963.3 803.0L959.5 806.1M963.3 803.0L964.7 804.3L961.9 810.1L960.5 810.1M961.2 811.9L964.3 810.6L981.4 810.8L983.1 817.6L986.1 822.3L994.5 821.8L995.2 816.6L999.0 816.6L1000.4 816.1L1006.1 818.1L1006.6 824.4L1006.1 829.6L1008.5 834.4L1008.0 838.6L1016.3 837.0M1016.3 837.0L1016.6 848.0L1007.1 848.0L1007.1 864.9L1013.7 872.4M1016.3 837.0L1022.8 838.6L1023.0 840.9L1030.4 842.5L1032.7 844.9L1037.5 845.4L1040.3 850.1L1044.2 850.4L1044.2 843.5L1040.3 844.9L1037.3 842.2L1038.7 835.9L1038.4 828.6L1039.9 824.4L1048.7 822.8M1048.7 822.8L1042.3 811.4L1042.3 803.3M1041.5 798.9L1040.4 794.4L1040.3 789.0L1043.2 787.4L1043.2 782.7L1044.9 776.0L1046.1 773.9L1051.3 769.0L1049.1 761.9M1047.5 792.6L1049.1 788.7L1047.5 785.6L1043.2 787.4M1047.5 785.6L1048.7 785.3L1063.6 785.3L1081.2 795.7L1082.0 798.6L1088.9 804.5M1063.6 785.3L1063.9 779.1L1066.5 774.4L1068.9 770.3L1066.0 763.0L1064.1 758.3M1073.4 756.2L1077.9 757.0L1083.6 761.4L1090.3 762.2L1096.5 758.0L1101.7 759.6M1104.1 714.9L1101.0 720.2L1101.2 722.8L1106.7 722.9M1094.8 834.7L1085.5 839.6L1078.4 840.7L1072.7 840.1L1068.6 840.5M1059.1 829.1L1049.9 824.9L1048.7 822.8M1059.4 853.6L1052.2 856.5L1046.1 858.3L1047.0 862.0M1047.0 862.0L1039.9 863.6L1030.8 874.2L1022.5 873.4M1047.0 862.0L1051.3 863.9L1059.1 867.6L1059.1 877.2L1057.9 879.9L1059.4 884.1L1057.0 892.2L1051.3 898.2M1022.5 873.4L1022.8 877.2L1027.0 882.5L1034.2 887.9L1035.6 893.8L1042.0 897.1M1022.5 873.4L1018.5 874.5L1013.2 874.5L1002.3 876.1L1002.3 896.0L997.6 896.0L997.6 910.9M958.4 870.5L964.3 869.2L969.0 871.3L989.9 871.3L1004.2 874.5L1013.7 872.4L1019.0 871.9L1022.5 873.4M1022.0 611.6L1020.6 617.5L1021.3 624.8L1021.3 664.3M957.4 602.5L957.1 606.8L951.4 610.8L951.0 616.4L947.6 619.2M1054.5 917.5L1055.2 922.4M955.3 439.7L958.6 434.7L961.9 431.8L960.9 426.1L963.8 423.5L960.5 417.0L959.8 409.2L968.5 403.9L969.5 400.5L967.4 399.4L971.4 394.1L971.9 387.9L976.2 386.4L980.4 379.3L979.0 377.0L984.2 372.2L988.5 369.0L997.1 370.2L999.0 366.6L1000.2 364.5M1040.1 364.6L1045.6 360.1L1049.1 358.5M1035.8 437.1L1035.1 438.3L1032.7 441.8L1033.2 448.1L1032.5 450.6M1018.2 448.3L1024.2 447.1L1028.5 450.9L1032.5 450.6M1032.5 450.6L1034.9 452.3L1036.3 460.2M1036.3 460.2L1033.7 462.6L1028.9 463.4M1036.3 460.2L1049.4 464.0L1049.6 469.4L1053.7 476.1L1057.9 478.4L1051.8 480.1L1053.7 487.4M1053.7 487.4L1048.0 492.6L1038.4 491.3L1031.8 490.7L1022.3 488.4L1014.7 491.3M1014.7 491.3L1014.9 487.4L1012.8 486.4L1016.1 483.4L1014.2 475.1M995.9 471.8L1010.9 472.4M1014.7 491.3L1017.1 495.5L1014.2 498.5L1010.2 503.9L1009.7 506.9M1009.7 506.9L1005.2 504.6L998.0 506.2L995.2 503.6L992.1 504.1M992.1 504.1L988.0 500.7L982.8 498.1L980.0 496.8L975.2 494.6L973.0 495.4M992.1 504.1L987.6 508.1L983.1 509.9M983.1 509.9L973.8 507.4L968.1 508.9M983.1 509.9L984.0 513.8M984.0 513.8L991.8 515.1L999.9 510.3L1007.8 511.3M1007.8 511.3L1009.7 506.9M1007.8 511.3L1011.3 513.8M984.0 513.8L980.9 520.1L979.0 520.9M979.0 520.9L971.6 523.8L967.6 523.1M967.6 523.1L961.4 522.0L960.2 520.1L954.8 521.5L952.1 520.9M952.1 520.9L948.1 519.8L948.1 516.6M952.1 520.9L950.7 524.8L946.7 523.5L945.2 527.3L942.6 523.5L939.8 526.8L936.0 526.8M967.6 523.1L966.2 525.1L967.1 527.6L967.8 528.8M967.1 529.6L971.9 529.4L975.2 529.6L977.1 525.1L981.4 523.3L979.0 520.9M981.4 523.3L986.4 527.3L992.3 526.8M992.3 526.8L998.8 525.6M992.3 526.8L993.0 531.3L992.8 533.3M992.8 533.3L983.3 531.3L977.6 531.3L977.3 533.8L980.9 538.7L986.1 544.8L990.2 547.5M992.8 533.3L994.5 533.1L993.3 536.8L995.7 538.7L993.8 541.7M999.2 545.7L1001.4 543.2L1005.9 546.6L1004.9 549.3L1000.4 551.6M1004.9 549.3L1008.7 549.0M1002.2 557.7L1006.1 557.2L1011.6 554.7M1026.3 558.6L1027.7 555.3L1027.7 552.6M1029.1 512.1L1033.7 510.9L1041.1 514.1L1044.9 521.3L1045.6 523.8L1040.1 523.5L1036.5 529.6M1053.7 487.4L1063.2 485.7L1071.7 494.6L1071.3 498.5L1083.1 501.7L1093.4 503.6L1091.7 508.7L1092.2 514.7L1084.6 516.3L1084.1 519.5M860.3 551.6L863.5 550.2L871.1 551.1L873.0 553.2L869.6 556.8L869.6 561.6L869.2 564.6L866.8 564.9L869.2 568.7L867.7 572.2L869.2 573.4L866.8 577.5L867.3 579.4M867.7 467.7L864.9 470.1L863.7 471.8L867.7 474.1L872.5 474.4M1073.4 586.5L1076.7 584.8L1076.5 581.6L1078.9 582.5L1083.1 581.3L1088.9 582.5L1096.5 579.8L1103.8 579.8M1103.8 579.8L1112.6 580.4L1115.5 579.5M1115.5 579.5L1114.5 576.0L1112.6 572.8L1113.8 566.3L1115.5 564.6M1115.5 564.6L1110.0 561.9L1109.1 556.2M1116.4 555.3L1119.0 558.3L1120.9 561.3L1123.6 565.7L1123.8 569.5M1123.8 569.5L1121.2 569.5L1116.4 566.3L1115.5 564.6M1123.3 551.4L1127.4 555.3L1130.2 555.6L1133.5 551.7M1135.0 571.9L1130.7 569.6L1132.4 566.6L1129.7 564.9L1123.8 569.5M1103.8 579.8L1098.6 583.9L1099.3 588.5L1097.4 595.4L1086.9 601.3M1086.9 601.3L1077.4 607.4L1072.4 605.0M1086.9 601.3L1088.9 608.2M1088.9 608.2L1078.4 611.9L1083.1 617.5L1080.8 620.3L1077.2 621.2L1074.1 624.8L1068.6 624.0M1068.9 623.0L1070.8 611.9L1071.5 606.8L1072.4 605.0M1069.4 602.9L1072.9 601.7M1072.9 601.7L1076.5 596.6L1075.5 594.3L1073.5 594.0M1088.9 608.2L1094.6 609.4L1102.6 614.2L1115.0 624.8L1123.1 625.6L1123.8 625.4M1133.3 620.6L1130.7 617.8L1129.3 614.7L1130.0 610.2L1121.7 603.4L1118.3 598.0L1119.8 594.6L1122.1 591.4L1118.3 586.2L1115.5 579.5M1106.0 694.3L1107.9 689.0L1113.6 689.0L1122.8 689.8L1125.9 691.4L1131.6 684.7L1135.9 682.6L1149.7 680.4M1149.7 680.4L1164.0 675.1L1167.1 664.3L1164.9 660.5M1149.7 680.4L1154.9 693.0M1158.7 578.4L1163.0 577.8L1168.7 574.0L1174.9 573.4L1180.1 576.6L1184.4 577.5L1189.2 582.5L1193.2 582.5L1193.5 588.5M1193.5 588.5L1190.6 596.0L1190.1 599.7L1192.0 600.6L1190.4 603.7L1191.8 611.9L1195.8 612.5L1196.3 615.6L1191.8 621.2M1191.8 621.2L1196.3 627.6L1201.1 630.1L1200.8 635.3L1203.0 638.4L1196.6 641.4L1195.4 646.9M1191.8 621.2L1199.6 624.0L1207.3 623.7L1217.7 621.2L1218.2 615.3L1224.8 612.5L1232.0 609.7L1232.0 602.9L1236.7 601.4L1235.1 597.7L1240.5 597.1L1243.2 589.7L1241.0 585.9L1247.2 581.6L1256.9 580.1M1193.5 588.5L1198.7 590.5L1202.5 587.1L1209.2 584.5L1210.6 579.8L1218.9 578.4M1224.8 579.3L1232.0 579.8L1236.3 576.9L1236.3 574.9L1241.5 572.8L1242.9 582.2L1251.0 577.8L1258.6 579.0M1252.7 566.0L1244.8 566.6L1238.2 565.2L1232.9 565.4M1319.9 506.4L1329.0 501.7L1341.8 495.9L1350.9 497.5L1365.1 502.6L1369.9 497.8L1368.4 491.6L1373.2 487.7L1388.4 492.3L1388.9 497.2L1403.6 498.1L1409.8 499.1L1418.8 505.2L1429.3 506.5L1439.3 503.6L1446.0 499.2L1457.4 502.0M1502.1 576.0L1506.8 572.8L1513.0 571.1M1371.1 728.0L1373.2 722.8L1376.1 718.6L1373.9 711.2L1369.4 701.2L1371.3 696.1L1367.5 687.9L1365.6 683.1L1368.4 676.4L1378.4 673.2M1378.4 673.2L1383.4 666.7M1378.4 673.2L1380.6 677.7L1383.7 677.5L1382.7 686.8L1387.9 684.7L1392.0 686.0L1396.7 684.2L1400.5 688.4L1400.8 694.3L1404.6 698.3L1404.1 704.9L1402.7 705.4M1402.7 705.4L1392.2 705.7L1389.8 709.1L1389.1 709.4L1391.0 715.2L1391.7 719.4M1402.7 705.4L1406.5 705.1L1413.9 703.3M1423.8 769.5L1423.4 774.9L1427.9 775.7L1434.1 774.9L1436.0 772.6L1442.9 773.6L1447.1 772.6L1448.6 768.4L1449.8 765.3L1451.9 763.8L1452.1 758.3L1454.3 757.8L1461.6 758.5" fill="none" stroke="#2a2a2a" stroke-width="0.6" stroke-linejoin="round"/>
<path clip-path="url(#lc)" d="M927.0 445.4L929.6 436.9M926.3 443.0L928.0 435.4M924.5 437.6L928.8 438.0M921.8 437.9L935.1 434.4M926.5 435.4L929.7 432.6M922.8 431.7L932.8 432.4M925.2 432.0L928.6 428.0M923.0 430.9L929.1 429.2M922.4 427.0L931.1 426.5M922.1 427.8L928.4 423.6M921.2 425.4L929.0 418.6M923.7 416.9L931.5 422.3M924.8 415.7L928.8 422.8M929.8 412.0L925.9 423.4M924.3 416.3L932.3 417.6M928.5 412.1L928.8 416.6M927.0 415.0L934.7 417.0M931.0 412.5L937.0 417.1M933.5 413.2L938.0 415.3M934.1 409.3L936.1 414.8M934.1 404.9L939.3 417.4M931.7 410.8L944.5 412.1M937.9 408.0L943.5 412.8M938.4 407.0L943.7 407.7M938.9 406.5L943.6 406.5M942.5 400.7L942.4 410.4M937.5 403.2L948.1 409.6M943.7 404.9L947.4 406.8M945.2 405.4L947.9 407.3M944.2 405.4L952.6 402.9M948.5 402.0L955.4 402.9M950.2 399.5L954.7 402.6M954.9 393.8L956.4 405.8M953.8 396.4L956.4 398.4M955.6 393.4L955.9 401.3M957.2 395.0L962.0 397.5M954.4 387.7L962.0 398.1M955.3 394.6L965.4 392.6M959.9 390.1L964.2 392.6M960.1 388.4L967.0 391.0M962.3 385.4L966.9 384.8M965.0 379.0L964.9 389.2M960.5 381.8L974.0 379.6M963.4 378.0L973.8 385.1M964.8 376.7L974.1 378.7M970.4 372.6L971.4 379.4M966.9 373.5L978.2 380.2M969.7 375.0L977.4 373.5M969.8 370.2L979.5 375.4M969.6 368.7L978.9 375.6M970.0 369.4L981.4 371.0M973.9 367.3L981.2 373.7M974.9 365.5L981.5 371.5M980.3 360.6L981.4 373.9M980.2 366.0L984.5 366.4M975.8 363.1L986.2 363.0M982.9 356.5L987.1 365.8M988.1 356.9L985.5 363.8M985.2 359.5L992.0 363.2M984.5 354.7L992.2 362.5M986.9 358.0L993.3 359.6M991.4 352.9L989.2 366.4M992.6 353.4L991.7 359.3M994.6 355.7L993.3 361.4M996.8 355.0L996.7 359.0M991.3 353.2L1003.3 359.0M992.2 353.5L1002.8 360.2M1001.6 353.0L998.5 358.1M1000.0 352.8L1003.9 355.7M999.1 349.4L1005.3 358.9M1003.9 352.0L1005.4 354.8M1002.2 352.0L1008.6 357.1M1004.0 350.7L1007.8 358.3M1009.0 345.9L1009.0 359.7M1011.6 349.1L1012.2 356.6M1010.8 347.7L1010.8 353.5M1013.1 347.2L1010.8 357.3M1012.7 347.9L1015.0 352.0M1017.4 347.1L1013.8 355.3M1018.1 347.4L1020.0 349.8M1019.7 346.2L1019.7 349.2M1018.8 347.2L1021.2 349.4M1022.4 343.2L1021.8 354.5M1025.0 346.5L1026.3 353.0M1022.5 344.9L1031.4 353.2M1030.3 347.4L1027.9 351.2M1033.9 344.4L1027.6 354.8M1034.8 346.5L1032.9 351.7M1036.9 344.4L1030.0 350.5M1036.6 348.2L1035.9 351.2M1040.5 344.8L1037.3 354.6M1038.6 346.7L1041.6 351.8M1042.8 348.5L1039.9 355.1M1045.9 347.9L1039.8 356.0M1044.9 348.9L1040.0 353.0M1044.0 346.0L1043.8 356.4M1049.6 349.2L1046.0 356.5M557.8 1013.9L549.5 1001.2M554.7 1014.3L549.7 1007.0M556.1 1010.5L546.3 1014.6M557.9 1010.5L546.1 1017.4M559.7 1012.6L545.9 1017.6M553.4 1016.2L546.6 1014.8M551.6 1017.5L549.7 1015.1M554.5 1023.3L548.5 1012.6M557.1 1021.8L541.2 1020.2M550.6 1022.9L547.0 1023.3M551.4 1025.2L545.2 1026.8M551.5 1032.3L543.8 1020.0M551.3 1034.3L545.7 1025.9M552.3 1034.9L544.5 1026.6M550.1 1032.3L541.4 1035.1M547.0 1037.7L544.8 1031.7M547.7 1036.6L542.6 1035.7M547.1 1039.5L541.7 1037.5M546.5 1037.6L543.0 1039.8M548.4 1038.5L538.9 1042.9M550.5 1042.9L540.8 1044.4M551.6 1041.3L537.2 1047.4M548.2 1046.9L542.3 1049.8M549.0 1054.0L539.9 1043.3M549.9 1052.8L536.5 1046.8M552.3 1050.5L537.4 1052.7M547.5 1056.0L543.5 1057.7M550.6 1059.4L539.5 1056.8M548.4 1053.7L541.2 1064.7M548.5 1059.8L544.4 1062.1M547.1 1061.2L544.6 1064.2M550.3 1060.3L541.8 1067.0M553.1 1066.4L538.6 1066.1M550.6 1069.3L540.5 1062.5M549.5 1068.6L541.1 1067.9M548.9 1069.9L546.3 1072.2M552.0 1067.2L542.5 1076.7M550.9 1068.4L543.7 1080.0M552.2 1068.2L544.5 1081.5M553.4 1070.4L545.5 1079.0M553.8 1069.9L548.0 1084.4M558.4 1077.0L544.0 1078.8M556.8 1078.5L554.6 1083.5M560.2 1077.9L553.4 1082.0M556.3 1078.3L557.4 1084.8M558.1 1081.2L557.4 1088.9M560.9 1080.3L562.7 1089.3M566.1 1078.2L560.8 1091.9M564.5 1086.8L561.4 1088.5M571.3 1082.8L558.2 1089.5M566.6 1087.2L561.7 1091.4M564.5 1082.4L567.6 1094.8M568.3 1089.1L569.6 1095.0M572.2 1087.5L572.3 1096.1M579.2 1088.6L568.6 1095.5M576.0 1090.8L575.1 1097.9M577.3 1091.5L573.0 1095.9M576.3 1087.3L576.2 1103.1M580.5 1093.2L582.3 1097.0M312.2 506.6L316.2 499.0M311.7 504.6L315.0 502.2M308.2 505.6L311.9 496.7M308.7 504.8L308.7 493.9M306.0 502.5L308.7 498.2M306.7 502.7L305.5 495.5M305.5 500.4L303.9 494.9M297.9 501.4L305.2 492.8M301.6 499.6L302.7 489.7M296.0 495.5L299.4 492.0M293.4 493.9L301.7 490.8M294.0 491.8L298.5 490.8M294.4 492.1L297.6 490.5M294.0 490.0L297.7 488.9M294.3 490.1L297.7 485.4M291.2 488.5L295.9 483.6M290.1 484.1L294.7 482.6M290.0 483.6L296.6 482.7M290.4 484.5L290.3 476.5M287.5 480.2L293.1 477.2M285.4 478.4L289.3 479.0M287.0 480.4L288.6 476.6M286.0 480.6L287.7 469.4M283.4 474.0L287.9 473.9M277.0 471.4L287.5 471.5M281.1 472.8L283.6 469.6M282.2 475.2L282.5 467.2M278.1 473.4L279.6 465.1M276.6 469.3L282.1 463.1M277.2 466.4L279.4 464.1M272.4 465.7L279.4 464.1M275.1 465.2L276.2 458.5M274.6 466.4L274.7 457.7M273.3 463.0L276.0 460.8M271.3 466.3L273.3 455.7M267.7 455.2L274.9 456.8M264.4 454.6L275.7 453.2M265.9 459.9L269.3 449.4M263.5 454.9L272.6 448.2M264.5 452.8L266.4 450.1M259.0 453.3L269.5 449.8M260.7 451.5L265.7 447.7M260.7 448.7L264.5 447.8M258.3 447.0L263.3 445.1M255.4 445.8L261.8 442.9M256.4 449.6L255.0 440.9M254.9 445.6L254.8 442.6M251.7 447.3L253.0 439.8M249.1 443.1L250.8 440.3M689.0 437.3L689.4 427.9M686.7 434.3L688.9 430.4M686.7 434.5L684.8 424.7M685.1 430.7L685.5 427.6M680.0 430.6L685.7 425.1M681.0 432.4L678.2 424.0M676.7 425.7L679.4 424.0M678.6 429.0L678.2 419.3M676.1 428.4L675.6 422.0M668.1 427.5L677.3 421.8M671.6 428.7L676.4 418.6M670.5 422.6L670.6 419.1M665.7 424.1L675.5 419.5M666.4 423.1L671.0 419.4M667.3 418.0L670.5 417.9M660.1 418.0L671.3 418.8M664.1 421.9L668.9 409.8M660.5 414.8L668.6 415.9M659.3 418.2L666.6 410.1M658.8 411.7L662.2 409.8M656.2 409.0L662.6 411.1M653.8 409.1L663.7 408.0M656.6 407.7L663.3 405.7M657.1 413.0L661.2 401.1M657.3 404.3L659.6 400.7M651.7 404.8L663.5 402.2M652.1 400.1L657.4 400.0M653.1 400.8L656.8 396.0M649.8 395.9L657.8 398.8M650.3 396.7L656.6 392.0M649.1 395.4L654.0 393.3M651.3 393.8L653.3 389.0M648.1 390.0L656.2 387.5M644.0 391.2L654.3 384.8M647.2 389.7L654.8 382.0M645.0 390.1L651.0 380.1M646.2 384.9L652.6 381.1M645.0 382.4L649.2 379.1M643.5 378.2L656.2 377.9M644.3 373.2L653.3 380.1M643.3 376.5L654.5 371.4M644.8 370.9L656.2 371.9M647.3 368.1L650.8 372.5M648.9 369.9L653.6 369.4M647.6 367.6L654.2 367.1M646.9 368.0L660.3 365.5M649.8 361.5L655.2 371.2M650.3 364.2L655.5 363.3M650.7 356.9L655.9 366.1M651.2 361.0L657.7 357.3M649.6 361.4L659.0 355.2M645.4 358.0L656.9 357.7M648.0 357.9L655.1 354.3M646.0 357.5L653.6 348.7M642.8 354.5L650.9 348.9M644.9 356.2L649.6 347.1M643.6 347.8L646.9 348.9M639.4 346.4L647.8 348.7M639.9 346.2L648.4 345.1M640.2 342.3L645.3 343.8M638.8 348.7L643.9 335.8M638.3 340.3L640.7 338.3M637.6 341.1L641.8 336.9M637.5 339.6L642.3 337.2M635.5 339.5L639.9 328.9M632.0 337.6L641.5 327.8M632.8 330.8L640.7 332.9M632.7 327.2L639.3 329.2M631.6 329.3L637.2 324.0M631.0 328.2L635.3 324.5M629.0 324.2L639.2 323.6M627.6 320.5L640.6 320.5M629.2 321.5L632.1 320.4M631.4 321.2L633.5 317.6M628.0 320.4L631.0 316.8M625.0 314.2L634.6 315.3M622.0 315.4L634.2 314.5M623.5 313.3L631.2 312.1M693.5 430.8L701.6 428.3M694.6 426.7L702.6 429.4M698.1 422.5L702.8 429.1M696.7 426.0L704.3 426.9M698.2 422.5L701.0 424.3M701.9 416.1L704.2 424.4M700.4 414.0L707.1 421.3M700.3 415.5L708.4 418.8M699.0 414.0L707.7 416.6M700.5 413.2L708.7 415.5M701.5 409.5L710.3 417.2M701.9 407.0L710.2 412.6M706.6 408.7L709.8 410.4M704.7 401.5L708.6 410.4M705.8 403.4L713.9 408.9M708.4 401.5L712.4 405.1M708.1 402.6L712.9 401.0M709.2 398.9L714.7 403.3M709.7 398.0L716.0 397.8M713.0 395.6L711.9 399.0M713.5 390.2L712.7 399.5M713.5 389.7L719.5 397.1M719.1 392.0L721.6 395.3M718.4 391.4L721.4 392.0M715.7 391.0L727.4 395.3M718.0 388.5L726.9 395.0M725.9 386.2L724.2 397.0M722.3 385.3L729.2 396.6M726.6 390.0L729.7 390.6M725.6 383.6L733.6 391.2M727.6 386.9L734.3 389.0M726.2 385.0L736.8 390.2M731.5 383.7L735.8 389.6M735.5 383.2L737.7 389.0M734.1 381.9L741.6 388.0M737.3 380.6L743.5 385.2M738.6 375.9L743.6 387.7M739.5 376.4L746.0 380.5M740.0 379.0L752.0 381.0M742.9 374.4L753.3 381.2M746.1 374.0L754.1 378.4M751.4 374.2L749.0 379.2M751.4 373.2L755.7 377.1M750.9 371.5L761.2 377.3M759.0 368.2L754.1 379.9M757.1 371.8L761.1 375.1M760.4 368.7L761.9 376.0M763.2 367.8L759.4 373.8M760.2 369.8L767.9 375.4M767.2 364.4L760.5 375.1M768.0 366.1L766.6 373.6M771.7 368.2L768.9 373.2M768.2 367.5L771.3 369.2M776.7 362.8L770.6 374.4M768.3 364.4L779.8 371.6M777.9 363.7L773.0 372.8M780.2 360.2L773.3 372.3M773.3 360.7L780.5 371.4M778.0 361.8L779.2 371.9M780.6 357.0L781.1 370.4M783.4 361.9L783.5 366.1M783.6 359.7L786.0 363.9M780.5 361.7L791.1 363.8M781.2 359.2L792.4 366.4M790.3 357.6L792.6 361.0M785.5 358.6L797.5 358.9M790.3 356.4L793.8 355.7M790.9 351.5L794.2 356.4M789.8 350.0L793.9 355.3M786.7 356.6L798.7 349.9M790.8 352.6L798.6 349.9M786.1 348.7L800.0 347.9M789.2 346.6L801.8 344.2M794.4 343.4L796.0 346.1M789.8 346.0L799.1 338.0M792.7 338.8L796.0 343.1M791.9 340.3L797.0 341.3M791.0 339.6L796.9 338.5M790.9 336.1L799.6 339.6M788.2 338.3L798.5 334.6M789.7 331.4L801.0 336.7M786.5 335.3L798.8 332.5M790.7 333.1L795.0 331.1M789.9 328.5L797.7 327.4M786.2 325.8L797.8 330.5M787.4 326.5L799.8 328.4M793.5 321.5L798.4 329.0M796.5 322.9L800.3 324.4M794.0 321.0L804.4 323.3M795.9 319.1L800.1 326.8M799.6 320.8L800.4 324.2M800.4 319.5L804.1 321.7M802.7 317.5L802.6 322.1M801.4 315.9L806.5 321.0M799.4 317.0L812.6 314.5M800.8 313.8L808.2 311.5M800.7 308.8L811.1 315.4M803.0 308.9L807.1 313.0M803.5 307.3L807.3 307.5M803.1 299.6L804.8 311.0M805.3 299.1L809.1 311.3M806.0 300.2L809.7 304.9M805.5 301.4L814.1 302.5M805.9 298.3L815.8 300.6M808.1 298.6L813.0 302.0M809.1 296.5L813.6 296.1M808.6 298.2L814.1 291.1M809.3 293.0L814.5 293.6M807.1 290.9L815.2 291.2M806.6 289.0L813.8 288.0M806.7 285.6L811.7 288.2M807.9 282.7L812.6 286.8M805.5 280.0L812.3 283.7M807.2 282.9L812.4 281.4M808.3 277.7L815.1 278.6M809.9 274.6L814.6 281.9M808.1 273.8L818.9 278.1M814.3 270.7L815.7 273.4M813.3 269.0L817.0 275.6M815.1 267.3L821.2 272.5M815.8 264.8L822.6 270.9M819.3 264.0L819.4 272.5M816.0 264.4L824.9 267.1M816.8 262.9L826.8 270.0M821.7 258.2L830.8 267.5M820.6 258.0L828.5 268.5M592.3 264.6L598.4 269.4M590.0 264.1L599.0 267.5M593.6 261.4L598.9 263.7M597.3 260.1L597.9 266.5M595.7 261.0L602.0 263.4M598.5 253.9L599.2 262.7M597.3 254.9L602.2 262.1M601.1 254.9L606.2 255.0M602.2 249.9L603.1 257.0M603.9 253.1L609.4 255.3M604.3 252.8L609.2 254.3M607.2 250.6L612.4 254.6M609.2 247.1L612.2 256.6M609.5 247.3L616.5 251.9M611.9 245.1L614.7 253.4M613.4 246.8L621.3 249.5M616.6 247.1L620.6 249.8M618.6 246.2L622.3 251.1M618.5 244.2L620.6 253.7M618.5 244.6L627.3 248.2M624.8 245.0L623.7 250.0M626.8 244.3L629.4 249.5M631.5 242.5L627.5 247.5M631.3 242.5L632.4 246.7M632.4 243.2L636.7 248.3M633.9 240.8L639.4 247.7M637.0 242.5L638.7 246.8M638.0 241.8L642.7 248.3M638.6 244.2L642.4 249.0M643.4 240.6L645.5 248.4M649.0 242.4L644.3 246.9M647.5 242.2L645.8 246.7M647.9 241.9L651.1 248.4M652.0 241.0L651.8 247.8M654.1 241.9L652.2 248.6M651.2 240.6L656.1 248.1M653.9 242.6L656.1 248.7M655.4 243.1L657.6 246.3M661.8 241.3L656.9 248.2M662.7 242.3L664.3 245.1M664.0 240.4L666.0 247.8M664.6 241.9L667.3 248.8M668.2 241.6L665.8 249.2M666.5 241.0L669.6 245.0M670.0 241.2L669.4 245.4M672.1 241.7L675.3 246.8M677.2 238.1L673.2 245.6M676.0 242.6L675.7 245.9M674.8 240.1L680.4 247.7M678.5 239.4L681.0 247.3M684.6 239.0L680.8 243.6M685.4 240.1L685.5 246.3M685.5 237.1L687.6 246.3M688.6 235.9L687.6 244.5M689.0 239.2L689.0 246.0M688.1 238.3L689.9 242.4M690.9 238.7L690.7 243.3M694.8 237.5L692.1 242.2M695.8 235.9L696.5 241.2M694.5 237.3L700.2 242.4M699.7 237.5L698.4 241.1M698.2 236.0L702.5 238.5M700.7 236.1L704.9 239.2M702.3 235.5L704.9 237.1M708.0 230.5L706.6 240.3M706.5 234.1L708.0 238.2M708.9 233.3L708.8 240.7M711.4 233.2L713.6 235.5M714.2 231.3L718.9 237.2M720.9 229.5L717.4 237.7M720.8 231.1L718.4 235.7M723.0 231.7L720.9 235.8M725.0 230.9L721.5 238.0M726.6 231.7L727.1 235.8M727.8 230.3L726.9 234.3M727.9 230.3L732.8 233.9M733.2 227.8L728.9 235.7M733.0 229.1L731.8 235.6M734.8 228.3L733.1 236.9M735.2 228.5L736.6 235.3M736.4 228.2L738.9 233.9M745.6 229.5L739.0 236.7M744.9 226.9L743.4 234.0M744.5 229.3L745.5 236.7M745.7 226.6L748.7 233.8M746.4 228.9L746.8 235.9M749.7 230.5L749.7 234.3M749.9 228.7L754.5 236.5M750.5 229.7L752.3 235.9M752.0 230.4L755.4 236.1M753.5 230.6L757.0 235.6M760.2 232.9L757.9 235.9M764.1 230.9L760.1 235.1M765.5 233.0L763.0 236.2M763.7 232.4L763.9 235.5M767.8 231.9L764.7 237.1M771.2 232.1L768.6 241.2M770.4 232.5L771.4 240.8M774.8 231.1L775.3 239.2M772.5 233.7L774.9 240.2M777.6 236.9L774.6 240.6M779.4 237.4L777.5 240.7M777.9 236.0L779.3 242.7M780.6 234.3L783.1 243.0M785.1 240.0L782.2 241.2M787.3 238.1L779.9 242.5M786.7 239.5L783.1 243.9M787.3 238.0L785.8 246.9M787.6 237.0L788.9 246.2M790.4 238.8L789.7 245.0M607.2 383.8L611.0 379.1M608.9 385.8L607.7 381.7M604.6 382.8L607.3 378.2M603.4 381.8L606.6 381.3M600.3 382.5L607.7 378.1M596.2 380.1L605.8 374.9M595.7 378.8L603.9 373.7M596.3 377.6L597.4 374.2M593.9 379.2L596.7 373.6M593.9 375.3L593.4 372.2M590.5 375.2L593.8 370.6M589.1 376.5L590.5 367.1M586.7 372.3L594.6 369.7M584.2 371.7L590.2 370.5M582.2 370.7L591.9 365.2M583.2 368.8L585.7 364.0M581.2 369.2L585.5 362.0M577.6 363.3L589.3 362.5M577.8 362.4L583.8 363.5M576.0 363.3L586.9 360.3M576.9 361.0L583.3 359.3M577.7 357.3L580.4 355.1M575.5 356.6L580.5 354.8M570.6 357.8L581.5 353.0M576.0 355.1L578.5 352.3M574.6 353.4L580.1 349.5M572.4 355.4L577.6 348.8M570.5 354.1L577.3 347.0M567.1 352.4L573.9 350.1M570.1 352.6L569.3 349.7M567.5 355.8L569.2 344.0M568.2 349.2L566.3 345.4M566.3 353.9L564.2 342.6M558.5 350.3L566.7 342.6M559.8 347.5L566.8 344.8M559.2 350.0L560.8 344.3M558.8 350.1L555.1 342.1M556.1 346.5L559.0 340.5M555.9 347.0L555.1 341.8M553.4 347.5L551.5 337.8M550.8 348.2L549.4 340.2M550.8 348.3L550.0 338.5M545.2 342.3L549.5 341.0M542.7 344.5L549.9 336.2M541.2 341.8L550.7 336.7M544.3 342.0L545.0 338.8M541.7 337.2L545.9 336.1M537.8 337.1L540.8 334.8M534.8 338.5L546.0 334.9M536.0 337.3L538.6 335.2M535.9 335.7L535.5 332.6M636.3 485.3L640.2 484.9M632.9 487.7L639.1 482.4M631.0 482.5L640.4 481.7M632.5 479.9L639.2 484.6M636.2 481.9L635.2 475.4M636.0 482.3L634.4 474.6M629.3 480.3L637.7 475.1M631.2 478.5L633.1 472.9M628.2 475.9L630.1 472.4M627.9 478.7L630.8 472.0M626.4 476.3L627.8 467.5M625.1 470.7L630.1 468.8M623.6 468.8L626.6 469.1M620.9 469.0L625.4 467.9M619.9 468.9L624.1 465.0M619.4 470.7L620.3 463.3M616.8 470.6L617.0 461.3M615.8 467.0L617.6 462.8M611.5 466.4L618.2 460.9M610.2 466.2L615.4 460.8M613.3 464.7L613.4 459.0M611.1 460.2L612.1 455.5M606.9 460.9L611.6 456.9M607.9 458.9L613.9 456.7M606.8 453.8L612.3 454.1M605.1 454.3L609.9 451.3M606.0 454.0L608.1 450.3M603.4 452.3L610.0 446.4M605.3 451.8L609.5 447.5M603.7 447.3L607.7 443.4M600.2 446.4L608.1 443.0M601.2 443.7L605.5 444.1M600.3 442.2L605.2 440.3M599.5 442.1L604.7 438.4M595.4 439.9L600.7 436.6M595.1 435.2L601.1 436.4M593.5 436.0L601.5 434.4M591.4 434.9L599.1 431.6M530.1 292.9L531.6 296.3M529.4 295.8L537.0 294.2M531.8 289.3L535.3 294.0M535.7 290.4L536.9 294.2M535.5 286.0L536.0 290.9M534.9 284.6L537.1 291.2M533.0 284.6L541.8 286.8M538.4 284.3L541.7 284.5M536.7 281.5L542.6 285.3M541.2 277.8L542.7 284.6M539.9 279.3L543.1 283.5M541.7 276.0L545.1 283.9M540.3 277.5L547.4 283.3M540.1 278.8L549.2 278.5M546.0 272.9L546.2 279.8M546.2 273.9L548.6 278.4M549.4 271.3L549.6 275.7M548.3 271.5L548.1 277.4M550.7 272.0L553.6 273.7M549.9 270.8L553.2 274.0M550.1 268.4L558.3 273.0M557.8 263.9L556.7 273.7M556.0 266.5L556.8 271.0M558.3 265.1L558.5 271.2M556.2 266.2L564.6 270.4M563.3 264.5L567.2 268.2M563.0 265.3L568.9 267.9M566.6 263.7L570.3 265.2M567.0 261.8L574.5 267.5M573.7 259.6L570.1 266.2M568.4 259.9L574.0 265.8M570.9 260.3L577.0 263.6M574.1 259.9L574.9 266.1M575.5 258.6L575.6 262.5M577.0 258.7L577.0 262.9M581.5 255.9L578.7 264.6M580.3 257.2L578.8 260.8M581.8 256.5L583.2 260.4M582.1 256.7L586.5 260.6M585.7 254.8L583.4 260.9M585.2 255.2L587.9 263.2M586.4 257.0L590.9 258.6M586.3 253.9L594.0 259.0M590.0 251.0L593.6 258.6M589.9 249.1L594.1 258.1M594.6 251.5L594.9 256.9M591.4 253.2L600.9 253.9M593.9 248.1L601.0 251.9M596.4 248.9L600.5 250.2M601.4 246.5L599.0 254.7M602.7 244.8L601.8 253.0M601.4 249.3L604.6 247.6M596.5 245.8L604.1 244.6M593.2 247.0L602.4 245.0M596.0 246.9L600.1 242.5M594.9 248.4L596.9 238.9M590.6 240.9L599.0 239.7M593.0 242.9L593.2 236.7M587.7 243.4L594.0 238.6M586.4 242.7L594.0 236.7M585.1 240.8L588.5 236.7M589.3 241.2L584.7 236.8M583.9 242.6L583.3 235.4M583.3 241.4L581.6 232.7M581.6 240.3L578.9 232.8M581.8 241.8L577.3 235.4M580.4 241.2L577.2 232.0M574.0 243.1L576.5 234.1M573.9 243.6L574.8 233.7M573.7 237.7L574.1 234.7M571.4 238.9L574.2 235.0M566.4 239.6L570.8 234.7M568.7 239.7L570.0 236.4M566.5 241.8L565.1 234.3M561.7 240.9L565.3 232.3M564.5 241.1L558.7 234.5M556.5 240.1L561.7 233.9M558.6 239.6L552.7 231.9M553.3 238.2L553.7 234.9M555.2 240.5L552.0 232.8M548.5 238.5L554.2 233.6M546.5 238.6L552.4 233.2M545.5 239.6L546.6 230.9M543.8 239.7L544.1 230.6M544.2 236.9L543.1 233.7M539.4 239.1L542.6 236.2M542.0 238.2L540.1 232.5M538.6 240.7L536.7 231.2M536.3 241.9L535.5 233.1M538.0 239.1L533.1 232.3M531.9 239.0L534.1 234.6M530.0 238.2L530.5 233.4M526.6 240.5L526.5 235.0M527.4 238.4L522.1 234.2M523.0 238.8L524.5 235.4M521.6 242.9L522.5 235.1M518.2 241.8L519.8 236.6M521.4 241.1L515.6 234.1M514.6 240.5L516.8 237.2M513.3 242.7L512.1 233.9M512.1 241.0L512.1 236.1M513.0 243.0L507.7 237.4M507.8 245.2L508.7 236.5M506.1 243.2L506.4 235.2M503.1 244.0L501.8 235.3M504.2 242.6L497.4 238.8M500.1 243.7L500.2 240.2M496.7 243.6L496.3 239.7M495.2 247.7L493.2 239.3M498.0 245.4L492.5 240.4M495.4 247.7L489.0 241.9M492.7 247.6L491.9 244.5M488.5 247.4L486.9 244.3M489.5 249.6L486.2 243.9M482.1 251.9L486.7 244.6M486.6 248.0L483.7 245.4M485.1 251.6L480.9 248.2M485.1 250.5L477.1 248.9M480.9 252.8L479.0 248.9M479.0 257.6L479.3 249.4M479.2 257.0L477.8 253.8M476.3 260.3L473.3 253.5M477.5 260.1L472.0 251.8M477.8 256.6L469.3 258.0M475.1 253.5L474.5 261.9M481.8 260.3L475.9 262.4M480.5 258.2L475.7 262.7M483.6 260.6L475.7 261.7M486.3 262.7L481.2 265.2M485.0 261.8L482.4 268.4M487.5 268.4L481.4 269.4M488.2 266.4L487.6 271.6M491.2 269.5L487.2 271.4M490.8 267.8L489.6 274.9M492.2 270.8L485.7 274.5M492.5 274.5L486.7 276.8M494.4 277.0L486.9 277.4M490.6 280.8L487.7 274.2M490.8 281.0L485.1 281.4M489.8 283.4L487.7 281.0M490.2 283.3L487.1 284.6M491.4 286.8L484.4 280.4M880.5 442.2L874.1 444.6M882.3 446.0L875.3 446.5M876.9 451.7L873.7 444.9M878.5 451.0L875.5 446.4M876.9 450.8L873.8 451.8M876.0 450.5L873.2 449.2M878.2 451.6L873.4 455.5M876.2 456.8L871.5 457.5M877.6 458.7L874.4 457.4M877.1 457.2L873.1 461.7M876.8 457.0L871.9 461.1M878.9 461.7L872.9 462.8M955.2 273.5L957.2 280.4M954.2 272.4L956.2 277.1M954.0 272.0L959.9 274.9M956.4 269.9L959.8 270.8M962.9 267.4L960.0 274.0M963.1 266.4L965.6 270.8M965.5 268.5L962.5 272.1M969.2 267.6L966.6 272.7M969.8 266.0L969.0 270.7M971.7 264.6L971.8 270.9M975.6 265.8L971.6 270.9M974.0 266.7L972.1 269.1M974.5 267.8L977.7 272.0M979.0 267.0L977.4 271.0M976.6 267.0L979.0 270.5M982.8 265.3L981.5 271.2M982.2 265.5L984.5 267.6M984.2 262.7L984.8 270.5M986.0 267.0L988.1 269.8M989.6 265.6L988.9 269.0M987.5 266.1L993.7 269.7M993.9 265.4L993.4 269.7M990.5 265.4L995.1 269.7M994.9 263.9L997.5 266.2M997.8 263.9L998.1 268.0M995.1 263.7L1001.1 268.8M1002.5 261.7L1001.2 265.8M1003.1 262.1L1000.7 265.8M1004.6 262.1L1006.6 265.7M1006.2 261.6L1006.2 268.9M1007.7 264.5L1009.0 267.3M1009.2 263.3L1007.8 266.5M1009.9 261.7L1012.0 266.5M1011.1 260.9L1011.1 268.6M1014.4 261.8L1011.7 267.0M1015.8 263.4L1020.5 269.5M1019.2 262.9L1016.6 266.0M1019.2 263.5L1019.4 270.1M1019.7 262.3L1022.6 267.9M1023.2 264.2L1022.6 267.2M1025.2 263.2L1020.8 268.3M1026.1 266.7L1021.1 270.3M1029.7 269.5L1022.9 272.2M1028.7 266.9L1027.1 272.6M1027.0 269.0L1027.4 274.1M1027.8 275.0L1030.1 270.5M1026.6 276.4L1022.8 272.6M1024.0 276.3L1027.3 271.2M1022.4 275.5L1025.4 271.1M1023.9 276.2L1021.7 272.0M1020.8 277.1L1015.1 272.7M1019.7 277.6L1017.5 272.2M1018.3 277.7L1011.8 273.4M1014.3 280.5L1013.1 273.1M1013.2 278.7L1012.4 273.5M1011.7 281.8L1014.4 274.5M1015.1 279.5L1008.3 276.2M1010.1 280.9L1005.2 274.8M1005.6 283.4L1007.4 277.4M1003.4 282.0L1003.5 276.1M1004.8 283.0L1002.3 280.6M1000.0 282.2L1000.4 278.0M998.0 283.2L998.2 279.8M996.5 285.4L996.9 278.4M994.7 286.0L995.5 279.8M996.9 285.5L993.4 281.7M993.6 286.4L991.3 282.9M993.0 287.1L990.4 284.6M992.4 285.2L989.3 287.1M994.5 288.9L987.5 285.7M992.2 291.4L988.3 290.8M993.4 293.5L988.5 287.3M990.0 296.0L988.7 289.6M986.6 295.8L983.6 292.8M983.5 298.4L984.9 292.6M981.2 297.4L981.0 293.0M980.0 296.2L979.8 293.2M978.6 298.3L980.0 295.5M982.1 299.4L978.0 297.1M977.7 298.3L978.0 295.0M973.8 297.2L978.2 292.5M975.8 298.6L977.2 293.3M976.2 296.5L975.1 292.9M972.0 297.6L972.3 290.6M969.4 295.8L969.2 289.3M964.9 291.1L969.7 287.8M966.2 293.1L966.0 287.0M962.9 291.1L967.3 286.2M964.6 290.2L966.4 284.3M963.1 290.2L963.8 285.7M960.1 287.8L961.3 281.0M958.1 286.2L962.4 284.5M794.8 386.9L791.7 386.3M791.9 390.9L792.1 386.5M791.9 390.0L789.6 386.6M791.8 390.8L788.6 390.1M789.9 391.8L786.1 390.7M789.9 394.0L786.2 391.7M788.8 389.1L788.5 394.0M789.8 393.3L787.2 395.5M790.5 390.5L793.6 394.7M793.7 390.6L793.9 393.9M796.1 391.9L794.1 394.6M797.1 390.4L796.0 395.8M233.0 434.9L232.1 431.2M233.1 435.8L230.1 428.2M226.2 435.3L231.7 430.7M225.2 435.4L226.9 431.9M224.5 433.9L227.6 429.5M220.8 433.9L224.0 431.5M218.9 434.1L221.5 429.4M216.8 436.3L221.3 430.9M215.5 436.4L222.2 429.4M216.9 434.0L218.3 428.5M214.8 434.7L214.7 425.3M212.0 432.9L215.9 430.1M209.0 433.2L215.5 428.1M207.3 432.8L209.7 424.3M209.4 432.5L204.5 425.0M204.4 431.0L208.3 423.8M202.3 430.9L204.8 424.5M199.9 434.9L201.8 426.0M201.7 430.7L197.2 427.9M201.1 430.4L198.1 428.7M197.6 434.8L193.7 427.1M198.9 436.4L193.7 428.7M194.2 435.4L192.7 431.9M194.9 436.1L191.7 431.1M192.7 435.9L188.7 432.0M190.3 438.5L183.9 435.4M190.0 437.8L184.3 434.3M188.0 439.4L182.2 433.6M179.5 441.2L182.9 436.2M182.9 441.1L179.1 437.6M180.0 442.2L175.7 435.8M180.9 445.0L177.0 437.3M178.2 445.1L177.1 436.1M179.5 440.9L173.0 440.1M176.7 448.1L171.6 440.1M170.3 447.2L170.1 441.2M172.2 446.4L168.2 441.5M169.7 448.5L167.0 440.7M171.4 447.1L164.5 445.1M167.2 451.8L164.6 444.0M166.3 453.1L165.3 443.7M167.3 449.9L163.8 449.6M163.1 456.0L159.2 446.8M163.6 452.5L159.8 451.0M162.0 453.7L157.7 452.3M158.8 455.6L156.2 452.1M159.8 460.7L153.8 453.2M156.6 457.5L152.5 456.3M157.0 460.7L153.0 457.0M154.1 460.4L151.0 457.7M149.0 464.0L148.9 458.5M151.1 463.0L148.4 458.6M146.4 464.5L147.9 460.8M147.2 467.2L145.2 459.8M146.2 465.2L143.7 461.7M146.1 465.6L141.1 464.1M139.9 466.9L141.4 461.7M139.9 468.0L136.8 463.3M138.2 468.1L135.4 463.1M137.2 468.9L133.9 464.8M133.0 468.9L129.1 467.1M132.9 467.9L130.6 465.5M1149.8 343.6L1151.8 349.0M1148.0 343.5L1151.8 344.6M1149.6 341.6L1156.6 339.2M1151.7 340.8L1154.7 339.4M1150.6 337.0L1153.5 339.1M1150.1 333.8L1156.0 339.0M1153.8 332.9L1157.3 335.2M1157.7 332.8L1161.2 334.6M1156.0 332.4L1161.5 333.8M1159.6 328.2L1159.7 334.0M1162.0 329.0L1165.6 332.4M1165.1 328.7L1166.6 332.1M1162.3 328.4L1169.2 329.5M1162.3 327.2L1168.2 329.7M1167.7 321.8L1169.2 329.4M1167.4 322.5L1171.5 323.8M1169.5 318.9L1173.0 326.0M1169.9 319.4L1173.6 319.0M1168.7 316.2L1171.8 317.7M1167.5 313.6L1173.2 314.7M1167.6 311.8L1170.6 313.4M1169.0 308.7L1167.4 313.7M1170.1 310.5L1170.4 314.0M1173.2 307.8L1173.6 312.2M1176.9 309.4L1174.3 313.8M1175.6 307.0L1178.7 313.7M1176.3 307.2L1182.1 310.5M1181.1 304.6L1178.3 309.6M1179.0 306.3L1181.3 309.8M1184.3 302.2L1181.7 309.2M1184.5 303.2L1183.8 309.8M1184.3 303.1L1190.0 307.3M1185.2 304.2L1187.3 307.4M1187.0 303.1L1192.0 308.8M1194.1 302.1L1190.4 307.9M1192.5 303.6L1193.8 306.8M1196.7 301.9L1196.0 306.0M1199.1 302.6L1197.3 306.0M1198.0 300.9L1200.9 303.2M1199.6 298.6L1202.5 303.6M1200.3 299.0L1203.5 306.1M1205.8 299.2L1202.8 303.1M1205.6 297.8L1208.0 300.5M1211.2 297.8L1207.4 303.0M1211.5 296.7L1212.4 303.9M1210.2 296.5L1214.3 303.2M1213.1 296.5L1218.2 299.3M1217.0 294.9L1214.4 300.7M1219.5 296.7L1218.6 303.2M1219.0 296.3L1216.2 299.9M1221.0 295.1L1217.9 300.2M1050.5 353.6L1047.5 354.9M1052.4 356.0L1050.3 359.3M1053.3 355.8L1054.6 361.1M1055.5 358.2L1055.0 361.6M1061.3 361.0L1055.4 361.8M1059.8 359.8L1058.8 363.7M1061.3 358.9L1062.8 362.0M1066.1 358.5L1065.2 363.2M1065.4 361.1L1067.5 363.5M1066.9 360.6L1068.5 365.9M1068.7 360.7L1068.8 364.7M1072.9 362.1L1069.9 365.2M522.2 316.2L519.7 314.1M518.2 318.6L517.3 314.8M519.7 317.1L517.1 314.2M517.1 318.9L516.3 315.5M512.8 319.4L513.4 316.0M511.4 318.4L510.2 315.4M512.2 319.0L509.0 315.2M507.7 317.2L509.5 314.8M508.2 318.2L504.4 314.8M503.1 318.7L503.9 315.1M503.4 318.3L500.2 315.0M500.7 318.7L500.7 314.3M497.4 319.3L499.5 316.1M497.7 319.4L495.0 315.9M494.2 321.2L495.0 315.4M494.7 320.1L492.2 317.1M492.5 320.8L491.1 315.9M488.8 318.5L492.1 315.6M485.9 320.3L488.9 316.5M489.6 320.0L487.0 316.8M484.3 319.1L482.8 313.6M480.5 321.4L483.3 316.5M480.1 319.8L483.5 316.5M478.7 319.4L478.2 314.9M475.4 318.9L475.9 314.5M474.9 318.1L475.5 314.3M472.8 319.6L473.3 315.9M470.5 318.2L469.5 314.2M467.8 317.8L469.7 314.7M465.9 318.1L465.2 312.9M1310.1 319.5L1311.6 324.3M1312.0 318.8L1316.0 319.7M1315.0 316.5L1316.6 322.2M1313.0 316.7L1318.2 318.2M1316.3 315.1L1320.1 317.6M1321.5 314.4L1321.1 318.7M1319.4 315.3L1322.6 316.7M1322.0 313.0L1326.3 316.5M1324.6 309.4L1324.9 313.5M1325.7 309.7L1329.0 313.2M1324.9 309.4L1327.1 311.5M1329.0 307.0L1330.3 311.7M1327.9 307.7L1329.4 311.3M1332.8 305.4L1333.0 310.1M1332.1 305.3L1331.7 310.1M1333.0 305.2L1335.1 308.9M1339.2 305.0L1336.9 307.9M1337.8 306.0L1339.1 308.8M1343.1 303.9L1341.7 308.1M1341.1 304.0L1344.2 307.8M1346.3 303.4L1348.3 308.4M1346.0 303.4L1347.7 309.2M1347.3 303.7L1350.2 305.2M1349.5 302.9L1350.1 306.7M1350.8 304.5L1354.0 307.7M1356.8 301.6L1354.8 305.1M1355.9 302.7L1357.6 305.5M1358.8 300.1L1358.2 304.7M1359.1 302.4L1360.9 306.3M1360.9 300.8L1364.3 304.4M1363.4 300.2L1366.6 304.5M1368.4 300.5L1367.6 303.4M1370.2 300.4L1369.5 304.9M1369.7 298.3L1369.1 303.4M1372.4 298.7L1372.2 302.2M1371.6 299.9L1374.8 303.0M1375.1 298.1L1374.3 302.7M1377.3 299.2L1380.0 302.6M1377.8 297.4L1381.1 302.3M1380.8 296.5L1381.7 299.4M1382.2 296.9L1386.6 300.3M1382.5 296.7L1388.0 297.9M1385.7 294.4L1388.0 299.5M1386.4 294.8L1390.3 295.7M1385.4 294.8L1388.6 296.1M1389.7 292.9L1388.4 298.3M1389.6 292.2L1394.1 295.8M1392.1 290.2L1397.5 292.2M1393.8 291.1L1398.5 293.3M1399.7 289.3L1396.2 290.7M1402.5 289.4L1399.8 292.5M1401.0 291.4L1400.4 295.9M1404.0 291.8L1399.9 295.7M1405.8 291.4L1402.3 294.9M1408.6 292.2L1404.7 294.1M1410.6 292.6L1407.8 295.5M1410.6 293.3L1408.0 296.9M1412.8 294.1L1412.0 297.0M1414.6 296.1L1412.5 300.4M1419.0 295.5L1415.0 299.1M1420.6 295.6L1417.8 300.7M1418.9 296.7L1418.2 300.0M1421.6 297.0L1423.1 300.2M1422.8 297.1L1421.7 301.3M1427.5 297.2L1424.6 299.2M1427.6 298.3L1426.6 301.8M1427.3 298.7L1428.7 303.2M1428.8 298.6L1431.6 302.7M1432.6 299.9L1430.7 302.6M1692.5 1032.6L1696.1 1031.5M1694.0 1030.6L1698.4 1031.0M1696.1 1031.1L1699.6 1030.2M1695.4 1026.4L1697.8 1031.9M1694.8 1026.8L1699.9 1029.6M1699.0 1022.5L1699.5 1027.0M1700.4 1024.6L1702.9 1027.1M1702.3 1021.3L1704.3 1025.5M1702.0 1019.4L1705.4 1023.9" fill="none" stroke="#2a2a2a" stroke-width="0.55"/>
<path d="M464.5 521.7L472.1 517.0L478.3 511.3L483.1 507.8L491.1 509.0L495.9 514.1L499.2 517.0L500.2 523.2L495.9 522.0L491.1 523.2L486.9 522.9L484.5 517.3L481.6 520.4L476.9 521.0L470.2 522.6L467.4 521.3ZM499.5 527.6L495.9 526.0L491.1 527.3L488.8 528.2L485.9 531.9L484.0 535.3L487.3 533.5L486.4 536.8L484.5 544.5L485.9 551.7L487.3 553.1L490.7 550.2L492.3 544.8L491.1 538.7L493.0 533.1L495.7 532.5L498.3 528.8ZM499.5 527.6L503.0 525.7L507.8 525.4L514.0 526.0L518.3 527.0L522.1 530.7L523.0 534.1L517.8 535.0L514.2 531.0L515.9 535.0L513.7 542.6L510.4 544.8L509.7 540.5L507.8 538.4L503.5 540.8L505.9 536.8L506.4 532.2L505.4 530.4L502.6 528.8ZM505.7 552.6L510.2 550.8L516.3 546.9L522.1 547.5L526.8 545.7L523.0 549.3L517.3 552.0L514.0 553.8L509.2 554.1ZM523.0 543.2L524.9 540.9L531.6 539.0L538.7 537.4L540.1 541.4L533.5 543.2L526.8 543.1ZM1128.3 528.2L1135.4 523.8L1145.0 520.7L1153.0 520.7L1154.9 523.8L1154.5 530.7L1146.4 530.7L1141.6 535.0L1144.5 537.4L1145.9 540.8L1149.2 545.4L1153.0 548.4L1154.0 553.2L1154.5 556.2L1162.1 555.6L1160.2 558.6L1154.5 562.8L1153.0 564.0L1155.4 566.3L1158.7 568.7L1158.7 578.4L1159.2 581.0L1152.1 582.2L1145.0 582.2L1140.2 578.1L1137.8 577.8L1135.0 571.9L1135.0 570.2L1136.4 566.9L1137.4 566.6L1141.6 560.7L1137.8 558.9L1135.9 555.0L1132.4 550.5L1128.6 544.8L1128.3 539.9L1128.8 535.0L1125.0 533.8ZM1180.6 527.0L1183.0 527.6L1183.2 532.5L1182.0 536.8L1180.1 535.0L1180.1 530.7ZM1184.4 530.7L1185.4 525.7L1188.7 525.1L1190.6 528.8L1190.1 535.0L1187.8 537.4L1184.4 536.2ZM562.2 724.4L564.6 728.0L563.9 732.2L560.3 732.0L559.9 727.0Z" fill="#fff" stroke="#2a2a2a" stroke-width="0.7"/>
<path d="M103.1 391.8L111.7 387.1L121.7 384.4L124.1 387.9L133.1 387.9L134.5 384.8L129.3 381.7L123.6 380.1L120.3 375.4L109.3 370.2L112.2 365.8L120.3 365.4L127.4 358.9L132.6 354.4L141.7 351.5L151.2 349.8L157.8 345.7L165.4 347.8L174.9 349.4L182.1 353.1L196.3 353.6L208.2 355.2L220.1 356.0L232.0 359.7L241.5 360.5L251.0 365.4L258.2 364.2L262.9 359.7L270.0 360.9L279.6 357.3L286.7 356.0L293.8 351.9L298.6 355.2L305.7 361.7L311.9 362.2L309.5 355.6L317.6 358.5L327.1 358.9L341.4 364.6L353.3 365.4L361.3 370.6L355.2 374.2L365.1 375.0L377.0 373.4L384.2 375.4L388.9 381.7L392.2 380.1L389.9 373.8L396.0 370.6L386.5 368.2L398.4 365.8L405.6 370.6L417.4 374.6L429.3 374.6L434.1 370.2L438.8 368.6L446.0 371.0L448.4 379.3L453.1 371.4L456.9 368.2L452.6 360.1L444.5 357.7L443.6 347.8L449.8 340.6L455.5 342.3L460.7 346.1L465.5 354.4L462.1 359.7L470.7 360.9L472.1 369.0L476.9 363.4L483.1 365.8L485.0 373.8L489.7 377.8L495.4 367.4L495.9 358.1L505.4 359.3L512.5 358.1L515.9 363.4L512.5 369.0L515.9 376.2L510.2 384.0L503.0 386.4L494.5 384.8L489.7 387.9L487.3 394.1L484.5 400.9L474.5 403.9L470.7 408.4L463.1 412.9L457.9 419.5L454.1 426.8L451.7 434.0L454.5 441.8L461.2 448.8L462.6 454.4L470.7 452.6L481.6 458.2L487.3 461.2L497.3 466.0L511.1 467.0L511.6 478.1L514.9 486.7L519.7 492.6L524.9 491.3L527.8 484.1L526.3 474.1L523.5 470.4L532.5 466.7L538.2 459.2L538.7 451.6L533.9 446.0L529.2 441.8L533.5 434.7L534.4 432.6L531.1 427.5L532.0 416.2L543.0 417.0L552.0 415.8L561.0 422.1L563.9 425.4L571.0 425.7L572.5 438.3L577.2 446.4L583.9 444.6L589.1 436.8L595.8 430.8L600.0 439.7L606.7 448.1L610.0 458.5L616.2 465.3L625.7 469.4L629.5 474.8L637.1 480.8L637.6 487.4L631.4 492.0L622.9 494.2L617.2 499.4L602.9 499.1L586.7 499.7L582.4 504.9L575.3 508.1L569.6 515.7L563.9 521.0L569.6 518.8L577.7 510.3L586.2 506.5L596.2 506.8L596.7 510.6L589.6 512.8L594.3 515.4L593.4 521.3L596.7 524.8L603.8 527.9L610.0 528.2L612.4 530.7L600.5 534.7L590.5 541.7L587.7 536.2L593.4 531.3L596.2 528.8L588.6 531.0L583.9 534.1L575.3 536.8L568.7 541.1L566.3 546.6L565.3 549.0L567.2 552.0L569.6 552.6L562.9 553.8L555.8 555.3L551.1 558.6L550.6 560.1L549.6 564.6L546.3 569.0L543.5 565.7L545.4 571.6L541.6 579.5L539.6 571.6L539.6 580.4L541.3 582.7L543.5 590.5L538.7 594.0L532.0 598.3L526.8 601.1L522.5 605.1L517.3 609.7L515.4 617.5L517.3 624.8L519.7 629.0L522.1 638.1L521.1 644.7L517.8 647.2L514.0 643.1L512.1 637.6L508.7 632.6L509.2 626.5L504.5 620.3L501.1 620.3L496.9 622.0L492.1 618.1L486.4 618.7L482.1 618.4L477.4 619.2L478.3 625.6L473.6 625.4L468.3 623.4L463.6 622.9L456.4 622.0L451.7 624.0L446.0 628.7L440.3 633.1L439.8 637.6L440.5 642.8L437.9 650.7L437.4 662.7L440.3 671.3L444.1 677.2L446.5 681.5L453.1 685.0L459.3 683.4L465.5 682.6L470.7 678.8L472.6 671.3L475.9 668.1L483.1 666.7L488.8 666.7L489.7 670.2L486.4 675.6L485.0 683.6L482.6 685.2L483.1 689.5L482.1 693.7L479.7 696.9L484.0 697.5L489.2 697.5L494.0 696.7L498.8 696.7L504.9 700.1L506.8 702.0L505.9 708.0L504.9 714.9L504.5 720.2L504.5 723.0L507.3 728.0L511.6 731.7L514.9 734.0L518.3 733.5L522.5 731.4L526.8 730.4L531.6 731.2L534.7 735.0L537.0 738.0L539.6 733.5L543.0 730.1L543.5 725.4L546.8 722.5L549.6 721.2L554.4 720.9L559.1 717.5L562.5 715.2L563.9 718.1L560.6 720.2L562.0 723.8L562.9 722.0L568.7 720.2L569.1 716.7L571.0 720.2L575.3 720.7L577.7 723.8L579.6 725.4L587.7 724.9L592.9 727.5L597.2 725.9L599.1 724.6L608.1 724.4L604.8 727.0L609.5 728.8L613.4 731.7L612.9 735.4L617.6 736.9L624.3 743.2L630.0 749.4L636.7 749.4L640.9 748.9L645.7 750.0L650.9 752.1L656.6 756.7L659.0 758.8L661.4 768.7L664.7 771.3L664.7 775.5L661.4 779.1L660.0 781.7L663.3 781.2L667.1 778.6L672.3 781.4L671.8 787.9L675.6 783.5L681.8 785.3L688.5 787.9L690.4 793.1L696.1 792.6L703.7 795.2L712.3 795.0L719.4 799.4L725.6 805.1L731.3 806.4L734.6 807.2L736.0 814.0L737.0 821.8L734.1 829.1L729.4 834.9L724.6 840.1L719.9 847.8L717.0 850.7L717.0 861.2L716.1 872.9L713.2 883.1L708.0 892.8L707.5 896.0L702.7 901.1L696.6 901.4L689.9 903.3L682.3 906.8L674.7 912.3L671.8 916.7L671.4 926.0L670.4 932.1L664.7 938.8L660.0 946.7L654.2 952.3L648.5 961.1L641.4 968.0L635.2 967.7L627.4 965.1L624.3 962.6L624.8 966.0L630.5 970.6L632.8 976.4L628.6 986.3L621.9 989.8L610.0 991.6L606.7 990.7L607.2 1001.1L601.9 1004.4L593.9 1002.3L592.9 1009.5L599.6 1010.7L599.6 1014.3L593.9 1013.7L592.4 1019.2L591.0 1027.1L585.8 1029.0L581.5 1033.3L582.0 1037.7L586.2 1040.5L589.6 1041.4L589.1 1045.9L581.5 1052.8L580.5 1055.4L574.8 1061.2L573.4 1069.6L577.5 1074.5L572.0 1073.9L565.3 1077.8L565.3 1083.5L559.6 1082.8L553.0 1078.2L547.3 1073.6L544.9 1065.7L543.5 1056.0L543.0 1046.5L548.2 1040.2L543.0 1038.3L546.3 1031.5L552.5 1027.8L555.3 1021.6L556.3 1012.5L552.0 1008.3L552.0 997.5L553.4 986.9L553.0 981.0L556.8 972.3L561.0 960.3L562.5 948.4L562.9 939.9L562.5 933.2L565.3 923.3L566.8 914.5L567.7 904.1L569.1 893.3L568.9 885.2L567.9 876.7L562.9 872.4L558.2 868.7L550.6 864.4L544.9 860.2L539.6 852.8L537.7 845.9L535.4 842.8L531.1 833.3L528.2 826.5L524.4 819.7L519.7 813.4L516.3 810.8L515.9 804.6L519.7 798.3L522.5 793.7L517.8 792.1L518.3 785.3L521.6 780.1L522.1 776.0L527.3 772.9L528.7 767.1L533.9 765.6L535.8 759.9L533.9 751.5L534.4 745.3L532.0 742.7L529.7 738.5L531.1 736.4L526.8 733.3L524.0 733.8L520.2 736.9L521.6 741.1L517.8 742.7L514.9 740.1L511.6 736.9L508.3 738.2L504.5 735.4L500.2 730.1L497.8 730.1L494.5 727.5L495.0 722.8L490.7 718.1L485.9 712.8L486.9 710.7L481.6 711.2L475.5 709.4L468.3 707.3L464.0 704.3L456.9 696.9L452.2 695.3L443.6 698.3L436.5 695.9L427.9 692.2L419.3 687.9L410.8 684.2L403.7 678.8L399.9 672.9L401.8 670.8L401.3 665.4L396.5 657.8L389.9 650.7L382.7 644.7L380.4 638.1L376.6 633.7L373.7 631.5L368.9 625.9L365.1 617.0L364.2 613.0L357.1 610.5L356.6 614.7L359.4 620.3L363.7 625.9L366.1 631.5L368.9 636.4L372.7 642.5L375.6 649.6L378.0 652.9L381.8 657.2L379.6 659.4L377.5 655.6L369.9 650.7L368.9 642.5L362.8 638.1L356.1 633.1L359.9 630.9L358.0 625.9L352.3 619.8L348.5 611.9L345.6 606.3L344.2 601.7L339.5 598.3L335.2 596.6L329.5 595.1L328.1 589.7L322.8 583.3L320.0 576.9L317.6 573.4L313.8 566.9L310.9 560.4L312.4 553.8L310.5 546.0L312.4 538.7L312.8 525.1L309.5 511.6L317.6 512.8L320.4 518.2L320.0 509.4L316.6 505.5L310.5 502.3L305.7 498.5L296.2 494.6L294.8 486.7L289.1 480.1L282.9 472.8L283.8 466.7L277.2 466.0L274.8 459.9L267.7 453.0L263.4 445.3L259.1 438.3L254.3 445.3L247.2 443.2L238.2 436.1L229.6 433.3L218.2 433.3L210.6 429.7L203.5 425.7L197.3 430.4L191.6 434.0L180.6 439.0L183.0 429.0L190.2 424.6L183.5 426.1L177.3 431.8L172.1 436.8L169.2 445.3L159.2 453.0L149.7 460.6L139.3 466.0L129.8 468.7L126.0 470.1L129.8 464.0L139.3 460.9L147.8 455.1L153.1 448.8L155.9 441.8L147.8 441.4L140.7 441.8L131.7 442.9L133.1 435.4L123.6 434.7L116.9 428.2L113.1 421.0L117.9 414.4L121.7 409.9L131.2 407.7L137.9 404.7L135.9 399.4L128.3 400.9L116.0 400.2L110.7 395.6ZM1049.1 358.5L1054.6 357.3L1061.7 362.6L1073.6 364.2L1083.1 369.8L1091.7 371.8L1098.8 379.3L1097.4 384.0L1085.5 387.9L1068.9 385.6L1056.5 379.7L1059.4 384.0L1066.5 392.5L1067.9 400.2L1076.0 404.7L1083.1 404.7L1078.4 395.6L1085.5 397.9L1095.0 399.8L1092.7 391.8L1102.2 385.6L1111.7 388.7L1112.6 384.8L1108.3 377.0L1108.3 367.8L1121.2 370.6L1123.6 380.9L1128.3 381.7L1133.1 375.4L1140.2 372.2L1154.5 370.6L1159.2 365.4L1164.0 369.0L1173.5 368.2L1183.0 365.8L1190.1 358.1L1192.5 360.1L1211.5 366.6L1221.0 369.8L1226.7 365.0L1220.1 352.7L1219.6 348.6L1228.2 340.2L1230.5 332.5L1235.3 328.6L1247.2 333.4L1248.1 348.6L1247.2 365.0L1251.9 377.0L1244.8 386.4L1254.3 380.9L1254.3 369.0L1256.7 356.9L1251.9 344.4L1259.1 335.9L1268.6 338.5L1273.3 337.7L1285.2 340.2L1294.7 344.4L1297.1 351.9L1299.5 341.9L1287.6 335.9L1285.2 327.3L1311.4 323.0L1316.1 314.2L1335.2 307.9L1354.2 304.3L1368.4 300.6L1378.0 300.6L1398.4 289.4L1406.5 292.3L1411.2 297.0L1435.0 300.6L1442.1 307.0L1439.8 314.2L1425.5 318.6L1416.0 325.6L1406.5 329.1L1425.5 325.6L1442.1 326.5L1444.5 327.3L1468.3 330.8L1487.3 327.3L1504.0 325.6L1515.8 332.5L1517.3 344.4L1520.6 348.6L1530.1 344.4L1534.9 343.6L1549.1 344.4L1558.6 343.6L1565.8 337.7L1571.5 332.5L1577.7 334.2L1596.7 337.7L1615.7 344.4L1627.6 349.4L1644.2 347.8L1658.5 351.1L1668.0 360.9L1672.8 359.7L1691.8 360.9L1701.3 358.5L1713.2 356.0L1712.2 359.3L1725.1 357.7L1739.3 359.3L1751.2 361.7L1758.4 365.4L1770.2 370.6L1782.1 377.0L1791.6 380.1L1798.8 381.7L1807.3 387.9L1803.1 391.8L1795.4 396.4L1795.4 400.9L1790.7 400.9L1779.8 397.1L1763.6 387.9L1760.7 392.5L1758.4 396.4L1748.8 398.6L1746.5 398.3L1753.6 409.9L1755.0 416.6L1744.1 415.1L1734.6 420.3L1722.7 426.1L1713.2 433.3L1701.3 429.7L1691.8 434.7L1682.3 434.0L1678.9 440.4L1672.8 447.4L1678.5 448.8L1676.6 456.4L1678.9 460.6L1671.8 468.0L1672.8 470.7L1663.3 474.8L1663.3 480.1L1657.1 481.4L1651.4 489.3L1647.6 495.2L1645.2 489.3L1642.8 478.1L1642.3 468.0L1642.3 457.8L1648.0 449.5L1656.1 445.3L1663.3 438.3L1671.8 431.1L1679.9 424.6L1686.1 415.1L1677.5 415.1L1670.4 426.1L1665.6 428.2L1664.7 419.5L1658.5 421.0L1647.6 422.4L1639.5 434.7L1632.3 439.0L1625.2 440.4L1619.5 436.5L1608.6 437.6L1591.9 437.6L1583.4 437.9L1570.5 448.8L1559.6 458.2L1553.9 469.4L1549.1 470.7L1558.6 475.4L1567.2 473.4L1574.8 479.4L1572.9 480.8L1570.5 491.3L1572.0 494.6L1569.6 507.4L1563.4 517.0L1560.1 522.0L1551.5 532.5L1545.8 540.5L1534.9 546.0L1529.6 544.2L1523.9 547.2L1523.5 549.0L1519.7 552.0L1519.2 558.0L1509.2 564.0L1508.2 567.5L1513.0 571.1L1515.8 576.3L1518.0 586.2L1516.3 591.4L1511.1 593.1L1504.0 596.0L1503.0 593.1L1504.4 586.2L1502.5 581.6L1504.4 577.5L1502.1 576.0L1499.2 574.6L1495.4 574.0L1497.8 570.5L1493.5 563.4L1487.3 565.2L1481.1 569.3L1478.8 565.7L1483.0 559.2L1481.6 557.4L1477.8 558.0L1471.2 563.4L1462.6 568.7L1462.1 571.6L1468.3 575.7L1468.3 579.3L1474.5 576.3L1479.7 576.9L1484.9 577.8L1484.9 581.0L1475.0 585.6L1470.7 589.7L1469.7 593.7L1474.5 597.7L1477.3 604.0L1482.1 610.8L1482.1 615.3L1477.3 618.1L1482.6 620.9L1480.7 629.8L1477.3 632.0L1471.2 642.5L1464.0 650.7L1457.4 657.2L1445.5 662.7L1442.1 663.7L1433.1 667.0L1427.9 668.6L1426.5 673.5L1424.1 667.0L1421.2 667.0L1416.0 667.0L1410.3 670.8L1405.5 678.3L1405.5 682.0L1408.9 687.4L1414.1 693.7L1417.4 695.9L1422.2 708.0L1422.2 717.5L1416.5 723.3L1411.7 726.2L1409.3 730.1L1400.8 735.4L1401.0 729.1L1402.2 728.0L1399.1 725.9L1397.0 725.1L1394.6 724.9L1392.2 720.7L1389.8 717.0L1384.1 714.1L1382.2 710.2L1380.3 709.6L1378.0 710.7L1377.7 714.6L1374.2 725.4L1375.1 732.2L1378.4 736.4L1380.8 742.7L1384.1 744.2L1387.9 747.6L1388.7 748.1L1392.9 752.3L1394.1 760.4L1396.3 767.7L1398.2 772.9L1394.6 773.1L1388.7 768.7L1384.6 764.5L1381.8 759.3L1379.6 752.1L1378.4 746.6L1375.6 741.6L1372.7 738.2L1369.9 739.0L1369.9 733.8L1371.3 728.3L1371.3 715.2L1368.9 706.5L1367.5 700.4L1366.5 693.7L1363.2 690.0L1360.4 693.7L1355.6 697.7L1350.9 696.4L1351.8 688.4L1350.9 681.5L1347.0 677.2L1344.2 674.3L1341.3 671.0L1339.7 667.3L1339.0 662.7L1336.1 661.0L1333.3 661.6L1331.4 665.1L1328.0 665.9L1326.1 666.2L1321.8 666.4L1320.9 664.8L1316.6 667.0L1314.7 673.7L1310.7 676.1L1306.2 679.1L1298.5 687.4L1293.8 691.4L1293.8 693.7L1288.3 695.6L1287.1 697.7L1283.3 701.7L1283.6 704.9L1284.3 711.7L1282.1 717.8L1282.1 726.5L1279.1 726.5L1279.5 731.7L1274.3 734.3L1271.2 738.1L1268.1 735.9L1265.0 728.3L1262.6 721.5L1258.4 712.8L1253.4 699.1L1251.0 691.1L1248.6 680.7L1248.6 672.9L1248.1 668.9L1247.2 663.2L1245.8 665.6L1240.1 671.3L1237.0 670.2L1233.4 666.2L1230.3 662.9L1236.7 659.1L1232.2 660.0L1229.6 655.6L1226.7 655.1L1222.9 653.4L1220.8 649.1L1218.7 646.3L1209.6 646.9L1204.4 646.6L1198.7 647.4L1196.1 647.7L1190.6 646.3L1177.3 644.4L1174.0 638.7L1170.2 636.2L1163.5 639.5L1154.5 637.6L1147.3 632.6L1144.2 626.5L1141.2 620.3L1136.4 617.8L1133.3 620.6L1130.5 620.3L1129.3 623.7L1130.7 624.0L1132.1 628.1L1133.1 629.3L1138.5 637.0L1140.9 640.0L1141.2 644.7L1144.0 649.3L1144.0 645.2L1146.1 641.7L1147.6 646.3L1147.8 650.2L1146.4 650.4L1147.8 652.9L1152.6 652.3L1161.1 651.0L1165.4 646.6L1168.7 643.6L1170.2 640.6L1170.9 641.4L1170.2 644.7L1170.4 647.4L1172.3 651.5L1181.1 655.6L1186.8 661.6L1184.4 667.5L1181.1 672.9L1176.8 676.9L1176.8 681.0L1170.2 686.3L1159.7 691.1L1154.9 693.0L1150.7 695.3L1135.9 704.3L1128.3 707.5L1116.4 713.3L1109.3 714.1L1108.1 710.7L1106.7 702.8L1106.0 694.3L1104.8 691.6L1097.9 679.9L1088.6 667.0L1083.4 652.9L1075.8 641.1L1072.2 635.1L1068.9 630.9L1067.0 631.5L1068.6 624.2L1068.9 623.0L1068.4 623.1L1065.2 612.9L1067.7 608.8L1068.9 604.6L1069.8 601.9L1071.3 598.3L1072.7 595.1L1073.2 592.6L1072.4 589.1L1073.4 585.6L1074.3 582.7L1073.6 581.0L1070.8 583.0L1067.0 581.6L1063.9 584.5L1058.7 585.9L1054.6 583.0L1048.4 581.3L1047.0 585.1L1043.4 585.1L1040.8 582.7L1037.0 581.3L1032.7 582.2L1032.7 580.1L1032.0 575.5L1027.5 572.8L1031.3 572.2L1029.9 570.5L1029.4 566.9L1030.6 565.4L1026.3 565.7L1027.0 562.8L1029.4 560.7L1035.4 560.7L1039.9 560.4L1041.8 558.9L1044.6 558.3L1040.6 556.8L1041.1 555.5L1043.2 555.7L1053.7 554.1L1062.9 550.9L1069.6 550.6L1075.3 555.0L1080.8 556.5L1085.0 557.3L1091.2 556.8L1095.0 556.5L1100.0 553.7L1100.3 552.9L1100.5 549.9L1097.4 544.8L1093.8 542.9L1092.7 542.3L1091.2 541.1L1088.1 538.1L1082.2 534.4L1079.8 533.1L1077.0 531.3L1080.3 530.7L1083.1 526.3L1084.3 522.0L1089.3 518.8L1081.0 519.5L1077.4 521.7L1067.9 525.4L1070.3 530.1L1076.0 530.4L1070.8 532.2L1064.8 535.6L1061.7 535.0L1061.0 531.3L1057.0 530.4L1062.2 525.7L1058.9 525.7L1052.2 522.9L1048.7 523.2L1047.2 525.7L1043.7 531.3L1038.7 537.4L1038.4 540.2L1037.7 542.6L1035.1 543.6L1033.2 547.8L1035.8 550.9L1035.6 551.4L1040.6 555.3L1040.1 556.8L1033.2 556.9L1031.3 559.2L1029.2 560.4L1027.0 562.5L1029.9 559.2L1026.3 558.6L1025.6 557.7L1018.5 557.1L1015.6 558.6L1018.2 561.9L1016.1 560.4L1016.6 563.1L1013.7 561.3L1013.7 563.1L1011.3 559.2L1009.9 562.8L1011.6 566.6L1013.2 567.5L1011.3 569.6L1013.2 571.1L1016.6 573.7L1016.8 576.6L1014.9 574.9L1011.8 574.9L1012.8 577.2L1012.8 578.7L1010.9 577.2L1011.3 579.5L1012.8 583.6L1009.7 581.9L1009.4 583.9L1007.5 580.3L1006.6 582.0L1005.6 581.0L1003.7 576.6L1002.8 574.9L1005.9 573.1L1011.3 574.6L1011.3 573.4L1006.1 572.2L1004.2 572.5L1002.3 572.5L1001.1 569.0L999.5 566.9L998.7 565.7L997.6 564.6L997.6 563.5L994.9 560.1L994.2 560.4L994.9 555.0L995.7 552.0L994.6 551.7L993.3 550.2L990.7 548.4L988.5 546.9L980.7 541.7L974.7 538.1L973.3 532.5L971.2 530.4L968.3 533.5L967.1 531.0L967.6 529.1L967.8 528.5L966.6 527.6L961.2 530.1L961.9 532.8L960.9 536.2L962.4 538.4L966.6 541.1L970.0 548.1L974.3 551.1L979.5 551.4L978.1 553.2L982.6 556.2L987.8 558.9L990.4 561.9L989.7 564.0L988.0 562.5L984.2 560.1L980.9 564.3L984.0 568.1L981.4 569.9L978.8 575.0L976.9 574.0L978.1 571.9L977.8 571.1L979.5 569.3L978.7 566.6L976.6 562.5L975.2 562.8L972.6 558.9L970.7 559.2L970.2 557.8L966.9 555.6L962.4 554.1L960.5 552.3L958.6 550.2L955.2 548.4L952.4 545.1L951.4 541.4L949.1 538.1L944.8 536.2L942.9 536.8L940.5 539.3L938.4 540.0L936.9 540.5L935.7 541.4L934.1 543.2L930.7 544.2L927.9 542.9L924.3 542.6L920.0 542.3L917.4 544.2L917.0 547.2L917.5 548.2L918.1 549.0L917.4 551.7L912.9 554.4L908.4 556.2L906.5 558.6L902.5 563.1L901.0 566.0L903.4 570.2L900.1 572.5L899.1 576.6L897.7 576.9L894.8 578.1L892.0 582.0L890.8 581.4L885.8 582.0L881.5 582.0L879.2 583.3L877.0 585.5L875.8 586.2L872.5 583.3L872.3 581.6L869.4 579.3L867.3 579.4L864.7 580.4L859.9 580.4L860.3 574.9L860.1 571.6L858.7 572.1L857.5 570.5L857.3 570.0L857.8 566.6L860.3 561.9L860.8 558.9L861.2 555.9L860.4 552.6L860.3 551.6L860.6 549.6L858.4 545.4L862.5 542.5L865.8 540.0L868.9 541.4L875.5 541.4L884.4 541.9L888.0 542.6L892.9 542.8L894.0 542.5L895.1 541.8L896.7 534.7L897.2 529.1L897.0 525.4L893.9 523.2L892.0 518.4L887.7 517.0L886.5 515.6L881.7 515.1L880.0 513.6L881.1 511.4L879.8 511.7L883.4 509.2L888.2 508.7L889.4 510.4L892.9 509.7L895.3 509.8L894.8 508.5L893.2 502.8L894.8 503.3L896.4 503.0L897.2 505.1L901.3 505.7L902.9 504.2L903.4 503.0L907.6 501.5L909.8 499.7L910.1 496.3L910.0 495.4L911.3 494.8L913.8 494.2L914.6 494.0L916.2 493.1L918.5 492.2L919.3 491.6L922.0 488.0L925.0 481.8L928.1 480.2L931.9 478.6L935.0 478.4L936.7 479.4L936.5 477.2L941.0 477.8L941.7 478.4L943.1 477.8L943.8 475.6L945.2 475.6L944.5 473.9L943.3 472.8L945.5 471.6L943.6 468.7L942.6 464.9L940.9 464.2L941.1 460.6L941.4 456.4L943.3 453.5L949.8 450.2L952.9 449.2L952.6 451.3L951.4 454.4L954.4 458.4L951.2 460.2L948.6 463.3L948.9 464.2L947.6 464.7L947.4 467.7L947.4 469.4L950.7 472.4L955.2 471.8L954.3 475.1L956.9 475.4L960.0 473.6L961.9 471.6L966.2 470.2L967.8 472.8L970.2 475.3L976.4 473.6L982.6 470.7L985.9 469.6L989.9 469.4L991.8 470.7L990.7 471.4L991.4 472.3L992.6 472.4L995.9 471.8L997.1 470.4L999.7 468.3L1002.8 463.3L1002.5 461.8L1002.5 460.8L1002.3 457.8L1004.9 451.6L1009.9 449.2L1015.6 454.6L1017.1 454.0L1018.5 452.5L1018.2 448.3L1019.0 444.8L1014.2 443.4L1014.2 440.7L1016.8 437.9L1020.1 437.2L1028.5 436.8L1035.8 437.1L1037.0 435.4L1040.6 434.0L1046.1 433.8L1044.9 432.6L1038.4 430.8L1038.9 428.2L1034.6 429.3L1030.6 430.0L1021.1 432.1L1011.6 434.6L1008.3 430.0L1004.2 427.5L1004.7 425.1L1005.2 421.7L1004.0 416.8L1005.2 410.7L1010.4 406.4L1012.3 405.1L1018.7 398.8L1023.5 396.2L1019.2 390.8L1017.3 390.0L1012.5 390.2L1007.8 391.9L1004.7 393.9L1003.3 398.6L999.0 406.0L991.5 409.3L987.8 414.2L985.0 415.8L984.0 420.8L983.8 423.9L984.2 428.4L989.9 431.5L991.8 435.1L990.4 438.3L987.8 441.1L983.8 442.4L981.4 443.2L981.6 449.2L980.7 452.5L980.3 456.6L976.6 460.2L973.1 460.1L970.5 461.8L970.7 464.3L968.2 465.2L965.0 465.5L964.3 464.0L962.8 460.9L961.7 459.2L963.6 456.6L960.7 453.7L959.3 449.5L956.8 445.5L955.6 440.9L955.3 439.7L954.5 439.0L953.6 434.0L952.3 437.4L950.1 440.0L947.2 441.3L944.2 444.2L940.5 446.4L936.0 447.6L934.8 446.9L931.0 444.3L929.7 440.6L927.5 437.4L927.7 430.4L926.2 425.4L926.4 421.7L926.7 417.3L931.7 415.3L936.5 413.3L939.2 410.5L942.9 407.3L948.1 406.2L951.9 408.2L950.0 403.9L957.1 400.4L955.9 397.4L960.5 392.8L962.5 388.5L969.7 386.4L964.3 384.0L970.9 378.7L976.2 373.8L985.3 369.6L978.5 369.8L981.2 366.6L983.3 361.7L992.6 359.7L1002.1 356.6L1013.0 357.1L1009.4 353.6L1015.1 351.4L1025.0 347.2L1021.3 356.0L1028.5 351.9L1033.9 347.5L1036.5 352.7L1042.7 351.1L1050.3 353.8L1043.9 356.3L1045.3 359.1ZM874.3 587.5L877.3 586.8L878.2 590.3L883.9 590.5L888.4 590.3L892.0 591.4L899.4 588.0L902.9 586.5L908.6 583.2L917.0 581.6L921.0 580.9L926.7 581.9L929.8 581.5L935.3 581.0L939.4 581.0L943.3 580.7L949.3 578.4L951.4 581.3L955.0 580.0L952.9 583.9L953.1 587.2L955.0 589.1L953.7 593.5L950.5 598.3L954.3 598.9L955.2 600.6L957.4 602.5L960.0 603.9L965.2 604.0L970.2 605.4L974.3 606.9L975.7 611.9L981.4 613.6L990.7 617.5L993.8 618.8L995.7 618.1L997.8 615.6L997.8 608.5L1002.1 605.1L1006.8 604.0L1010.2 604.7L1012.3 606.8L1016.5 608.6L1021.8 610.4L1022.0 611.6L1025.6 611.3L1032.0 612.8L1040.1 615.6L1044.6 613.6L1047.0 612.1L1049.9 611.3L1053.7 611.8L1056.0 613.2L1063.2 613.9L1065.2 612.9L1068.4 623.1L1067.2 625.9L1066.5 628.7L1065.6 632.3L1065.3 633.0L1062.2 630.1L1060.3 628.1L1059.8 625.6L1057.2 620.6L1056.3 622.6L1057.7 625.4L1059.8 629.5L1063.4 635.6L1063.9 638.4L1065.6 642.0L1068.4 647.7L1071.3 653.7L1072.2 658.9L1076.7 663.2L1077.9 664.3L1079.3 670.2L1079.4 677.2L1080.1 679.9L1082.7 683.6L1086.0 685.8L1087.4 689.0L1090.0 698.5L1091.7 700.6L1093.6 698.5L1096.5 703.3L1100.3 707.0L1105.7 712.3L1107.5 713.8L1108.3 717.8L1104.8 719.6L1107.6 719.6L1108.1 720.4L1109.3 720.9L1116.4 725.7L1123.6 724.1L1128.3 722.0L1131.6 722.0L1136.4 721.3L1141.6 720.2L1143.8 717.7L1146.3 718.4L1145.4 725.7L1144.2 730.6L1139.5 738.7L1137.1 744.0L1133.3 752.3L1127.8 759.3L1118.1 769.6L1115.2 771.3L1111.9 774.4L1104.8 782.1L1100.2 788.8L1096.9 792.0L1093.6 793.7L1093.2 796.9L1091.1 801.2L1088.9 804.5L1088.4 806.5L1086.9 811.9L1087.4 813.6L1089.3 815.6L1089.8 820.7L1090.3 826.7L1091.3 832.3L1093.6 833.7L1094.8 834.7L1094.3 839.3L1095.0 847.9L1096.0 856.2L1096.2 858.7L1092.2 865.1L1083.9 870.6L1078.4 874.0L1075.1 879.1L1068.2 884.3L1067.7 887.9L1068.9 890.6L1070.4 896.0L1071.3 906.1L1069.8 909.6L1062.5 912.8L1057.5 917.6L1058.9 922.5L1056.8 931.0L1055.1 933.2L1050.1 939.2L1047.2 944.1L1043.0 949.1L1035.1 957.0L1030.4 960.3L1024.4 962.4L1020.6 963.7L1013.6 963.0L1007.8 963.6L997.6 967.3L994.0 965.0L992.0 964.7L990.4 964.6L990.0 962.1L987.6 957.0L989.5 951.8L987.3 947.2L984.6 941.7L982.7 935.8L980.8 932.2L974.5 921.4L973.5 918.9L972.8 912.3L971.4 901.1L971.5 899.7L968.8 894.7L966.2 889.5L963.3 883.1L959.5 875.0L958.4 870.5L958.8 862.8L960.2 859.6L961.2 854.9L966.2 845.8L966.9 844.6L968.3 838.6L967.8 836.1L965.4 826.1L964.7 821.0L963.7 817.8L961.2 812.0L961.4 811.3L960.5 809.0L958.8 805.1L955.5 800.7L953.1 798.0L949.1 793.1L943.8 783.4L946.7 781.7L947.4 778.1L948.0 774.9L948.9 770.4L949.1 767.9L949.5 764.8L947.9 760.4L946.2 759.2L945.0 758.8L943.1 756.2L941.9 756.2L938.4 756.7L936.5 757.2L931.5 757.9L928.8 753.9L926.2 749.4L918.6 746.7L915.3 747.0L914.0 747.1L910.2 747.7L908.3 748.2L907.2 749.4L905.5 750.1L901.5 751.3L896.5 753.6L894.1 754.7L892.5 755.4L891.8 754.8L887.7 753.6L883.4 752.7L878.7 753.5L873.5 754.4L870.9 755.4L867.5 757.2L866.6 757.4L865.7 757.4L859.5 754.1L854.7 749.5L851.1 747.4L848.4 745.0L847.8 744.1L847.4 743.9L843.0 740.8L840.9 739.0L839.4 736.0L839.9 734.0L839.2 733.0L837.3 730.6L835.4 727.8L833.0 724.6L830.9 723.0L829.2 721.7L828.3 718.3L824.9 717.5L823.0 715.8L822.6 714.4L822.8 711.9L823.5 709.9L823.8 709.1L822.8 707.3L821.6 704.9L819.2 703.3L820.9 702.2L824.0 696.2L826.2 685.2L824.0 678.4L825.2 672.9L824.0 670.8L821.4 670.9L821.1 670.5L822.1 664.8L826.6 655.1L827.8 650.7L833.5 641.8L838.7 636.2L841.0 631.9L848.5 628.7L854.0 623.8L856.6 618.0L855.5 616.8L856.0 611.9L858.5 607.4L862.0 602.0L866.3 600.0L869.9 597.6L871.1 596.0L873.2 590.8L873.8 589.3ZM1136.9 842.8L1139.7 850.7L1142.6 860.2L1138.8 861.8L1137.4 873.4L1134.5 884.1L1130.2 898.7L1126.4 911.8L1117.4 915.6L1111.7 912.3L1108.8 903.6L1108.3 894.9L1113.6 885.8L1111.7 877.2L1111.7 869.2L1116.0 864.9L1122.6 862.3L1126.9 857.5L1130.2 851.2L1135.0 844.9ZM1580.0 835.9L1584.8 845.9L1586.2 854.9L1590.0 854.9L1593.4 858.6L1593.8 866.0L1596.7 872.4L1598.1 879.3L1604.3 882.0L1610.0 887.4L1612.4 892.8L1615.2 897.6L1619.5 899.2L1620.0 904.7L1623.8 906.8L1630.4 912.8L1630.9 920.5L1632.3 929.9L1630.0 943.3L1629.0 950.6L1623.8 956.9L1621.4 962.6L1619.0 969.4L1615.7 977.5L1615.2 982.8L1607.6 984.5L1601.0 989.8L1598.1 992.2L1593.8 987.5L1590.0 986.9L1584.8 990.4L1578.6 988.1L1571.5 985.7L1567.2 981.0L1566.3 974.1L1561.0 971.7L1559.1 963.7L1557.7 968.9L1553.4 970.0L1556.3 962.6L1558.2 956.9L1557.7 954.6L1553.9 960.8L1548.7 967.1L1545.3 965.4L1540.6 956.9L1537.7 951.8L1531.1 951.2L1526.3 948.4L1515.8 949.5L1507.8 952.9L1501.1 954.6L1493.0 956.9L1489.7 962.0L1482.1 962.0L1472.6 962.6L1465.0 967.7L1463.1 968.9L1456.9 968.3L1450.2 964.8L1449.3 960.3L1452.6 958.6L1452.6 948.9L1449.3 939.9L1447.4 932.1L1445.5 927.1L1441.7 918.9L1443.1 921.1L1445.5 919.4L1441.7 909.6L1443.1 904.1L1443.1 899.2L1445.5 894.9L1451.7 893.3L1457.4 888.4L1464.5 886.8L1468.8 885.2L1477.8 883.1L1484.0 875.0L1483.5 870.3L1490.2 871.3L1489.7 866.0L1494.0 865.5L1495.9 860.2L1500.2 855.4L1505.9 852.2L1510.1 855.4L1512.5 858.0L1518.7 858.0L1517.8 853.3L1522.0 849.1L1524.4 844.9L1529.6 843.8L1533.0 840.1L1534.9 839.6L1541.1 842.8L1545.3 843.8L1550.6 841.2L1553.4 844.3L1550.6 849.1L1548.7 853.8L1546.3 858.0L1552.5 863.3L1557.2 864.9L1563.4 868.7L1568.2 872.9L1572.0 871.9L1574.3 864.4L1575.8 854.9L1576.2 847.5L1577.2 842.8L1578.1 837.5ZM1525.4 784.3L1532.0 782.2L1539.6 784.3L1540.6 793.1L1544.4 797.3L1550.6 791.6L1557.7 787.9L1565.8 791.6L1572.9 793.7L1580.0 796.8L1589.6 799.9L1595.7 806.1L1600.5 811.4L1605.2 812.4L1602.4 815.5L1605.7 821.3L1612.4 827.0L1619.0 833.8L1614.8 834.4L1605.7 832.8L1601.0 828.1L1596.7 822.3L1590.0 820.2L1584.8 823.4L1583.8 827.0L1575.3 828.1L1572.0 826.5L1564.4 822.3L1558.6 823.9L1562.4 817.1L1559.6 809.3L1552.9 805.1L1545.3 803.0L1538.7 800.9L1534.4 801.5L1536.3 793.1L1530.1 794.7L1526.3 787.9ZM1723.6 965.1L1726.5 968.9L1731.3 970.0L1733.6 975.8L1737.4 977.5L1738.9 983.4L1745.0 985.7L1750.3 983.4L1751.2 984.5L1748.4 992.8L1744.1 993.4L1743.6 998.7L1736.0 1007.1L1733.2 1005.3L1735.5 998.7L1732.7 995.7L1728.9 993.9L1732.7 990.4L1733.6 982.2L1730.8 976.4L1725.5 969.4ZM1723.6 1000.5L1725.5 1005.3L1730.8 1003.5L1731.3 1008.3L1726.0 1015.5L1724.1 1020.4L1717.5 1023.4L1715.1 1031.5L1712.2 1033.9L1707.5 1037.7L1702.7 1037.7L1695.1 1035.2L1694.6 1031.5L1700.3 1024.7L1705.6 1021.0L1713.2 1015.5L1717.0 1009.5L1720.8 1002.9ZM1590.5 1001.7L1597.6 1004.4L1605.7 1002.3L1607.6 1005.3L1607.1 1010.7L1605.7 1016.1L1601.4 1019.2L1596.7 1018.6L1593.8 1013.7L1592.9 1008.3ZM533.9 637.6L536.3 639.8L535.4 642.5L534.4 640.9ZM549.2 660.0L551.1 661.6L550.6 663.2L549.6 662.1ZM1772.6 490.0L1775.5 490.0L1775.0 488.0L1773.1 488.4ZM262.9 447.4L270.0 460.6L274.8 468.0L270.0 469.4L265.3 461.9L259.1 455.1L254.3 448.1L258.2 446.0ZM1751.2 490.7L1756.0 492.3L1755.5 491.3L1752.2 490.0ZM436.5 286.7L446.0 287.7L448.4 282.0L438.8 279.2ZM530.1 648.0L532.5 648.5L533.0 653.4L530.6 651.3ZM595.8 502.0L602.9 505.5L609.1 506.8L605.3 503.0L598.1 501.4ZM608.1 690.3L609.1 690.6L608.6 691.1ZM569.4 714.4L570.2 715.2L569.6 715.3ZM1782.1 487.7L1786.9 487.7L1786.4 485.7L1782.6 486.1ZM1722.7 482.4L1727.0 482.8L1726.5 481.4L1723.2 481.4ZM446.0 268.5L455.5 274.4L469.8 283.9L484.0 283.0L488.8 277.2L481.6 269.5L469.8 261.7L460.2 254.7L450.7 259.7ZM593.4 419.5L579.1 416.6L564.8 411.4L557.7 405.4L548.2 400.9L531.6 401.7L533.9 394.1L550.6 393.3L553.0 384.8L557.7 377.0L553.9 370.6L545.8 365.8L533.9 359.3L526.8 354.4L517.3 356.9L499.2 356.9L481.6 351.9L476.9 346.9L475.5 335.9L476.9 325.6L493.5 324.3L498.3 329.1L495.9 341.9L501.6 338.5L503.0 326.5L514.9 325.2L518.3 333.4L522.1 325.2L537.3 328.2L536.3 334.2L548.2 341.9L562.5 346.9L576.7 352.7L581.5 360.9L586.2 370.6L598.1 376.2L611.0 383.2L605.3 391.8L600.5 396.4L591.0 389.5L579.1 383.2L583.9 391.8L594.8 404.7L595.3 412.2L586.2 409.9L576.7 405.8L586.2 415.8ZM319.0 347.8L329.5 344.4L336.6 337.7L343.7 329.1L350.9 323.9L343.7 320.4L324.7 318.6L310.5 320.4L309.5 329.1L304.3 338.5L306.7 341.0L315.2 346.1ZM619.0 710.7L619.8 711.5L619.2 712.0ZM407.9 313.3L427.0 314.2L437.4 309.7L434.1 299.7L422.2 298.8L412.7 303.4L406.5 309.7ZM577.2 715.9L578.2 716.7L577.7 717.3ZM558.7 665.1L562.0 665.4L561.5 666.2ZM542.5 650.2L544.2 652.3L543.7 652.6ZM549.6 1017.3L553.0 1017.3L553.4 1009.5L550.1 1008.3ZM547.3 1021.0L551.1 1020.4L551.5 1025.3L549.6 1030.2L547.7 1033.9L544.9 1033.3L546.3 1028.4L545.8 1024.7ZM443.6 314.2L455.5 317.3L457.9 311.5L450.7 308.4L443.6 309.7ZM488.8 672.1L490.0 672.4L489.0 673.7ZM498.5 665.1L501.6 662.1L507.8 658.9L510.6 658.1L514.9 658.3L522.1 659.1L529.2 662.1L535.4 665.9L542.5 669.1L549.9 673.7L544.9 675.6L542.0 675.3L533.0 675.9L535.8 672.6L531.6 671.3L528.2 666.7L522.1 665.6L519.9 664.0L516.3 663.2L512.5 662.1L511.1 660.8L506.4 663.2L503.0 664.6L500.7 665.6ZM573.6 715.7L575.5 717.0L575.1 717.3ZM443.6 312.4L460.2 317.7L484.0 318.6L507.8 317.7L522.1 316.8L524.4 310.6L517.3 307.0L498.3 307.9L479.3 308.8L467.4 300.6L455.5 297.9L446.0 299.7L462.6 307.0ZM610.3 698.5L611.2 699.3L610.7 700.6ZM537.7 645.2L540.1 646.9L540.4 649.6L539.4 647.4ZM405.6 283.0L419.8 288.6L431.7 285.8L429.3 277.2L415.1 274.4L403.2 276.3ZM474.5 302.5L488.8 301.6L503.0 302.0L519.7 303.4L531.6 297.0L529.2 287.7L543.5 282.0L541.1 275.3L550.6 272.4L562.5 270.5L569.6 263.6L588.6 258.7L595.8 252.7L607.6 246.6L610.0 242.5L595.8 238.3L569.6 236.3L545.8 236.8L526.8 236.3L512.5 238.3L493.5 242.5L484.0 246.6L469.8 248.6L488.8 252.7L472.1 257.7L481.6 264.6L493.5 267.6L491.1 273.4L498.3 277.2L486.4 283.9L481.6 288.6L491.1 293.3L476.9 294.2ZM540.6 654.8L543.0 656.4L542.5 656.7ZM526.8 638.9L532.0 638.7L535.4 641.4L532.0 639.5ZM693.7 434.7L686.1 431.8L681.3 428.2L672.8 426.8L666.1 418.8L660.0 409.9L656.6 402.4L650.9 393.3L647.1 381.7L650.9 367.4L659.5 363.4L660.9 358.5L653.8 356.0L643.3 351.1L655.2 347.8L640.9 344.4L635.7 333.4L633.8 323.0L625.7 312.4L614.8 305.2L600.5 303.4L586.2 305.6L575.3 300.6L564.8 296.0L573.4 291.4L556.3 284.8L574.4 277.2L593.4 269.5L583.9 264.6L600.5 255.7L610.0 248.6L631.4 245.6L650.4 246.6L664.7 242.5L683.7 244.5L693.2 238.3L712.3 234.2L743.6 230.7L769.3 235.2L788.3 240.4L797.8 245.6L769.3 247.6L793.1 251.7L816.9 251.7L847.8 253.7L831.1 260.7L819.2 266.6L812.1 275.3L809.7 286.7L814.5 297.0L800.2 303.4L808.3 311.5L809.7 318.6L797.8 324.7L788.3 332.5L797.8 338.5L797.8 351.9L778.8 353.6L793.1 356.4L790.7 360.9L778.8 368.2L759.8 372.2L745.5 378.5L736.0 385.6L723.7 391.8L712.3 396.4L707.5 407.7L700.4 422.4L698.0 431.1ZM608.8 716.5L609.5 717.0L608.8 717.5ZM608.6 694.8L611.0 694.3L610.5 696.7L609.1 696.4ZM270.0 474.1L276.2 474.4L275.3 481.4L279.6 488.0L273.8 483.4L271.0 478.8ZM160.4 676.4L161.4 680.2L162.6 680.7L166.1 677.7L164.5 675.3L161.4 673.7ZM548.4 683.9L550.1 682.3L556.3 683.4L558.4 682.8L556.8 679.9L556.8 678.0L553.4 675.6L559.1 676.1L561.3 676.7L566.3 676.1L570.1 676.9L573.4 678.8L571.5 680.2L577.5 682.6L574.6 683.6L570.1 683.4L567.2 684.7L564.4 684.7L562.9 687.9L561.3 685.5L557.7 684.7L551.8 684.7ZM794.5 405.4L802.6 405.1L813.1 408.4L826.4 403.2L833.5 400.9L838.3 396.4L833.0 388.7L825.4 384.8L816.9 387.5L805.9 387.9L801.6 393.3L795.5 385.2L786.4 392.2L797.8 393.3L796.4 396.4L788.3 397.5L797.8 401.7ZM552.2 668.9L554.9 668.1L555.1 670.0L553.0 670.0ZM467.4 779.6L469.3 780.7L470.2 784.8L467.6 785.3ZM529.9 684.2L533.9 683.1L539.6 685.0L539.6 686.3L535.4 687.1L530.6 685.2ZM507.3 664.8L509.7 664.8L509.7 667.0L507.8 667.0ZM142.8 663.7L144.3 664.9L145.0 663.5L143.8 663.0ZM429.3 364.2L438.8 368.6L448.4 366.6L447.9 360.9L441.2 357.7L432.7 360.1ZM167.3 452.3L172.6 455.4L178.7 450.9L178.3 446.0L174.0 446.4L169.2 449.5ZM544.4 655.6L546.3 658.3L546.5 659.4L545.4 657.8ZM596.2 722.5L599.1 722.0L598.8 723.3L596.7 723.3ZM611.4 702.5L613.1 703.3L612.6 704.9ZM157.3 670.2L159.2 671.8L160.7 671.3L159.2 669.7ZM346.1 311.5L355.6 314.6L365.1 319.5L379.4 315.9L396.0 314.2L400.8 307.0L386.5 300.6L381.8 306.1L372.3 303.4L360.4 300.6L348.5 302.5L353.3 307.0ZM154.5 669.1L157.1 669.4L157.1 668.6L154.7 668.6ZM533.7 647.5L535.1 647.7L534.4 648.1ZM620.5 516.3L629.0 516.3L636.7 520.1L640.0 520.7L645.7 521.3L650.0 522.3L651.9 517.0L650.4 510.6L646.6 508.1L647.6 504.2L640.9 503.6L637.1 501.0L638.6 491.3L632.4 493.3L629.0 499.7L625.2 506.8L621.9 511.3ZM106.5 431.8L112.2 434.7L115.0 432.6L112.2 430.0ZM150.0 666.7L150.7 668.1L152.6 668.1L151.6 665.9ZM596.2 522.0L601.9 525.1L607.6 524.5L606.7 523.2L599.1 520.4ZM317.6 305.2L331.9 306.1L346.1 300.6L350.9 292.3L336.6 293.3L320.0 300.6ZM417.4 340.2L429.3 345.2L441.2 340.2L442.6 331.7L436.5 323.9L424.6 324.7L419.8 329.1L424.6 333.4L415.1 334.2ZM582.9 683.6L588.6 683.1L590.5 684.4L588.6 686.0L582.9 686.0ZM472.1 782.7L473.6 783.3L472.8 784.3ZM476.4 784.0L477.8 784.3L477.1 785.1ZM448.4 338.5L457.9 340.2L469.8 333.4L474.5 324.7L460.2 321.7L448.4 325.6L447.4 332.5ZM488.8 407.7L495.9 409.9L505.4 403.9L517.3 407.7L521.1 403.9L514.9 400.2L503.0 394.1L498.3 389.5L493.5 392.5L492.1 400.9ZM593.9 686.9L595.3 687.1L594.6 687.5ZM603.6 689.0L604.8 690.0L604.3 690.3ZM93.2 410.3L99.8 409.9L96.5 408.1L93.2 406.6ZM1797.8 408.8L1804.7 410.3L1804.7 406.6L1798.3 406.2ZM612.2 706.7L612.9 707.5L612.2 708.5ZM611.2 710.4L611.8 710.9L611.4 711.6ZM576.3 1076.5L580.5 1084.2L586.2 1088.2L592.9 1089.9L586.2 1092.6L583.9 1094.3L582.4 1098.7L576.7 1096.3L569.6 1095.6L562.5 1092.2L555.3 1087.5L548.2 1080.2L553.0 1080.2L560.1 1084.2L564.8 1084.8L568.2 1081.5L568.7 1077.5ZM613.1 721.7L614.8 720.9L614.5 722.0ZM608.1 727.8L612.4 727.5L612.6 723.8L609.1 724.4ZM98.9 482.4L104.6 479.4L103.1 477.8L98.9 480.1ZM105.0 479.4L111.7 476.8L111.7 474.4L107.4 475.8ZM118.4 470.7L126.0 469.7L125.5 468.0L119.8 468.4ZM291.9 496.2L294.8 500.4L303.3 506.2L308.1 509.4L315.2 511.9L315.7 508.7L309.0 502.3L300.9 497.2L296.2 494.9ZM344.7 357.3L355.6 363.0L362.8 369.0L379.4 368.2L393.7 365.0L403.2 364.2L418.4 360.1L422.7 354.4L415.1 348.6L405.6 345.2L406.0 335.1L401.3 330.8L391.3 329.5L386.5 335.1L377.0 332.1L367.5 332.5L358.0 328.2L342.3 332.5L337.6 340.2L343.7 345.2L353.3 344.4L367.5 351.9L358.0 354.4L346.1 351.1L350.9 355.2ZM593.1 683.6L595.3 683.9L594.3 684.3ZM1343.2 709.6L1344.7 712.3L1344.2 719.1L1342.3 718.1ZM1446.9 822.6L1452.6 823.6L1449.8 826.0ZM1402.7 790.0L1407.4 787.9L1409.8 795.2L1406.0 794.2ZM1232.9 329.1L1240.1 327.3L1243.4 330.8L1235.3 332.1ZM942.6 760.6L944.8 761.2L943.8 763.2ZM1420.8 772.3L1423.6 769.7L1431.2 772.3L1432.2 766.1L1439.8 763.5L1446.0 756.2L1451.7 751.5L1457.4 744.2L1461.6 746.3L1469.3 752.6L1464.0 757.8L1462.1 761.4L1463.5 768.2L1468.3 774.9L1463.1 776.0L1461.2 784.3L1456.9 787.9L1455.9 794.7L1454.0 799.4L1447.9 801.5L1444.5 797.8L1439.8 796.8L1434.5 798.3L1426.5 795.2L1426.0 788.5L1421.2 782.7L1421.7 778.1ZM972.4 466.4L974.3 466.4L974.3 468.0L972.6 467.7ZM1637.6 808.2L1641.9 811.4L1643.8 815.5L1640.4 814.0ZM1501.6 796.8L1506.8 796.5L1506.8 799.6L1502.5 799.9ZM822.1 629.5L825.9 628.4L824.0 631.2ZM827.3 631.5L829.2 630.6L829.2 632.6L827.8 632.9ZM833.5 630.9L836.4 627.6L836.6 629.8L834.5 631.2ZM836.6 626.5L838.5 624.8L838.3 626.2ZM816.9 627.3L818.1 627.0L817.6 628.7ZM789.8 700.1L791.2 700.6L790.7 702.2ZM1488.7 730.9L1492.3 721.5L1490.2 726.5ZM1108.1 839.6L1109.3 841.7L1108.3 842.2ZM943.3 548.4L947.2 544.8L947.9 550.2L946.2 554.4L943.3 551.4ZM1014.4 590.3L1017.5 588.5L1024.7 590.0L1027.5 590.8L1024.7 592.0L1019.9 592.3L1014.4 590.5ZM1056.0 591.7L1059.4 590.0L1066.7 588.1L1063.6 591.7L1059.4 594.3L1056.8 593.4ZM1004.7 287.7L1016.6 287.7L1019.0 293.3L1009.4 293.7L1002.3 291.4ZM1013.2 569.0L1017.5 571.1L1019.2 574.3L1016.6 572.8L1013.2 570.2ZM867.3 417.3L871.1 416.2L871.1 419.5L868.2 421.7ZM1745.5 872.9L1750.3 871.3L1752.2 874.5L1746.5 875.6ZM1752.6 867.6L1758.4 864.9L1757.4 867.1L1753.6 869.2ZM1472.1 824.4L1477.8 823.9L1486.8 822.3L1486.4 824.9L1477.8 826.8L1472.6 826.0ZM1116.4 261.7L1128.3 258.7L1142.6 259.2L1145.0 262.6L1130.7 266.6L1116.4 264.6ZM1154.5 263.6L1173.5 259.7L1185.4 260.7L1192.5 263.6L1173.5 267.6L1159.2 266.1ZM1164.0 256.7L1178.2 249.6L1187.8 252.7L1202.0 251.7L1211.5 257.7L1197.3 259.7L1178.2 257.7ZM949.1 465.3L951.9 464.0L953.8 466.0L952.9 467.7L950.0 467.4ZM988.8 452.6L992.3 447.8L993.3 448.8L991.6 452.6L989.5 454.7ZM875.4 500.7L878.4 501.0L882.5 498.8L885.8 499.1L886.3 496.8L890.6 497.2L893.4 497.2L896.3 495.9L901.5 495.9L906.7 495.2L909.1 493.6L909.1 492.0L905.3 491.6L906.7 489.7L910.1 487.4L910.8 484.1L908.6 481.8L904.4 481.8L902.9 482.8L904.1 480.1L902.9 477.4L900.6 476.8L902.5 476.4L901.5 474.1L896.7 470.4L895.3 467.4L893.9 463.6L890.6 461.2L886.8 461.2L889.1 459.2L891.0 456.4L892.9 452.3L893.9 450.9L892.5 449.5L885.8 449.5L883.0 450.6L883.9 448.5L887.7 444.6L888.0 442.9L883.4 443.6L878.7 443.1L877.3 446.0L874.9 450.2L875.4 454.4L873.0 456.4L876.3 458.5L875.8 462.6L874.9 466.0L877.7 465.0L879.2 464.0L880.1 468.0L878.2 469.7L881.5 470.1L885.8 468.7L886.3 471.4L887.2 474.1L888.9 474.1L888.2 476.4L887.7 478.8L882.5 479.4L880.6 482.8L883.0 484.1L883.0 486.7L877.7 488.7L878.7 490.3L882.5 491.0L887.2 492.0L889.6 491.0L887.7 493.3L882.5 493.3L880.6 495.2L878.2 498.5ZM1419.1 679.4L1423.6 675.3L1428.4 674.5L1430.3 677.2L1427.6 682.0L1423.1 684.7L1419.3 683.1ZM1508.7 774.9L1511.1 769.0L1510.6 773.4L1514.4 772.3L1512.0 776.2L1514.9 778.6L1510.6 777.8L1512.5 784.3L1509.7 780.1ZM868.7 448.8L873.0 443.9L873.0 446.0L867.7 453.7ZM1007.5 441.1L1010.4 440.0L1011.8 441.8L1009.4 442.5ZM1568.4 553.8L1572.4 552.3L1573.9 547.8L1582.4 550.8L1587.2 545.1L1594.3 542.9L1592.9 537.4L1584.8 536.8L1577.2 529.4L1576.2 535.6L1574.3 542.9L1570.1 543.6L1567.7 547.8ZM1524.9 597.7L1527.7 593.7L1533.0 589.7L1539.6 588.8L1545.8 588.5L1549.1 586.2L1552.5 581.6L1555.3 577.5L1553.4 580.1L1556.3 581.6L1561.5 578.1L1565.8 572.8L1568.2 563.4L1568.2 559.2L1569.6 555.6L1572.9 554.1L1574.8 554.7L1575.3 559.8L1577.7 565.2L1575.8 572.2L1572.9 574.0L1572.4 581.0L1571.0 586.2L1572.0 588.0L1569.6 590.8L1567.2 592.3L1567.2 588.5L1564.4 590.3L1562.4 594.0L1560.1 594.0L1555.3 594.3L1553.4 596.0L1550.6 600.6L1547.7 600.6L1544.9 598.3L1546.3 594.3L1542.0 593.4L1537.2 595.1L1532.0 596.0L1529.2 598.0L1525.4 598.0ZM854.9 490.7L857.8 491.3L863.0 489.3L869.2 487.0L872.0 486.7L873.7 482.1L873.4 478.1L873.0 474.8L875.8 472.8L876.3 470.1L873.4 466.7L867.7 466.0L863.0 467.0L861.6 470.7L863.0 471.8L859.7 472.8L854.9 472.8L856.3 477.4L854.4 478.1L859.7 480.4L857.3 484.1L853.5 487.0ZM1402.7 815.5L1407.0 810.8L1411.2 811.1L1417.9 814.5L1427.9 816.1L1430.3 813.4L1437.9 816.1L1446.4 820.2L1446.4 824.9L1438.3 823.9L1430.3 823.1L1419.3 820.2L1408.9 818.7ZM1502.5 601.7L1505.9 600.6L1504.4 602.0ZM1131.6 364.2L1137.8 360.9L1141.6 364.2L1136.4 367.4ZM1594.3 539.9L1599.1 535.9L1597.2 538.1ZM1601.4 533.8L1610.0 529.4L1605.7 531.3ZM1629.0 518.8L1634.7 508.7L1643.3 499.1L1644.7 496.5L1640.9 500.4ZM1519.2 601.7L1522.5 600.0L1525.4 598.3L1528.7 600.0L1529.6 604.0L1527.3 612.5L1523.9 614.4L1521.6 613.0L1521.6 608.0L1519.7 605.1ZM1025.6 567.5L1028.9 566.6L1028.5 568.7L1026.1 568.4ZM963.8 373.8L971.4 371.0L977.6 368.6L973.8 367.0L975.2 363.8L978.5 362.6L980.0 366.2L975.2 370.6L970.0 372.2L964.3 373.4ZM954.8 469.4L960.0 468.7L959.0 470.7L955.7 470.4ZM1454.0 823.9L1457.4 823.9L1456.4 826.5L1454.0 826.2ZM1474.5 696.4L1475.9 683.1L1482.1 684.2L1484.0 690.0L1480.2 696.9L1481.1 705.9L1485.9 705.4L1491.6 708.0L1492.6 714.6L1488.7 712.3L1485.4 710.7L1481.1 707.5L1475.9 708.0L1477.3 704.3L1473.5 702.8ZM1568.2 327.3L1577.7 323.9L1584.8 329.1L1575.3 329.9ZM913.6 565.2L917.2 563.1L918.9 564.6L917.0 566.9ZM1175.4 885.8L1177.1 886.8L1175.4 887.9ZM1482.1 744.0L1484.5 738.5L1489.2 734.8L1494.0 735.6L1499.2 729.3L1503.0 734.3L1504.4 742.1L1502.1 747.4L1498.7 751.0L1499.2 744.8L1496.4 748.9L1492.1 746.8L1493.0 741.6L1488.7 741.1L1483.5 743.7ZM1474.5 709.9L1478.8 709.9L1480.2 714.4L1478.0 716.2ZM1484.5 728.0L1487.8 723.0L1489.9 723.8L1488.7 731.7L1486.8 733.0L1484.5 729.9ZM1556.3 311.5L1563.4 304.3L1577.7 305.2L1591.9 309.7L1584.8 315.1L1568.2 315.9L1561.0 315.1ZM1599.1 312.4L1611.0 310.6L1618.1 313.3L1611.0 316.4L1601.4 315.9ZM1608.1 808.8L1617.1 808.8L1622.8 802.2L1626.6 802.0L1625.7 807.2L1619.0 812.4L1612.4 812.4ZM1682.3 885.8L1689.4 890.6L1696.5 897.6L1693.2 897.1L1686.6 892.2ZM1619.5 793.9L1626.2 798.3L1630.0 804.1L1628.5 800.9L1622.8 795.2ZM1364.2 772.9L1368.0 777.0L1366.5 775.5ZM1164.0 329.1L1171.1 321.2L1166.4 313.3L1178.2 308.8L1192.5 302.9L1211.5 300.2L1229.6 296.5L1225.8 302.5L1206.8 307.9L1192.5 312.4L1190.1 318.6L1180.6 323.0L1177.3 326.5L1171.1 329.5ZM1147.3 343.6L1154.5 335.9L1156.8 329.9L1164.0 328.2L1171.1 330.4L1168.7 338.5L1166.4 346.1L1175.9 351.9L1164.0 351.9L1156.8 349.4L1149.7 347.8ZM1509.4 642.0L1512.5 637.8L1511.1 639.8ZM980.4 459.5L983.8 451.9L983.1 455.1L981.2 459.5ZM886.8 440.4L889.1 438.3L890.6 439.7L888.7 441.4ZM1459.7 736.4L1463.5 732.2L1469.7 724.9L1470.7 720.9L1468.3 725.9L1464.5 732.2L1460.2 735.9ZM1482.1 718.1L1487.8 719.9L1487.3 723.0L1482.6 725.7ZM1165.4 890.1L1167.8 891.1L1166.4 892.5ZM1034.2 585.4L1036.5 583.6L1036.1 585.9L1034.6 586.8ZM1006.4 445.3L1010.4 443.2L1013.2 444.3L1008.5 447.1L1007.1 447.8ZM1559.6 575.5L1561.3 572.8L1561.0 574.9ZM1577.2 526.0L1580.5 522.0L1584.8 521.3L1582.4 517.0L1581.0 510.6L1583.4 505.5L1588.1 507.4L1590.5 509.4L1583.8 501.0L1585.7 491.3L1583.8 482.8L1582.4 475.4L1580.0 472.8L1578.6 478.1L1576.7 486.7L1578.1 495.9L1578.1 504.2L1577.7 513.8L1577.7 521.3ZM1493.5 714.6L1498.3 714.6L1500.2 721.7L1497.1 724.4L1496.8 728.0L1493.5 723.3L1496.4 720.7ZM933.4 778.1L934.6 778.6L933.6 779.9ZM941.4 557.1L946.2 555.3L948.8 559.8L948.1 567.5L945.2 568.4L942.4 569.0L942.4 563.4ZM1511.1 796.8L1518.2 794.7L1524.4 796.8L1520.1 798.1L1511.6 798.1ZM1356.6 276.3L1366.1 267.6L1378.0 265.6L1392.2 273.4L1397.0 281.1L1382.7 284.8L1375.6 279.2L1363.7 278.7ZM1335.2 266.6L1344.7 258.7L1358.9 255.7L1368.4 260.7L1354.2 266.6L1342.3 271.5ZM1378.0 286.7L1392.2 283.9L1404.1 283.9L1399.4 287.7L1382.7 289.5ZM894.8 432.6L897.2 427.9L898.7 427.9L896.7 433.3ZM1531.8 600.9L1534.4 597.1L1539.6 595.7L1543.0 596.6L1543.0 598.9L1540.6 601.7L1536.3 601.1L1534.6 604.8ZM1371.3 785.3L1374.6 789.0L1373.2 788.5ZM961.7 574.6L965.7 573.4L976.6 573.0L974.3 578.1L974.3 582.5L970.5 580.1L963.8 577.2ZM871.1 451.9L873.0 449.9L875.4 452.6L873.4 453.7ZM1155.9 714.6L1161.6 714.4L1159.2 715.9ZM1646.6 815.0L1651.4 818.1L1656.1 819.7L1662.3 823.9L1658.5 822.3L1649.9 818.7ZM1661.4 828.6L1667.1 829.1L1665.6 831.5L1662.3 830.9ZM1666.1 823.9L1668.0 828.1L1669.9 830.2L1668.0 824.9ZM1669.4 833.8L1674.2 835.4L1672.8 836.5ZM1281.9 730.1L1283.8 729.1L1288.6 735.9L1291.9 742.1L1290.5 746.8L1285.7 749.2L1282.9 747.4L1281.7 741.1L1282.4 735.4ZM1472.1 776.5L1477.3 773.4L1488.7 775.2L1496.4 771.6L1497.8 772.9L1493.0 778.1L1480.2 777.8L1474.0 779.9L1473.5 784.3L1479.2 785.1L1488.7 783.5L1489.2 785.3L1482.1 789.8L1486.4 796.8L1486.4 803.0L1483.0 804.1L1480.7 800.9L1477.3 794.2L1475.0 796.3L1475.0 808.8L1470.7 808.8L1471.2 798.3L1467.3 794.7L1469.7 786.9L1472.1 780.1ZM1355.6 751.0L1366.1 752.8L1369.9 758.3L1378.0 766.1L1382.2 769.2L1392.7 777.0L1396.0 779.6L1394.6 785.3L1399.4 789.5L1406.5 795.7L1406.0 802.0L1405.5 810.3L1399.8 810.3L1398.4 807.2L1388.9 800.9L1382.7 793.7L1379.9 784.8L1373.7 778.6L1371.8 771.3L1364.6 763.5L1356.6 755.2ZM1468.3 829.6L1474.0 828.9L1476.9 832.3L1473.1 833.8L1468.8 831.2ZM1457.8 824.9L1463.1 822.3L1468.8 823.1L1468.3 825.7L1463.1 826.5L1457.8 827.3ZM953.8 278.2L958.6 269.5L969.0 269.5L978.5 267.1L985.7 269.5L999.9 264.6L1016.6 264.6L1031.8 266.6L1028.5 273.4L1014.2 275.3L1002.3 280.1L992.8 281.1L1004.7 284.8L990.4 291.4L983.3 298.8L973.8 295.1L969.0 290.5L966.6 284.8L957.1 283.0ZM1473.5 658.9L1476.4 651.3L1480.2 646.3L1482.6 648.0L1480.2 656.2L1477.1 664.6ZM1489.7 834.1L1494.0 829.1L1497.3 827.5L1507.8 823.9L1505.9 826.0L1497.3 830.2L1494.0 833.0ZM1516.8 596.6L1518.2 593.7L1517.5 596.0ZM1694.6 858.6L1697.5 861.8L1695.6 861.8ZM1697.5 864.4L1700.3 866.5L1698.9 867.1ZM1702.2 872.4L1704.1 873.4L1702.7 873.7ZM1180.6 356.0L1189.2 353.6L1188.7 358.5L1183.0 359.3ZM1751.2 347.8L1758.4 344.4L1768.8 346.5L1770.2 349.0L1760.7 350.3L1753.6 349.8ZM1088.9 810.1L1090.5 811.9L1089.6 813.7ZM955.2 463.3L958.6 461.6L962.4 460.9L962.4 464.3L960.0 468.0L956.2 466.7Z" fill="none" stroke="#2a2a2a" stroke-width="0.8" stroke-linejoin="round"/>
</svg>
<h1 id="title" class="t">قرار الأمم المتحدة لوقف بيع ونقل الأسلحة لإسرائيل</h1>
<p id="sub" class="t">خريطة تظهر نتائج تصويت كل من الدول المؤيدة للقرار والمعارضة له والدول التي امتنعت عن التصويت</p>

<span class="dot b" style="left:1870px;top:167px"></span><span class="t lg" style="right:58px">دول صوتت لصالح القرار</span>
<span class="dot r" style="left:1392px;top:167px"></span><span class="t lg" style="right:532px">دول صوتت ضد القرار</span>
<span class="dot g" style="left:944px;top:167px"></span><span class="t lg" style="right:982px;transform:scaleX(1.05)">دول امتنعت عن التصويت</span>

<span class="dot b" style="left:1845px;top:1134px"></span><span class="t h" style="right:81px">28 دولة صوتت لصالح القرار</span>
<span class="dot r" style="left:1105px;top:1134px"></span><span class="t h" style="right:823px">6 دول صوتت ضد القرار</span>
<span class="dot g" style="left:543px;top:1134px"></span><span class="t h" style="right:1389px;transform:scaleX(.889)">13 دولة امتنعت عن التصويت</span>

<div class="bar b" style="left:1857px;height:579px"></div>
<ul style="right:84.5px"><li>الجزائر</li><li>بنغلاديش</li><li>بلجيكا</li><li>البرازيل</li><li>بوروندي</li><li>شيلي</li><li>الصين</li><li>ساحل العاج</li><li>كوبا</li><li>إريتريا</li><li>فنلندا</li><li>غامبيا</li><li>غانا</li><li>هندوراس</li></ul>
<div class="bar b" style="left:1536px;height:579px"></div>
<ul style="right:406px"><li>إندونيسيا</li><li>كازاخستان</li><li>الكويت</li><li>قيرغيزستان</li><li>لوكسمبورغ</li><li>ماليزيا</li><li>المالديف</li><li>المغرب</li><li>قطر</li><li>الصومال</li><li>جنوب إفريقيا</li><li>السودان</li><li>الإمارات</li><li>فييتنام</li></ul>
<div class="bar r" style="left:1111.8px;width:7.2px;height:241.5px;border-radius:0;top:1200.5px"></div>
<ul style="right:825.5px"><li>الأرجنتين</li><li>بلغاريا</li><li>ألمانيا</li><li>مالاوي</li><li>باراغواي</li><li>أمريكا</li></ul>
<div class="bar g" style="left:548px;height:579px"></div>
<ul style="right:1392.5px"><li>ألبانيا</li><li>بنين</li><li>الكاميرون</li><li>كوستاريكا</li><li>جمهورية الدومينيكان</li><li>فرنسا</li><li>جورجيا</li><li>الهند</li><li>اليابان</li><li>ليتوانيا</li><li>الجبل الأسود</li><li>هولندا</li><li>رومانيا</li></ul>

<span id="src" class="t">المصدر: الأمم المتحدة</span>
<span class="t lar">بالعربية</span><span class="t len">CNN</span>
</body>
</html>
